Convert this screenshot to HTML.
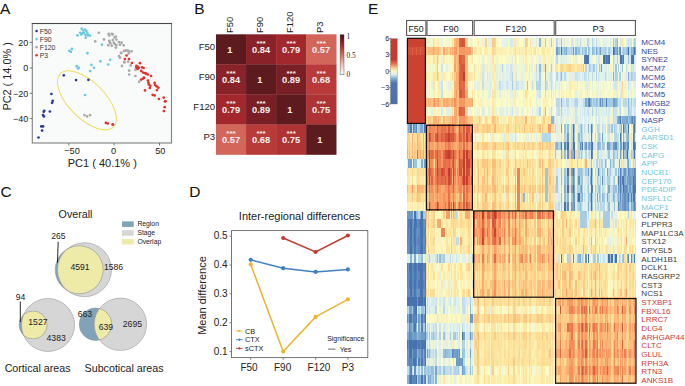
<!DOCTYPE html>
<html><head><meta charset="utf-8"><style>
html,body{margin:0;padding:0;background:#fff;width:685px;height:386px;overflow:hidden;}
svg{display:block;font-family:"Liberation Sans",sans-serif;}
</style></head><body><svg width="685" height="386" viewBox="0 0 685 386" font-family="Liberation Sans, sans-serif"><text x="0.0" y="14.2" font-size="15.5" fill="#111">A</text>
<text x="194.3" y="14.2" font-size="15.5" fill="#111">B</text>
<text x="368.0" y="14.2" font-size="15.5" fill="#111">E</text>
<text x="0.6" y="196.9" font-size="15.5" fill="#111">C</text>
<text x="189.3" y="197.1" font-size="15.5" fill="#111">D</text>
<rect x="32.3" y="23.5" width="139.2" height="119.5" fill="#f9fafa" stroke="#858585" stroke-width="1.15"/>
<line x1="31.799999999999997" y1="23.5" x2="172.0" y2="23.5" stroke="#4a4a4a" stroke-width="1.15"/>
<line x1="68.8" y1="143.0" x2="68.8" y2="145.5" stroke="#555" stroke-width="0.8"/>
<text x="72.0" y="154.3" font-size="9.2" text-anchor="middle" fill="#222">−50</text>
<line x1="114.1" y1="143.0" x2="114.1" y2="145.5" stroke="#555" stroke-width="0.8"/>
<text x="113.6" y="154.3" font-size="9.2" text-anchor="middle" fill="#222">0</text>
<line x1="159.5" y1="143.0" x2="159.5" y2="145.5" stroke="#555" stroke-width="0.8"/>
<text x="160.3" y="154.3" font-size="9.2" text-anchor="middle" fill="#222">50</text>
<line x1="29.799999999999997" y1="42.4" x2="32.3" y2="42.4" stroke="#555" stroke-width="0.8"/>
<text x="28.3" y="45.6" font-size="9" text-anchor="end" fill="#222">20</text>
<line x1="29.799999999999997" y1="68.0" x2="32.3" y2="68.0" stroke="#555" stroke-width="0.8"/>
<text x="28.3" y="71.2" font-size="9" text-anchor="end" fill="#222">0</text>
<line x1="29.799999999999997" y1="93.3" x2="32.3" y2="93.3" stroke="#555" stroke-width="0.8"/>
<text x="28.3" y="96.5" font-size="9" text-anchor="end" fill="#222">−20</text>
<line x1="29.799999999999997" y1="118.6" x2="32.3" y2="118.6" stroke="#555" stroke-width="0.8"/>
<text x="28.3" y="121.8" font-size="9" text-anchor="end" fill="#222">−40</text>
<text x="102.3" y="166.5" font-size="11" text-anchor="middle" fill="#222">PC1 ( 40.1% )</text>
<text transform="translate(11.0,76.4) rotate(-90)" x="0" y="0" font-size="10.9" text-anchor="middle" fill="#222">PC2 ( 14.0% )</text>
<ellipse cx="86.9" cy="100.3" rx="37.6" ry="18.1" transform="rotate(45 86.9 100.3)" fill="none" stroke="#efdc5e" stroke-width="1.05"/>
<circle cx="98.8" cy="32.8" r="1.35" fill="#a9a9a9"/>
<circle cx="108.7" cy="33.9" r="1.35" fill="#a9a9a9"/>
<circle cx="111.8" cy="33.9" r="1.35" fill="#a9a9a9"/>
<circle cx="112.8" cy="34.4" r="1.35" fill="#a9a9a9"/>
<circle cx="109.2" cy="35.4" r="1.35" fill="#a9a9a9"/>
<circle cx="115.9" cy="36.5" r="1.35" fill="#a9a9a9"/>
<circle cx="104" cy="39.4" r="1.35" fill="#a9a9a9"/>
<circle cx="95.2" cy="41.4" r="1.35" fill="#a9a9a9"/>
<circle cx="109.2" cy="40.8" r="1.35" fill="#a9a9a9"/>
<circle cx="112.8" cy="40.1" r="1.35" fill="#a9a9a9"/>
<circle cx="116.4" cy="39.6" r="1.35" fill="#a9a9a9"/>
<circle cx="109.7" cy="42.2" r="1.35" fill="#a9a9a9"/>
<circle cx="113.8" cy="42.7" r="1.35" fill="#a9a9a9"/>
<circle cx="119" cy="42.2" r="1.35" fill="#a9a9a9"/>
<circle cx="121.6" cy="42.7" r="1.35" fill="#a9a9a9"/>
<circle cx="108.2" cy="45.3" r="1.35" fill="#a9a9a9"/>
<circle cx="111.8" cy="45.8" r="1.35" fill="#a9a9a9"/>
<circle cx="114.9" cy="44.2" r="1.35" fill="#a9a9a9"/>
<circle cx="116.4" cy="45.3" r="1.35" fill="#a9a9a9"/>
<circle cx="120" cy="44.7" r="1.35" fill="#a9a9a9"/>
<circle cx="123.7" cy="45.3" r="1.35" fill="#a9a9a9"/>
<circle cx="115.9" cy="47.6" r="1.35" fill="#a9a9a9"/>
<circle cx="124.2" cy="51" r="1.35" fill="#a9a9a9"/>
<circle cx="128.3" cy="51" r="1.35" fill="#a9a9a9"/>
<circle cx="121.1" cy="53" r="1.35" fill="#a9a9a9"/>
<circle cx="119" cy="56.1" r="1.35" fill="#a9a9a9"/>
<circle cx="120" cy="57.7" r="1.35" fill="#a9a9a9"/>
<circle cx="124.2" cy="61.8" r="1.35" fill="#a9a9a9"/>
<circle cx="123.9" cy="51" r="1.35" fill="#a9a9a9"/>
<circle cx="125.8" cy="50.4" r="1.35" fill="#a9a9a9"/>
<circle cx="127.7" cy="50.5" r="1.35" fill="#a9a9a9"/>
<circle cx="129.2" cy="51.5" r="1.35" fill="#a9a9a9"/>
<circle cx="131.6" cy="51.3" r="1.35" fill="#a9a9a9"/>
<circle cx="128.7" cy="53.4" r="1.35" fill="#a9a9a9"/>
<circle cx="121" cy="52.9" r="1.35" fill="#a9a9a9"/>
<circle cx="124.4" cy="62.5" r="1.35" fill="#a9a9a9"/>
<circle cx="128.2" cy="61.6" r="1.35" fill="#a9a9a9"/>
<circle cx="122" cy="65.9" r="1.35" fill="#a9a9a9"/>
<circle cx="130.6" cy="65.4" r="1.35" fill="#a9a9a9"/>
<circle cx="129.2" cy="70.7" r="1.35" fill="#a9a9a9"/>
<circle cx="135.4" cy="69.7" r="1.35" fill="#a9a9a9"/>
<circle cx="129.2" cy="74.5" r="1.35" fill="#a9a9a9"/>
<circle cx="135.4" cy="76" r="1.35" fill="#a9a9a9"/>
<circle cx="139.2" cy="81.7" r="1.35" fill="#a9a9a9"/>
<circle cx="84.5" cy="115.1" r="1.35" fill="#a9a9a9"/>
<circle cx="87.1" cy="116.4" r="1.35" fill="#a9a9a9"/>
<circle cx="90.1" cy="115.1" r="1.35" fill="#a9a9a9"/>
<circle cx="114.5" cy="37.5" r="1.35" fill="#a9a9a9"/>
<circle cx="110.5" cy="43.5" r="1.35" fill="#a9a9a9"/>
<circle cx="81.7" cy="28.7" r="1.35" fill="#6cc8de"/>
<circle cx="84.9" cy="29.7" r="1.35" fill="#6cc8de"/>
<circle cx="86.4" cy="31.1" r="1.35" fill="#6cc8de"/>
<circle cx="80.2" cy="32.8" r="1.35" fill="#6cc8de"/>
<circle cx="82.3" cy="33.4" r="1.35" fill="#6cc8de"/>
<circle cx="83.8" cy="32.8" r="1.35" fill="#6cc8de"/>
<circle cx="87.4" cy="33.4" r="1.35" fill="#6cc8de"/>
<circle cx="81.2" cy="34.4" r="1.35" fill="#6cc8de"/>
<circle cx="77.6" cy="35.4" r="1.35" fill="#6cc8de"/>
<circle cx="88" cy="35.4" r="1.35" fill="#6cc8de"/>
<circle cx="90" cy="35.6" r="1.35" fill="#6cc8de"/>
<circle cx="85.7" cy="37.7" r="1.35" fill="#6cc8de"/>
<circle cx="101.9" cy="44.7" r="1.35" fill="#6cc8de"/>
<circle cx="71.9" cy="48.9" r="1.35" fill="#6cc8de"/>
<circle cx="69.3" cy="50.8" r="1.35" fill="#6cc8de"/>
<circle cx="70.9" cy="51.8" r="1.35" fill="#6cc8de"/>
<circle cx="87.4" cy="53.2" r="1.35" fill="#6cc8de"/>
<circle cx="100.4" cy="61.3" r="1.35" fill="#6cc8de"/>
<circle cx="110.2" cy="59.8" r="1.35" fill="#6cc8de"/>
<circle cx="76.7" cy="66.2" r="1.35" fill="#6cc8de"/>
<circle cx="78.7" cy="67.8" r="1.35" fill="#6cc8de"/>
<circle cx="78" cy="68.4" r="1.35" fill="#6cc8de"/>
<circle cx="91.4" cy="64.9" r="1.35" fill="#6cc8de"/>
<circle cx="94" cy="67.8" r="1.35" fill="#6cc8de"/>
<circle cx="90.1" cy="71" r="1.35" fill="#6cc8de"/>
<circle cx="108.2" cy="64.5" r="1.35" fill="#6cc8de"/>
<circle cx="85.1" cy="95" r="1.35" fill="#6cc8de"/>
<circle cx="83.2" cy="30.5" r="1.35" fill="#6cc8de"/>
<circle cx="85.5" cy="34.8" r="1.35" fill="#6cc8de"/>
<circle cx="126.5" cy="55.5" r="1.35" fill="#e3302a"/>
<circle cx="124.9" cy="59" r="1.35" fill="#e3302a"/>
<circle cx="129" cy="59" r="1.35" fill="#e3302a"/>
<circle cx="131.9" cy="63" r="1.35" fill="#e3302a"/>
<circle cx="139.9" cy="63.2" r="1.35" fill="#e3302a"/>
<circle cx="136.4" cy="65.9" r="1.35" fill="#e3302a"/>
<circle cx="137.8" cy="66.8" r="1.35" fill="#e3302a"/>
<circle cx="138.8" cy="67.8" r="1.35" fill="#e3302a"/>
<circle cx="136.4" cy="67.3" r="1.35" fill="#e3302a"/>
<circle cx="142.1" cy="67.3" r="1.35" fill="#e3302a"/>
<circle cx="143.6" cy="68" r="1.35" fill="#e3302a"/>
<circle cx="141.2" cy="70.9" r="1.35" fill="#e3302a"/>
<circle cx="143.1" cy="72.6" r="1.35" fill="#e3302a"/>
<circle cx="145" cy="73.1" r="1.35" fill="#e3302a"/>
<circle cx="146" cy="73.7" r="1.35" fill="#e3302a"/>
<circle cx="147.9" cy="74.5" r="1.35" fill="#e3302a"/>
<circle cx="151" cy="76" r="1.35" fill="#e3302a"/>
<circle cx="141.2" cy="79.6" r="1.35" fill="#e3302a"/>
<circle cx="143.1" cy="78.6" r="1.35" fill="#e3302a"/>
<circle cx="144" cy="77.7" r="1.35" fill="#e3302a"/>
<circle cx="147.9" cy="80.5" r="1.35" fill="#e3302a"/>
<circle cx="148.4" cy="82.5" r="1.35" fill="#e3302a"/>
<circle cx="148.8" cy="84.4" r="1.35" fill="#e3302a"/>
<circle cx="150.3" cy="85.8" r="1.35" fill="#e3302a"/>
<circle cx="149.8" cy="88" r="1.35" fill="#e3302a"/>
<circle cx="154.6" cy="82.9" r="1.35" fill="#e3302a"/>
<circle cx="155.1" cy="84.9" r="1.35" fill="#e3302a"/>
<circle cx="156.5" cy="86.3" r="1.35" fill="#e3302a"/>
<circle cx="158.4" cy="87.7" r="1.35" fill="#e3302a"/>
<circle cx="157" cy="90.1" r="1.35" fill="#e3302a"/>
<circle cx="145" cy="90.4" r="1.35" fill="#e3302a"/>
<circle cx="152.7" cy="94.9" r="1.35" fill="#e3302a"/>
<circle cx="154.6" cy="95.4" r="1.35" fill="#e3302a"/>
<circle cx="158.9" cy="99" r="1.35" fill="#e3302a"/>
<circle cx="163.7" cy="97.6" r="1.35" fill="#e3302a"/>
<circle cx="165.1" cy="101.2" r="1.35" fill="#e3302a"/>
<circle cx="165.3" cy="101.4" r="1.35" fill="#e3302a"/>
<circle cx="164.7" cy="107.2" r="1.35" fill="#e3302a"/>
<circle cx="163.8" cy="111.1" r="1.35" fill="#e3302a"/>
<circle cx="112.6" cy="124.5" r="1.35" fill="#e3302a"/>
<circle cx="105.9" cy="122.9" r="1.35" fill="#e3302a"/>
<circle cx="107.8" cy="123.5" r="1.35" fill="#e3302a"/>
<circle cx="113" cy="124.5" r="1.35" fill="#e3302a"/>
<circle cx="137.5" cy="69" r="1.35" fill="#e3302a"/>
<circle cx="63.8" cy="75.3" r="1.35" fill="#2b3a9a"/>
<circle cx="76.1" cy="80.1" r="1.35" fill="#2b3a9a"/>
<circle cx="88.4" cy="79.8" r="1.35" fill="#2b3a9a"/>
<circle cx="51.4" cy="94" r="1.35" fill="#2b3a9a"/>
<circle cx="52.7" cy="100.8" r="1.35" fill="#2b3a9a"/>
<circle cx="52.1" cy="102.8" r="1.35" fill="#2b3a9a"/>
<circle cx="44.3" cy="110.8" r="1.35" fill="#2b3a9a"/>
<circle cx="43.7" cy="111.8" r="1.35" fill="#2b3a9a"/>
<circle cx="49.9" cy="111.5" r="1.35" fill="#2b3a9a"/>
<circle cx="43" cy="115.1" r="1.35" fill="#2b3a9a"/>
<circle cx="43.9" cy="116.4" r="1.35" fill="#2b3a9a"/>
<circle cx="41.3" cy="126.4" r="1.35" fill="#2b3a9a"/>
<circle cx="43" cy="126.4" r="1.35" fill="#2b3a9a"/>
<circle cx="42.1" cy="130.6" r="1.35" fill="#2b3a9a"/>
<circle cx="38.5" cy="137.5" r="1.35" fill="#2b3a9a"/>
<circle cx="36.6" cy="31.00" r="1.3" fill="#2b3a9a"/>
<text x="39.7" y="33.85" font-size="6.9" fill="#333">F50</text>
<circle cx="36.6" cy="39.08" r="1.3" fill="#6cc8de"/>
<text x="39.7" y="41.93" font-size="6.9" fill="#333">F90</text>
<circle cx="36.6" cy="47.16" r="1.3" fill="#a9a9a9"/>
<text x="39.7" y="50.01" font-size="6.9" fill="#333">F120</text>
<circle cx="36.6" cy="55.24" r="1.3" fill="#e3302a"/>
<text x="39.7" y="58.09" font-size="6.9" fill="#333">P3</text>
<rect x="216.00" y="34.30" width="30.35" height="30.35" fill="#5d1a1f"/>
<text x="229.72" y="52.70" font-size="9.3" font-weight="bold" text-anchor="middle" fill="#f4eeee">1</text>
<rect x="246.05" y="34.30" width="30.35" height="30.35" fill="#8a2329"/>
<text x="261.07" y="52.70" font-size="9.3" font-weight="bold" text-anchor="middle" fill="#f4eeee">0.84</text>
<text x="261.07" y="45.60" font-size="8" font-weight="bold" text-anchor="middle" fill="#f4eeee">***</text>
<rect x="276.10" y="34.30" width="30.35" height="30.35" fill="#a2282d"/>
<text x="291.12" y="52.70" font-size="9.3" font-weight="bold" text-anchor="middle" fill="#f4eeee">0.79</text>
<text x="291.12" y="45.60" font-size="8" font-weight="bold" text-anchor="middle" fill="#f4eeee">***</text>
<rect x="306.15" y="34.30" width="30.35" height="30.35" fill="#d2665a"/>
<text x="321.17" y="52.70" font-size="9.3" font-weight="bold" text-anchor="middle" fill="#f4eeee">0.57</text>
<text x="321.17" y="45.60" font-size="8" font-weight="bold" text-anchor="middle" fill="#f4eeee">***</text>
<rect x="216.00" y="64.35" width="30.35" height="30.35" fill="#8a2329"/>
<text x="231.03" y="82.75" font-size="9.3" font-weight="bold" text-anchor="middle" fill="#f4eeee">0.84</text>
<text x="231.03" y="75.65" font-size="8" font-weight="bold" text-anchor="middle" fill="#f4eeee">***</text>
<rect x="246.05" y="64.35" width="30.35" height="30.35" fill="#5d1a1f"/>
<text x="259.77" y="82.75" font-size="9.3" font-weight="bold" text-anchor="middle" fill="#f4eeee">1</text>
<rect x="276.10" y="64.35" width="30.35" height="30.35" fill="#7a1f25"/>
<text x="291.12" y="82.75" font-size="9.3" font-weight="bold" text-anchor="middle" fill="#f4eeee">0.89</text>
<text x="291.12" y="75.65" font-size="8" font-weight="bold" text-anchor="middle" fill="#f4eeee">***</text>
<rect x="306.15" y="64.35" width="30.35" height="30.35" fill="#b83b3a"/>
<text x="321.17" y="82.75" font-size="9.3" font-weight="bold" text-anchor="middle" fill="#f4eeee">0.68</text>
<text x="321.17" y="75.65" font-size="8" font-weight="bold" text-anchor="middle" fill="#f4eeee">***</text>
<rect x="216.00" y="94.40" width="30.35" height="30.35" fill="#a2282d"/>
<text x="231.03" y="112.80" font-size="9.3" font-weight="bold" text-anchor="middle" fill="#f4eeee">0.79</text>
<text x="231.03" y="105.70" font-size="8" font-weight="bold" text-anchor="middle" fill="#f4eeee">***</text>
<rect x="246.05" y="94.40" width="30.35" height="30.35" fill="#7a1f25"/>
<text x="261.07" y="112.80" font-size="9.3" font-weight="bold" text-anchor="middle" fill="#f4eeee">0.89</text>
<text x="261.07" y="105.70" font-size="8" font-weight="bold" text-anchor="middle" fill="#f4eeee">***</text>
<rect x="276.10" y="94.40" width="30.35" height="30.35" fill="#5d1a1f"/>
<text x="289.82" y="112.80" font-size="9.3" font-weight="bold" text-anchor="middle" fill="#f4eeee">1</text>
<rect x="306.15" y="94.40" width="30.35" height="30.35" fill="#ae3334"/>
<text x="321.17" y="112.80" font-size="9.3" font-weight="bold" text-anchor="middle" fill="#f4eeee">0.75</text>
<text x="321.17" y="105.70" font-size="8" font-weight="bold" text-anchor="middle" fill="#f4eeee">***</text>
<rect x="216.00" y="124.45" width="30.35" height="30.35" fill="#d2665a"/>
<text x="231.03" y="142.85" font-size="9.3" font-weight="bold" text-anchor="middle" fill="#f4eeee">0.57</text>
<text x="231.03" y="135.75" font-size="8" font-weight="bold" text-anchor="middle" fill="#f4eeee">***</text>
<rect x="246.05" y="124.45" width="30.35" height="30.35" fill="#b83b3a"/>
<text x="261.07" y="142.85" font-size="9.3" font-weight="bold" text-anchor="middle" fill="#f4eeee">0.68</text>
<text x="261.07" y="135.75" font-size="8" font-weight="bold" text-anchor="middle" fill="#f4eeee">***</text>
<rect x="276.10" y="124.45" width="30.35" height="30.35" fill="#ae3334"/>
<text x="291.12" y="142.85" font-size="9.3" font-weight="bold" text-anchor="middle" fill="#f4eeee">0.75</text>
<text x="291.12" y="135.75" font-size="8" font-weight="bold" text-anchor="middle" fill="#f4eeee">***</text>
<rect x="306.15" y="124.45" width="30.35" height="30.35" fill="#5d1a1f"/>
<text x="319.87" y="142.85" font-size="9.3" font-weight="bold" text-anchor="middle" fill="#f4eeee">1</text>
<text x="215.2" y="50.10" font-size="9.6" text-anchor="end" fill="#222">F50</text>
<text transform="translate(233.03,33.0) rotate(-90)" font-size="9.4" fill="#222">F50</text>
<text x="215.2" y="80.15" font-size="9.6" text-anchor="end" fill="#222">F90</text>
<text transform="translate(263.07,33.0) rotate(-90)" font-size="9.4" fill="#222">F90</text>
<text x="215.2" y="110.20" font-size="9.6" text-anchor="end" fill="#222">F120</text>
<text transform="translate(293.12,33.0) rotate(-90)" font-size="9.4" fill="#222">F120</text>
<text x="215.2" y="140.25" font-size="9.6" text-anchor="end" fill="#222">P3</text>
<text transform="translate(323.17,33.0) rotate(-90)" font-size="9.4" fill="#222">P3</text>
<defs><linearGradient id="gB" x1="0" y1="1" x2="0" y2="0"><stop offset="0" stop-color="#ffffff"/><stop offset="0.25" stop-color="#f2c4b4"/><stop offset="0.5" stop-color="#d6705e"/><stop offset="0.75" stop-color="#a22a2e"/><stop offset="1" stop-color="#4a0c12"/></linearGradient></defs>
<rect x="340.1" y="34.8" width="3.9" height="40" fill="url(#gB)" stroke="#333" stroke-width="0.4"/>
<text x="346.6" y="38.9" font-size="7.3" font-family="Liberation Serif, serif" fill="#222">1</text>
<text x="346.6" y="58.0" font-size="7.3" font-family="Liberation Serif, serif" fill="#222">0.5</text>
<text x="346.6" y="77.0" font-size="7.3" font-family="Liberation Serif, serif" fill="#222">0</text>
<defs><clipPath id="c1"><circle cx="84.5" cy="269.7" r="27.0"/></clipPath></defs>
<circle cx="84.5" cy="269.7" r="27.0" fill="#d6d6d6"/>
<circle cx="79.2" cy="269.8" r="24.0" fill="#7fa3b8"/>
<circle cx="79.2" cy="269.8" r="24.0" fill="#eeeaa8" clip-path="url(#c1)"/>
<circle cx="84.5" cy="269.7" r="27.0" fill="none" stroke="#9a9a9a" stroke-width="0.6"/>
<circle cx="79.2" cy="269.8" r="24.0" fill="none" stroke="#9a9a9a" stroke-width="0.6"/>
<defs><clipPath id="c2"><circle cx="48.0" cy="325.0" r="26.5"/></clipPath></defs>
<circle cx="48.0" cy="325.0" r="26.5" fill="#d6d6d6"/>
<circle cx="33.1" cy="325.0" r="14.0" fill="#7fa3b8"/>
<circle cx="33.1" cy="325.0" r="14.0" fill="#eeeaa8" clip-path="url(#c2)"/>
<circle cx="48.0" cy="325.0" r="26.5" fill="none" stroke="#9a9a9a" stroke-width="0.6"/>
<circle cx="33.1" cy="325.0" r="14.0" fill="none" stroke="#9a9a9a" stroke-width="0.6"/>
<defs><clipPath id="c3"><circle cx="120.4" cy="324.3" r="26.2"/></clipPath></defs>
<circle cx="120.4" cy="324.3" r="26.2" fill="#d6d6d6"/>
<circle cx="95.5" cy="324.2" r="16.3" fill="#7fa3b8"/>
<circle cx="95.5" cy="324.2" r="16.3" fill="#eeeaa8" clip-path="url(#c3)"/>
<circle cx="120.4" cy="324.3" r="26.2" fill="none" stroke="#9a9a9a" stroke-width="0.6"/>
<circle cx="95.5" cy="324.2" r="16.3" fill="none" stroke="#9a9a9a" stroke-width="0.6"/>
<text x="75.5" y="217.5" font-size="10.7" text-anchor="middle" fill="#222">Overall</text>
<text x="37.6" y="372" font-size="10.7" text-anchor="middle" fill="#222">Cortical areas</text>
<text x="124.1" y="372" font-size="10.7" text-anchor="middle" fill="#222">Subcotical areas</text>
<text x="58.4" y="238.9" font-size="8.6" text-anchor="middle" fill="#222">265</text>
<text x="80.0" y="270.2" font-size="8.6" text-anchor="middle" fill="#222">4591</text>
<text x="37.9" y="324.7" font-size="8.6" text-anchor="middle" fill="#222">1527</text>
<text x="84.8" y="317.4" font-size="8.6" text-anchor="middle" fill="#222">663</text>
<text x="105.9" y="330.0" font-size="8.6" text-anchor="middle" fill="#222">639</text>
<text x="132.4" y="326.9" font-size="8.6" text-anchor="middle" fill="#222">2695</text>
<text x="104" y="270.2" font-size="8.6" fill="#222">1586</text>
<text x="46.6" y="341.0" font-size="8.6" fill="#222">4383</text>
<text x="20.5" y="300.2" font-size="8.6" text-anchor="middle" fill="#222">94</text>
<line x1="58.2" y1="241.8" x2="57.5" y2="262.5" stroke="#111" stroke-width="0.9"/>
<line x1="20.3" y1="301.5" x2="20.3" y2="322" stroke="#111" stroke-width="0.9"/>
<rect x="122" y="221.4" width="11.7" height="5.5" fill="#7fa3b8"/>
<text x="137.4" y="226.3" font-size="6.8" fill="#222">Region</text>
<rect x="122" y="230.20000000000002" width="11.7" height="5.5" fill="#d6d6d6"/>
<text x="137.4" y="235.10000000000002" font-size="6.8" fill="#222">Stage</text>
<rect x="122" y="239.0" width="11.7" height="5.5" fill="#eeeaa8"/>
<text x="137.4" y="243.9" font-size="6.8" fill="#222">Overlap</text>
<rect x="231.5" y="230.6" width="136.3" height="127.00000000000003" fill="#fff" stroke="#666" stroke-width="0.9"/>
<line x1="229.5" y1="351.60" x2="231.5" y2="351.60" stroke="#666" stroke-width="0.8"/>
<text x="227.6" y="354.80" font-size="10" text-anchor="end" fill="#222">0.1</text>
<line x1="229.5" y1="322.75" x2="231.5" y2="322.75" stroke="#666" stroke-width="0.8"/>
<text x="227.6" y="325.95" font-size="10" text-anchor="end" fill="#222">0.2</text>
<line x1="229.5" y1="293.90" x2="231.5" y2="293.90" stroke="#666" stroke-width="0.8"/>
<text x="227.6" y="297.10" font-size="10" text-anchor="end" fill="#222">0.3</text>
<line x1="229.5" y1="265.05" x2="231.5" y2="265.05" stroke="#666" stroke-width="0.8"/>
<text x="227.6" y="268.25" font-size="10" text-anchor="end" fill="#222">0.4</text>
<line x1="229.5" y1="236.20" x2="231.5" y2="236.20" stroke="#666" stroke-width="0.8"/>
<text x="227.6" y="239.40" font-size="10" text-anchor="end" fill="#222">0.5</text>
<line x1="250.7" y1="357.6" x2="250.7" y2="359.8" stroke="#666" stroke-width="0.8"/>
<text x="249.0" y="370.7" font-size="10" text-anchor="middle" fill="#222">F50</text>
<line x1="283.2" y1="357.6" x2="283.2" y2="359.8" stroke="#666" stroke-width="0.8"/>
<text x="282.6" y="370.7" font-size="10" text-anchor="middle" fill="#222">F90</text>
<line x1="315.6" y1="357.6" x2="315.6" y2="359.8" stroke="#666" stroke-width="0.8"/>
<text x="319.0" y="370.7" font-size="10" text-anchor="middle" fill="#222">F120</text>
<line x1="347.9" y1="357.6" x2="347.9" y2="359.8" stroke="#666" stroke-width="0.8"/>
<text x="347.9" y="370.7" font-size="10" text-anchor="middle" fill="#222">P3</text>
<text x="299.6" y="220.2" font-size="11" text-anchor="middle" fill="#222">Inter-regional differences</text>
<text transform="translate(205.6,295.5) rotate(-90)" font-size="11" text-anchor="middle" fill="#222">Mean difference</text>
<polyline points="283.2,238 315.6,252 347.9,235.5" fill="none" stroke="#c13b30" stroke-width="1.5"/>
<circle cx="283.2" cy="238" r="2.1" fill="#c13b30"/>
<circle cx="315.6" cy="252" r="2.1" fill="#c13b30"/>
<circle cx="347.9" cy="235.5" r="2.1" fill="#c13b30"/>
<polyline points="250.7,259.8 283.2,268.2 315.6,271.9 347.9,269.4" fill="none" stroke="#3f80c0" stroke-width="1.5"/>
<circle cx="250.7" cy="259.8" r="2.1" fill="#3f80c0"/>
<circle cx="283.2" cy="268.2" r="2.1" fill="#3f80c0"/>
<circle cx="315.6" cy="271.9" r="2.1" fill="#3f80c0"/>
<circle cx="347.9" cy="269.4" r="2.1" fill="#3f80c0"/>
<polyline points="250.7,264.4 283.2,351.6 315.6,316.9 347.9,299.3" fill="none" stroke="#ebb52f" stroke-width="1.5"/>
<circle cx="250.7" cy="264.4" r="2.1" fill="#ebb52f"/>
<circle cx="283.2" cy="351.6" r="2.1" fill="#ebb52f"/>
<circle cx="315.6" cy="316.9" r="2.1" fill="#ebb52f"/>
<circle cx="347.9" cy="299.3" r="2.1" fill="#ebb52f"/>
<line x1="236" y1="331.0" x2="242.7" y2="331.0" stroke="#ebb52f" stroke-width="0.9"/>
<circle cx="239.3" cy="331.0" r="1.1" fill="#ebb52f"/>
<text x="245.1" y="333.6" font-size="7.3" fill="#222">CB</text>
<line x1="236" y1="339.7" x2="242.7" y2="339.7" stroke="#3f80c0" stroke-width="0.9"/>
<circle cx="239.3" cy="339.7" r="1.1" fill="#3f80c0"/>
<text x="245.1" y="342.3" font-size="7.3" fill="#222">CTX</text>
<line x1="236" y1="348.4" x2="242.7" y2="348.4" stroke="#c13b30" stroke-width="0.9"/>
<circle cx="239.3" cy="348.4" r="1.1" fill="#c13b30"/>
<text x="245.1" y="351.0" font-size="7.3" fill="#222">sCTX</text>
<text x="327.2" y="340.5" font-size="6.9" fill="#222">Significance</text>
<line x1="328" y1="349.1" x2="335.4" y2="349.1" stroke="#444" stroke-width="0.8"/>
<text x="339.7" y="351.6" font-size="7.2" fill="#222">Yes</text>
<defs><linearGradient id="gE" x1="0" y1="0" x2="0" y2="1"><stop offset="0" stop-color="#c63b2e"/><stop offset="0.32" stop-color="#c63b2e"/><stop offset="0.40" stop-color="#f08050"/><stop offset="0.45" stop-color="#fbd08a"/><stop offset="0.5" stop-color="#fdf8c8"/><stop offset="0.55" stop-color="#d6ecf0"/><stop offset="0.62" stop-color="#7da3cd"/><stop offset="0.68" stop-color="#4f76b0"/><stop offset="1" stop-color="#4a70ab"/></linearGradient></defs>
<rect x="390.5" y="38.7" width="6.7" height="65.3" fill="url(#gE)" stroke="#6a6a6a" stroke-width="0.35"/>
<text x="389.2" y="41.2" font-size="7.2" text-anchor="end" fill="#222">6</text>
<line x1="389" y1="38.7" x2="390.5" y2="38.7" stroke="#444" stroke-width="0.6"/>
<text x="389.2" y="57.2" font-size="7.2" text-anchor="end" fill="#222">3</text>
<line x1="389" y1="54.7" x2="390.5" y2="54.7" stroke="#444" stroke-width="0.6"/>
<text x="389.2" y="73.7" font-size="7.2" text-anchor="end" fill="#222">0</text>
<line x1="389" y1="71.2" x2="390.5" y2="71.2" stroke="#444" stroke-width="0.6"/>
<text x="389.2" y="90.1" font-size="7.2" text-anchor="end" fill="#222">−3</text>
<line x1="389" y1="87.6" x2="390.5" y2="87.6" stroke="#444" stroke-width="0.6"/>
<text x="389.2" y="106.5" font-size="7.2" text-anchor="end" fill="#222">−6</text>
<line x1="389" y1="104" x2="390.5" y2="104" stroke="#444" stroke-width="0.6"/>
<rect x="406.6" y="20.5" width="19.299999999999955" height="15" fill="#fff" stroke="#5a5a5a" stroke-width="1.1"/>
<text x="408.45" y="31.9" font-size="9.8" textLength="15.1" lengthAdjust="spacingAndGlyphs" fill="#222">F50</text>
<rect x="427.0" y="20.5" width="45.60000000000002" height="15" fill="#fff" stroke="#5a5a5a" stroke-width="1.1"/>
<text x="443.35" y="31.9" font-size="9.8" textLength="15.299999999999999" lengthAdjust="spacingAndGlyphs" fill="#222">F90</text>
<rect x="474.2" y="20.5" width="80.00000000000006" height="15" fill="#fff" stroke="#5a5a5a" stroke-width="1.1"/>
<text x="505.55" y="31.9" font-size="9.8" textLength="20.900000000000002" lengthAdjust="spacingAndGlyphs" fill="#222">F120</text>
<rect x="555.7" y="20.5" width="79.69999999999993" height="15" fill="#fff" stroke="#5a5a5a" stroke-width="1.1"/>
<text x="592.55" y="31.9" font-size="9.8" textLength="11.5" lengthAdjust="spacingAndGlyphs" fill="#222">P3</text>
<g shape-rendering="crispEdges"><path fill="#cc4230" d="M407 37.90h19v8.64h-19zM407 55.19h19v8.64h-19zM407 63.83h19v8.64h-19zM407 72.47h19v8.64h-19zM407 81.11h19v8.64h-19zM407 89.76h19v8.64h-19zM407 98.40h19v8.64h-19zM407 107.04h19v8.64h-19zM407 115.68h19v8.64h-19zM437 132.97h1v8.64h-1zM466 132.97h2v8.64h-2zM463 150.25h2v8.64h-2zM466 158.90h4v8.64h-4zM437 167.54h1v8.64h-1zM494 228.04h2v8.64h-2zM482 236.68h2v8.64h-2z"/><path fill="#f6fccc" d="M426 37.90h1v8.64h-1zM450 37.90h1v8.64h-1zM508 37.90h1v8.64h-1zM520 37.90h1v8.64h-1zM548 37.90h1v8.64h-1zM427 55.19h1v8.64h-1zM443 63.83h2v8.64h-2zM472 63.83h1v8.64h-1zM623 63.83h1v8.64h-1zM530 72.47h1v8.64h-1zM435 81.11h2v8.64h-2zM593 81.11h2v8.64h-2zM607 81.11h1v8.64h-1zM611 81.11h2v8.64h-2zM632 81.11h1v8.64h-1zM471 89.76h1v8.64h-1zM485 89.76h2v8.64h-2zM498 89.76h1v8.64h-1zM508 89.76h1v8.64h-1zM529 89.76h1v8.64h-1zM560 89.76h1v8.64h-1zM491 98.40h1v8.64h-1zM496 98.40h1v8.64h-1zM504 98.40h1v8.64h-1zM532 98.40h1v8.64h-1zM549 98.40h2v8.64h-2zM428 107.04h1v8.64h-1zM445 107.04h1v8.64h-1zM525 107.04h2v8.64h-2zM529 107.04h1v8.64h-1zM533 107.04h1v8.64h-1zM541 107.04h1v8.64h-1zM546 107.04h2v8.64h-2zM593 115.68h2v8.64h-2zM517 132.97h2v8.64h-2zM629 141.61h2v8.64h-2zM491 150.25h1v8.64h-1zM509 167.54h1v8.64h-1zM536 176.18h1v8.64h-1zM536 202.11h1v8.64h-1zM458 210.75h1v8.64h-1zM602 210.75h1v8.64h-1zM621 210.75h1v8.64h-1zM623 210.75h1v8.64h-1zM632 210.75h1v8.64h-1zM634 228.04h1v8.64h-1zM472 236.68h1v8.64h-1zM423 253.96h1v8.64h-1zM451 253.96h1v8.64h-1zM460 253.96h2v8.64h-2zM587 253.96h1v8.64h-1zM596 253.96h1v8.64h-1zM617 253.96h1v8.64h-1zM429 271.25h1v8.64h-1zM465 279.89h1v8.64h-1zM608 279.89h2v8.64h-2zM438 297.18h1v8.64h-1zM448 305.82h2v8.64h-2zM482 305.82h2v8.64h-2zM528 305.82h1v8.64h-1zM429 314.46h1v8.64h-1zM496 323.10h1v8.64h-1zM520 323.10h1v8.64h-1zM533 323.10h1v8.64h-1zM454 357.67h2v8.64h-2zM520 366.32h1v8.64h-1zM533 366.32h1v8.64h-1zM548 366.32h1v8.64h-1zM463 374.96h2v8.64h-2z"/><path fill="#e4f0e4" d="M427 37.90h1v8.64h-1zM490 37.90h1v8.64h-1zM504 37.90h1v8.64h-1zM532 37.90h1v8.64h-1zM541 37.90h1v8.64h-1zM549 37.90h2v8.64h-2zM584 37.90h1v8.64h-1zM599 37.90h1v8.64h-1zM482 55.19h2v8.64h-2zM512 55.19h1v8.64h-1zM539 55.19h2v8.64h-2zM562 55.19h4v8.64h-4zM573 55.19h1v8.64h-1zM575 55.19h2v8.64h-2zM615 55.19h2v8.64h-2zM626 55.19h1v8.64h-1zM446 63.83h2v8.64h-2zM487 63.83h1v8.64h-1zM491 63.83h1v8.64h-1zM499 63.83h3v8.64h-3zM516 63.83h1v8.64h-1zM531 63.83h1v8.64h-1zM537 63.83h2v8.64h-2zM542 63.83h1v8.64h-1zM546 63.83h2v8.64h-2zM552 63.83h1v8.64h-1zM595 63.83h1v8.64h-1zM603 63.83h3v8.64h-3zM608 63.83h2v8.64h-2zM614 63.83h1v8.64h-1zM620 63.83h2v8.64h-2zM484 72.47h1v8.64h-1zM488 72.47h2v8.64h-2zM504 72.47h1v8.64h-1zM506 72.47h2v8.64h-2zM521 72.47h2v8.64h-2zM532 72.47h1v8.64h-1zM534 72.47h2v8.64h-2zM537 72.47h2v8.64h-2zM546 72.47h2v8.64h-2zM554 72.47h1v8.64h-1zM589 72.47h1v8.64h-1zM591 72.47h1v8.64h-1zM593 72.47h2v8.64h-2zM611 72.47h2v8.64h-2zM448 81.11h2v8.64h-2zM473 81.11h5v8.64h-5zM485 81.11h2v8.64h-2zM496 81.11h3v8.64h-3zM501 81.11h1v8.64h-1zM504 81.11h1v8.64h-1zM509 81.11h1v8.64h-1zM519 81.11h2v8.64h-2zM524 81.11h1v8.64h-1zM533 81.11h1v8.64h-1zM542 81.11h1v8.64h-1zM554 81.11h1v8.64h-1zM561 81.11h1v8.64h-1zM589 81.11h1v8.64h-1zM598 81.11h1v8.64h-1zM488 89.76h2v8.64h-2zM575 89.76h2v8.64h-2zM617 89.76h1v8.64h-1zM620 89.76h1v8.64h-1zM631 89.76h1v8.64h-1zM634 89.76h1v8.64h-1zM536 98.40h1v8.64h-1zM569 98.40h2v8.64h-2zM427 107.04h1v8.64h-1zM431 107.04h2v8.64h-2zM448 107.04h2v8.64h-2zM470 107.04h1v8.64h-1zM479 107.04h1v8.64h-1zM484 107.04h1v8.64h-1zM496 107.04h1v8.64h-1zM502 107.04h1v8.64h-1zM510 107.04h2v8.64h-2zM516 107.04h3v8.64h-3zM521 107.04h2v8.64h-2zM569 107.04h2v8.64h-2zM589 107.04h2v8.64h-2zM593 107.04h2v8.64h-2zM599 107.04h1v8.64h-1zM627 107.04h1v8.64h-1zM567 115.68h2v8.64h-2zM573 115.68h1v8.64h-1zM589 115.68h2v8.64h-2zM607 115.68h1v8.64h-1zM558 124.33h2v8.64h-2zM585 124.33h2v8.64h-2zM490 132.97h1v8.64h-1zM501 132.97h1v8.64h-1zM503 132.97h1v8.64h-1zM505 132.97h1v8.64h-1zM509 132.97h1v8.64h-1zM528 132.97h1v8.64h-1zM635 132.97h1v8.64h-1zM596 141.61h1v8.64h-1zM606 141.61h1v8.64h-1zM541 150.25h1v8.64h-1zM545 150.25h1v8.64h-1zM560 150.25h1v8.64h-1zM606 150.25h1v8.64h-1zM418 158.90h2v8.64h-2zM566 158.90h1v8.64h-1zM590 158.90h1v8.64h-1zM617 158.90h2v8.64h-2zM620 158.90h1v8.64h-1zM624 158.90h3v8.64h-3zM575 184.82h2v8.64h-2zM590 184.82h1v8.64h-1zM504 193.47h1v8.64h-1zM531 193.47h1v8.64h-1zM596 193.47h1v8.64h-1zM562 202.11h2v8.64h-2zM575 202.11h2v8.64h-2zM611 202.11h2v8.64h-2zM634 210.75h1v8.64h-1zM611 219.39h2v8.64h-2zM573 236.68h1v8.64h-1zM608 236.68h2v8.64h-2zM430 253.96h1v8.64h-1zM434 253.96h1v8.64h-1zM445 253.96h3v8.64h-3zM471 253.96h1v8.64h-1zM566 253.96h1v8.64h-1zM571 253.96h2v8.64h-2zM606 253.96h1v8.64h-1zM443 279.89h2v8.64h-2zM429 288.53h1v8.64h-1zM437 288.53h1v8.64h-1zM426 297.18h1v8.64h-1zM441 297.18h2v8.64h-2zM457 297.18h1v8.64h-1zM468 297.18h2v8.64h-2zM434 305.82h1v8.64h-1zM439 305.82h2v8.64h-2zM454 305.82h2v8.64h-2zM457 305.82h2v8.64h-2zM472 305.82h1v8.64h-1zM479 305.82h1v8.64h-1zM417 323.10h1v8.64h-1zM426 323.10h1v8.64h-1zM451 323.10h1v8.64h-1zM466 323.10h2v8.64h-2zM472 323.10h1v8.64h-1zM430 331.75h1v8.64h-1zM437 331.75h2v8.64h-2zM446 331.75h2v8.64h-2zM458 331.75h1v8.64h-1zM430 340.39h1v8.64h-1zM439 340.39h2v8.64h-2zM459 340.39h1v8.64h-1zM472 340.39h1v8.64h-1zM471 349.03h1v8.64h-1zM428 357.67h1v8.64h-1zM434 357.67h1v8.64h-1zM472 357.67h1v8.64h-1zM452 366.32h1v8.64h-1zM468 366.32h2v8.64h-2zM490 366.32h1v8.64h-1zM437 374.96h1v8.64h-1z"/><path fill="#eaf0de" d="M428 37.90h1v8.64h-1zM482 37.90h2v8.64h-2zM553 37.90h1v8.64h-1zM560 37.90h1v8.64h-1zM562 37.90h4v8.64h-4zM567 37.90h2v8.64h-2zM581 37.90h1v8.64h-1zM441 55.19h2v8.64h-2zM490 55.19h1v8.64h-1zM532 55.19h1v8.64h-1zM589 55.19h2v8.64h-2zM490 63.83h1v8.64h-1zM542 72.47h1v8.64h-1zM569 72.47h2v8.64h-2zM574 72.47h1v8.64h-1zM610 72.47h1v8.64h-1zM624 72.47h2v8.64h-2zM627 72.47h1v8.64h-1zM427 81.11h1v8.64h-1zM478 81.11h1v8.64h-1zM487 81.11h1v8.64h-1zM531 81.11h1v8.64h-1zM610 81.11h1v8.64h-1zM619 81.11h1v8.64h-1zM624 81.11h2v8.64h-2zM633 81.11h1v8.64h-1zM635 81.11h1v8.64h-1zM426 89.76h1v8.64h-1zM558 89.76h2v8.64h-2zM561 89.76h1v8.64h-1zM600 89.76h1v8.64h-1zM615 89.76h2v8.64h-2zM622 98.40h1v8.64h-1zM446 107.04h2v8.64h-2zM477 107.04h1v8.64h-1zM549 107.04h2v8.64h-2zM560 107.04h1v8.64h-1zM574 107.04h1v8.64h-1zM591 107.04h1v8.64h-1zM571 115.68h2v8.64h-2zM574 115.68h1v8.64h-1zM578 115.68h2v8.64h-2zM581 115.68h1v8.64h-1zM595 115.68h1v8.64h-1zM618 124.33h1v8.64h-1zM475 132.97h2v8.64h-2zM525 132.97h2v8.64h-2zM556 132.97h2v8.64h-2zM605 132.97h1v8.64h-1zM618 150.25h1v8.64h-1zM407 158.90h1v8.64h-1zM417 158.90h1v8.64h-1zM598 158.90h1v8.64h-1zM575 167.54h2v8.64h-2zM606 167.54h1v8.64h-1zM584 176.18h1v8.64h-1zM589 176.18h1v8.64h-1zM583 184.82h1v8.64h-1zM601 193.47h1v8.64h-1zM605 193.47h1v8.64h-1zM615 202.11h2v8.64h-2zM573 210.75h1v8.64h-1zM614 210.75h1v8.64h-1zM588 219.39h1v8.64h-1zM631 219.39h1v8.64h-1zM631 236.68h1v8.64h-1zM608 245.32h2v8.64h-2zM448 253.96h2v8.64h-2zM635 253.96h1v8.64h-1zM437 271.25h1v8.64h-1zM437 297.18h1v8.64h-1zM459 297.18h1v8.64h-1zM430 305.82h1v8.64h-1zM451 305.82h1v8.64h-1zM551 305.82h1v8.64h-1zM462 314.46h1v8.64h-1zM448 331.75h2v8.64h-2zM443 340.39h2v8.64h-2zM446 340.39h2v8.64h-2zM466 340.39h2v8.64h-2zM471 340.39h1v8.64h-1zM441 349.03h2v8.64h-2zM465 349.03h1v8.64h-1zM468 349.03h2v8.64h-2zM426 357.67h1v8.64h-1zM431 357.67h2v8.64h-2zM448 357.67h2v8.64h-2zM471 357.67h1v8.64h-1zM439 374.96h2v8.64h-2zM454 374.96h2v8.64h-2zM465 374.96h1v8.64h-1z"/><path fill="#fcf0b4" d="M429 37.90h1v8.64h-1zM517 37.90h2v8.64h-2zM523 37.90h1v8.64h-1zM542 37.90h1v8.64h-1zM554 37.90h1v8.64h-1zM597 37.90h1v8.64h-1zM487 46.54h1v8.64h-1zM491 46.54h1v8.64h-1zM499 46.54h2v8.64h-2zM503 46.54h1v8.64h-1zM509 46.54h1v8.64h-1zM516 46.54h1v8.64h-1zM520 46.54h1v8.64h-1zM524 46.54h1v8.64h-1zM529 46.54h1v8.64h-1zM537 46.54h2v8.64h-2zM552 46.54h2v8.64h-2zM426 55.19h1v8.64h-1zM428 55.19h1v8.64h-1zM470 55.19h1v8.64h-1zM497 55.19h1v8.64h-1zM548 55.19h1v8.64h-1zM485 63.83h2v8.64h-2zM513 63.83h2v8.64h-2zM534 63.83h2v8.64h-2zM548 63.83h1v8.64h-1zM584 63.83h1v8.64h-1zM431 72.47h2v8.64h-2zM439 72.47h2v8.64h-2zM445 72.47h1v8.64h-1zM451 72.47h1v8.64h-1zM453 72.47h1v8.64h-1zM472 72.47h1v8.64h-1zM494 72.47h2v8.64h-2zM523 72.47h1v8.64h-1zM505 81.11h1v8.64h-1zM433 89.76h1v8.64h-1zM473 89.76h2v8.64h-2zM478 89.76h1v8.64h-1zM504 89.76h1v8.64h-1zM523 89.76h1v8.64h-1zM554 89.76h1v8.64h-1zM562 89.76h2v8.64h-2zM480 98.40h2v8.64h-2zM494 98.40h2v8.64h-2zM513 98.40h2v8.64h-2zM525 98.40h2v8.64h-2zM543 98.40h2v8.64h-2zM546 98.40h2v8.64h-2zM433 107.04h2v8.64h-2zM451 107.04h1v8.64h-1zM494 107.04h2v8.64h-2zM515 107.04h1v8.64h-1zM490 115.68h1v8.64h-1zM527 115.68h1v8.64h-1zM545 115.68h1v8.64h-1zM575 124.33h2v8.64h-2zM632 124.33h1v8.64h-1zM413 132.97h1v8.64h-1zM487 132.97h1v8.64h-1zM536 141.61h1v8.64h-1zM488 150.25h2v8.64h-2zM497 150.25h1v8.64h-1zM503 150.25h1v8.64h-1zM519 150.25h4v8.64h-4zM533 150.25h1v8.64h-1zM537 150.25h2v8.64h-2zM543 150.25h2v8.64h-2zM551 150.25h1v8.64h-1zM553 150.25h1v8.64h-1zM479 158.90h1v8.64h-1zM491 158.90h1v8.64h-1zM504 158.90h1v8.64h-1zM555 158.90h1v8.64h-1zM558 158.90h3v8.64h-3zM567 158.90h2v8.64h-2zM575 158.90h2v8.64h-2zM583 158.90h1v8.64h-1zM595 158.90h1v8.64h-1zM475 167.54h2v8.64h-2zM479 167.54h1v8.64h-1zM491 167.54h1v8.64h-1zM504 167.54h2v8.64h-2zM528 167.54h1v8.64h-1zM562 167.54h2v8.64h-2zM424 176.18h1v8.64h-1zM510 176.18h2v8.64h-2zM513 176.18h2v8.64h-2zM531 176.18h1v8.64h-1zM605 184.82h1v8.64h-1zM475 193.47h2v8.64h-2zM503 193.47h1v8.64h-1zM537 193.47h2v8.64h-2zM407 202.11h2v8.64h-2zM420 202.11h3v8.64h-3zM475 202.11h2v8.64h-2zM504 202.11h1v8.64h-1zM509 202.11h3v8.64h-3zM569 202.11h2v8.64h-2zM427 210.75h1v8.64h-1zM430 210.75h1v8.64h-1zM438 210.75h1v8.64h-1zM556 210.75h2v8.64h-2zM613 210.75h1v8.64h-1zM624 210.75h2v8.64h-2zM633 210.75h1v8.64h-1zM427 219.39h1v8.64h-1zM435 219.39h2v8.64h-2zM448 219.39h2v8.64h-2zM545 219.39h1v8.64h-1zM614 219.39h1v8.64h-1zM438 228.04h1v8.64h-1zM445 228.04h1v8.64h-1zM452 228.04h1v8.64h-1zM580 228.04h1v8.64h-1zM582 228.04h1v8.64h-1zM585 228.04h2v8.64h-2zM592 228.04h1v8.64h-1zM597 228.04h1v8.64h-1zM600 228.04h1v8.64h-1zM603 228.04h2v8.64h-2zM606 228.04h2v8.64h-2zM438 236.68h3v8.64h-3zM445 236.68h1v8.64h-1zM448 236.68h2v8.64h-2zM452 236.68h1v8.64h-1zM459 236.68h1v8.64h-1zM465 236.68h1v8.64h-1zM532 236.68h1v8.64h-1zM541 236.68h1v8.64h-1zM581 236.68h2v8.64h-2zM585 236.68h2v8.64h-2zM596 236.68h1v8.64h-1zM613 236.68h1v8.64h-1zM635 236.68h1v8.64h-1zM438 245.32h1v8.64h-1zM441 245.32h2v8.64h-2zM453 245.32h1v8.64h-1zM456 245.32h1v8.64h-1zM462 245.32h1v8.64h-1zM580 245.32h1v8.64h-1zM600 245.32h1v8.64h-1zM590 253.96h1v8.64h-1zM626 253.96h1v8.64h-1zM434 262.61h1v8.64h-1zM450 262.61h1v8.64h-1zM457 262.61h1v8.64h-1zM459 262.61h1v8.64h-1zM588 262.61h1v8.64h-1zM628 262.61h1v8.64h-1zM446 271.25h4v8.64h-4zM463 271.25h2v8.64h-2zM588 271.25h1v8.64h-1zM615 271.25h2v8.64h-2zM628 271.25h1v8.64h-1zM431 279.89h2v8.64h-2zM434 279.89h1v8.64h-1zM457 279.89h1v8.64h-1zM463 279.89h2v8.64h-2zM468 279.89h2v8.64h-2zM471 279.89h1v8.64h-1zM573 279.89h2v8.64h-2zM622 279.89h1v8.64h-1zM631 279.89h1v8.64h-1zM441 288.53h2v8.64h-2zM446 288.53h2v8.64h-2zM573 288.53h1v8.64h-1zM610 288.53h3v8.64h-3zM631 288.53h1v8.64h-1zM475 305.82h2v8.64h-2zM497 305.82h1v8.64h-1zM499 305.82h2v8.64h-2zM509 305.82h1v8.64h-1zM517 305.82h2v8.64h-2zM521 305.82h3v8.64h-3zM537 305.82h2v8.64h-2zM553 305.82h1v8.64h-1zM438 314.46h1v8.64h-1zM446 314.46h2v8.64h-2zM452 314.46h1v8.64h-1zM456 314.46h1v8.64h-1zM460 314.46h2v8.64h-2zM466 314.46h2v8.64h-2zM498 323.10h1v8.64h-1zM502 323.10h1v8.64h-1zM504 323.10h1v8.64h-1zM519 323.10h1v8.64h-1zM537 323.10h2v8.64h-2zM548 323.10h1v8.64h-1zM553 323.10h1v8.64h-1zM452 340.39h1v8.64h-1zM479 340.39h1v8.64h-1zM482 340.39h2v8.64h-2zM506 340.39h2v8.64h-2zM527 340.39h1v8.64h-1zM534 340.39h2v8.64h-2zM479 349.03h5v8.64h-5zM490 349.03h1v8.64h-1zM520 349.03h1v8.64h-1zM551 349.03h1v8.64h-1zM490 357.67h1v8.64h-1zM502 357.67h1v8.64h-1zM473 366.32h2v8.64h-2zM539 366.32h2v8.64h-2zM543 366.32h2v8.64h-2zM438 374.96h1v8.64h-1zM460 374.96h2v8.64h-2zM485 374.96h2v8.64h-2zM501 374.96h1v8.64h-1zM503 374.96h1v8.64h-1zM516 374.96h1v8.64h-1zM521 374.96h2v8.64h-2zM534 374.96h2v8.64h-2zM537 374.96h2v8.64h-2zM548 374.96h1v8.64h-1zM553 374.96h1v8.64h-1z"/><path fill="#fcf6c0" d="M430 37.90h1v8.64h-1zM446 37.90h2v8.64h-2zM496 37.90h1v8.64h-1zM529 37.90h1v8.64h-1zM490 46.54h1v8.64h-1zM512 46.54h1v8.64h-1zM429 55.19h1v8.64h-1zM448 55.19h2v8.64h-2zM478 55.19h1v8.64h-1zM494 55.19h2v8.64h-2zM541 55.19h1v8.64h-1zM581 55.19h1v8.64h-1zM597 55.19h1v8.64h-1zM468 63.83h2v8.64h-2zM509 63.83h1v8.64h-1zM530 63.83h1v8.64h-1zM598 63.83h1v8.64h-1zM446 72.47h2v8.64h-2zM519 72.47h1v8.64h-1zM430 81.11h1v8.64h-1zM452 81.11h1v8.64h-1zM583 81.11h1v8.64h-1zM597 81.11h1v8.64h-1zM627 81.11h1v8.64h-1zM446 89.76h2v8.64h-2zM484 89.76h1v8.64h-1zM487 89.76h1v8.64h-1zM533 89.76h1v8.64h-1zM541 89.76h1v8.64h-1zM543 89.76h2v8.64h-2zM567 89.76h2v8.64h-2zM607 89.76h1v8.64h-1zM618 89.76h1v8.64h-1zM632 89.76h1v8.64h-1zM475 98.40h2v8.64h-2zM485 98.40h2v8.64h-2zM509 98.40h1v8.64h-1zM519 98.40h1v8.64h-1zM524 98.40h1v8.64h-1zM529 98.40h1v8.64h-1zM531 98.40h1v8.64h-1zM542 98.40h1v8.64h-1zM548 98.40h1v8.64h-1zM553 98.40h2v8.64h-2zM530 107.04h1v8.64h-1zM542 107.04h1v8.64h-1zM502 115.68h1v8.64h-1zM555 115.68h1v8.64h-1zM587 115.68h1v8.64h-1zM478 132.97h1v8.64h-1zM484 132.97h1v8.64h-1zM494 132.97h2v8.64h-2zM499 132.97h2v8.64h-2zM524 132.97h1v8.64h-1zM575 132.97h2v8.64h-2zM593 132.97h2v8.64h-2zM475 150.25h2v8.64h-2zM480 150.25h2v8.64h-2zM501 150.25h1v8.64h-1zM527 150.25h1v8.64h-1zM536 158.90h1v8.64h-1zM541 158.90h1v8.64h-1zM545 158.90h1v8.64h-1zM564 158.90h2v8.64h-2zM573 158.90h1v8.64h-1zM512 167.54h1v8.64h-1zM414 176.18h2v8.64h-2zM479 176.18h1v8.64h-1zM541 176.18h1v8.64h-1zM562 193.47h2v8.64h-2zM531 202.11h1v8.64h-1zM429 210.75h1v8.64h-1zM450 210.75h1v8.64h-1zM590 210.75h1v8.64h-1zM619 219.39h2v8.64h-2zM622 219.39h1v8.64h-1zM634 219.39h1v8.64h-1zM435 228.04h3v8.64h-3zM456 228.04h1v8.64h-1zM465 228.04h1v8.64h-1zM588 228.04h1v8.64h-1zM602 228.04h1v8.64h-1zM610 228.04h1v8.64h-1zM619 228.04h1v8.64h-1zM571 236.68h2v8.64h-2zM574 236.68h1v8.64h-1zM614 236.68h1v8.64h-1zM632 236.68h1v8.64h-1zM427 245.32h1v8.64h-1zM443 245.32h2v8.64h-2zM577 245.32h1v8.64h-1zM598 245.32h1v8.64h-1zM627 245.32h1v8.64h-1zM599 253.96h1v8.64h-1zM618 253.96h1v8.64h-1zM430 262.61h1v8.64h-1zM443 262.61h3v8.64h-3zM452 262.61h1v8.64h-1zM463 262.61h2v8.64h-2zM573 262.61h1v8.64h-1zM608 262.61h2v8.64h-2zM611 262.61h2v8.64h-2zM452 271.25h1v8.64h-1zM465 271.25h1v8.64h-1zM466 279.89h2v8.64h-2zM588 279.89h1v8.64h-1zM452 288.53h1v8.64h-1zM471 288.53h1v8.64h-1zM582 288.53h1v8.64h-1zM510 305.82h2v8.64h-2zM519 305.82h1v8.64h-1zM531 305.82h1v8.64h-1zM427 314.46h1v8.64h-1zM451 314.46h1v8.64h-1zM457 314.46h1v8.64h-1zM485 323.10h2v8.64h-2zM510 323.10h2v8.64h-2zM539 323.10h2v8.64h-2zM545 323.10h1v8.64h-1zM468 357.67h2v8.64h-2zM494 366.32h2v8.64h-2zM497 366.32h2v8.64h-2zM510 366.32h2v8.64h-2zM515 366.32h1v8.64h-1zM480 374.96h2v8.64h-2zM520 374.96h1v8.64h-1zM527 374.96h1v8.64h-1zM532 374.96h2v8.64h-2z"/><path fill="#f6f6cc" d="M431 37.90h2v8.64h-2zM498 37.90h1v8.64h-1zM583 37.90h1v8.64h-1zM439 55.19h2v8.64h-2zM484 55.19h1v8.64h-1zM506 55.19h3v8.64h-3zM519 55.19h1v8.64h-1zM521 55.19h2v8.64h-2zM527 55.19h1v8.64h-1zM552 55.19h1v8.64h-1zM574 55.19h1v8.64h-1zM610 55.19h1v8.64h-1zM430 63.83h1v8.64h-1zM445 63.83h1v8.64h-1zM451 63.83h1v8.64h-1zM453 63.83h1v8.64h-1zM470 63.83h1v8.64h-1zM520 63.83h1v8.64h-1zM523 63.83h1v8.64h-1zM549 63.83h2v8.64h-2zM617 63.83h1v8.64h-1zM479 72.47h1v8.64h-1zM505 72.47h1v8.64h-1zM553 72.47h1v8.64h-1zM555 72.47h1v8.64h-1zM437 81.11h1v8.64h-1zM453 81.11h1v8.64h-1zM528 81.11h1v8.64h-1zM534 81.11h2v8.64h-2zM562 81.11h2v8.64h-2zM580 81.11h1v8.64h-1zM584 81.11h1v8.64h-1zM595 81.11h1v8.64h-1zM602 81.11h3v8.64h-3zM470 89.76h1v8.64h-1zM516 89.76h1v8.64h-1zM531 89.76h1v8.64h-1zM585 89.76h2v8.64h-2zM608 89.76h2v8.64h-2zM614 89.76h1v8.64h-1zM629 89.76h2v8.64h-2zM501 98.40h2v8.64h-2zM510 98.40h2v8.64h-2zM527 98.40h1v8.64h-1zM537 98.40h2v8.64h-2zM426 107.04h1v8.64h-1zM453 107.04h1v8.64h-1zM473 107.04h2v8.64h-2zM513 107.04h2v8.64h-2zM523 107.04h2v8.64h-2zM611 107.04h2v8.64h-2zM558 115.68h2v8.64h-2zM569 115.68h2v8.64h-2zM610 115.68h3v8.64h-3zM473 132.97h2v8.64h-2zM519 132.97h1v8.64h-1zM534 132.97h2v8.64h-2zM552 132.97h1v8.64h-1zM610 132.97h1v8.64h-1zM619 132.97h1v8.64h-1zM632 132.97h1v8.64h-1zM512 150.25h1v8.64h-1zM528 150.25h1v8.64h-1zM593 150.25h2v8.64h-2zM596 150.25h1v8.64h-1zM605 150.25h1v8.64h-1zM583 176.18h1v8.64h-1zM615 176.18h2v8.64h-2zM562 184.82h2v8.64h-2zM510 193.47h2v8.64h-2zM516 193.47h1v8.64h-1zM520 193.47h1v8.64h-1zM575 210.75h2v8.64h-2zM593 210.75h2v8.64h-2zM573 219.39h1v8.64h-1zM610 219.39h1v8.64h-1zM627 219.39h1v8.64h-1zM561 228.04h1v8.64h-1zM608 228.04h2v8.64h-2zM429 236.68h1v8.64h-1zM437 236.68h1v8.64h-1zM577 236.68h1v8.64h-1zM588 236.68h1v8.64h-1zM603 236.68h2v8.64h-2zM634 236.68h1v8.64h-1zM429 245.32h1v8.64h-1zM611 245.32h2v8.64h-2zM584 253.96h1v8.64h-1zM445 279.89h3v8.64h-3zM452 279.89h1v8.64h-1zM611 279.89h2v8.64h-2zM628 288.53h1v8.64h-1zM446 297.18h2v8.64h-2zM441 305.82h2v8.64h-2zM460 305.82h2v8.64h-2zM520 305.82h1v8.64h-1zM439 314.46h2v8.64h-2zM490 323.10h1v8.64h-1zM512 323.10h1v8.64h-1zM532 323.10h1v8.64h-1zM441 331.75h2v8.64h-2zM465 331.75h1v8.64h-1zM456 340.39h1v8.64h-1zM445 357.67h1v8.64h-1zM482 366.32h2v8.64h-2zM506 366.32h2v8.64h-2zM527 366.32h2v8.64h-2zM466 374.96h4v8.64h-4zM471 374.96h1v8.64h-1z"/><path fill="#fcde96" d="M433 37.90h1v8.64h-1zM515 46.54h1v8.64h-1zM433 55.19h1v8.64h-1zM591 63.83h1v8.64h-1zM438 72.47h1v8.64h-1zM525 89.76h2v8.64h-2zM478 115.68h1v8.64h-1zM480 115.68h2v8.64h-2zM516 115.68h1v8.64h-1zM548 115.68h1v8.64h-1zM480 124.33h2v8.64h-2zM497 124.33h1v8.64h-1zM503 124.33h1v8.64h-1zM521 124.33h3v8.64h-3zM529 124.33h1v8.64h-1zM533 124.33h1v8.64h-1zM552 124.33h1v8.64h-1zM414 132.97h2v8.64h-2zM515 132.97h1v8.64h-1zM473 141.61h2v8.64h-2zM479 141.61h1v8.64h-1zM496 141.61h1v8.64h-1zM498 141.61h1v8.64h-1zM523 141.61h1v8.64h-1zM530 141.61h1v8.64h-1zM534 141.61h2v8.64h-2zM537 141.61h2v8.64h-2zM543 141.61h2v8.64h-2zM552 141.61h2v8.64h-2zM569 141.61h2v8.64h-2zM413 150.25h1v8.64h-1zM424 150.25h1v8.64h-1zM506 150.25h3v8.64h-3zM549 150.25h2v8.64h-2zM473 158.90h2v8.64h-2zM480 158.90h2v8.64h-2zM519 158.90h1v8.64h-1zM528 158.90h1v8.64h-1zM556 158.90h2v8.64h-2zM571 158.90h2v8.64h-2zM584 158.90h1v8.64h-1zM473 167.54h2v8.64h-2zM477 167.54h1v8.64h-1zM480 167.54h2v8.64h-2zM488 167.54h2v8.64h-2zM496 167.54h1v8.64h-1zM525 167.54h3v8.64h-3zM543 167.54h2v8.64h-2zM583 167.54h1v8.64h-1zM412 176.18h1v8.64h-1zM477 176.18h1v8.64h-1zM485 176.18h2v8.64h-2zM499 176.18h2v8.64h-2zM548 176.18h1v8.64h-1zM605 176.18h1v8.64h-1zM498 184.82h1v8.64h-1zM516 184.82h1v8.64h-1zM520 184.82h1v8.64h-1zM523 184.82h1v8.64h-1zM525 184.82h2v8.64h-2zM543 184.82h2v8.64h-2zM421 193.47h3v8.64h-3zM484 193.47h1v8.64h-1zM487 193.47h1v8.64h-1zM530 193.47h1v8.64h-1zM539 193.47h2v8.64h-2zM488 202.11h2v8.64h-2zM496 202.11h1v8.64h-1zM505 202.11h1v8.64h-1zM521 202.11h2v8.64h-2zM524 202.11h1v8.64h-1zM537 202.11h2v8.64h-2zM548 202.11h1v8.64h-1zM431 210.75h2v8.64h-2zM452 219.39h1v8.64h-1zM462 219.39h1v8.64h-1zM466 219.39h2v8.64h-2zM527 219.39h1v8.64h-1zM542 219.39h1v8.64h-1zM556 219.39h2v8.64h-2zM590 219.39h1v8.64h-1zM593 219.39h2v8.64h-2zM633 219.39h1v8.64h-1zM426 228.04h1v8.64h-1zM470 228.04h1v8.64h-1zM530 228.04h1v8.64h-1zM584 228.04h1v8.64h-1zM599 228.04h1v8.64h-1zM453 236.68h1v8.64h-1zM462 236.68h1v8.64h-1zM468 236.68h2v8.64h-2zM528 236.68h1v8.64h-1zM537 236.68h2v8.64h-2zM542 236.68h1v8.64h-1zM569 236.68h2v8.64h-2zM597 236.68h1v8.64h-1zM460 245.32h2v8.64h-2zM475 245.32h3v8.64h-3zM510 245.32h2v8.64h-2zM516 245.32h1v8.64h-1zM560 245.32h1v8.64h-1zM567 245.32h2v8.64h-2zM606 245.32h1v8.64h-1zM626 245.32h1v8.64h-1zM629 245.32h2v8.64h-2zM635 245.32h1v8.64h-1zM491 253.96h1v8.64h-1zM516 253.96h1v8.64h-1zM562 253.96h2v8.64h-2zM624 253.96h2v8.64h-2zM441 262.61h2v8.64h-2zM448 262.61h2v8.64h-2zM480 262.61h2v8.64h-2zM491 262.61h1v8.64h-1zM555 262.61h1v8.64h-1zM558 262.61h2v8.64h-2zM587 262.61h1v8.64h-1zM592 262.61h3v8.64h-3zM601 262.61h1v8.64h-1zM606 262.61h1v8.64h-1zM620 262.61h1v8.64h-1zM624 262.61h2v8.64h-2zM433 271.25h1v8.64h-1zM451 271.25h1v8.64h-1zM478 271.25h1v8.64h-1zM485 271.25h2v8.64h-2zM491 271.25h1v8.64h-1zM497 271.25h1v8.64h-1zM517 271.25h2v8.64h-2zM539 271.25h2v8.64h-2zM545 271.25h1v8.64h-1zM581 271.25h1v8.64h-1zM589 271.25h1v8.64h-1zM605 271.25h1v8.64h-1zM613 271.25h1v8.64h-1zM623 271.25h3v8.64h-3zM632 271.25h1v8.64h-1zM478 279.89h1v8.64h-1zM487 279.89h3v8.64h-3zM501 279.89h1v8.64h-1zM510 279.89h2v8.64h-2zM516 279.89h1v8.64h-1zM532 279.89h1v8.64h-1zM545 279.89h1v8.64h-1zM556 279.89h2v8.64h-2zM589 279.89h1v8.64h-1zM603 279.89h2v8.64h-2zM624 279.89h2v8.64h-2zM632 279.89h1v8.64h-1zM430 288.53h3v8.64h-3zM434 288.53h1v8.64h-1zM491 288.53h1v8.64h-1zM506 288.53h2v8.64h-2zM517 288.53h2v8.64h-2zM532 288.53h1v8.64h-1zM556 288.53h2v8.64h-2zM574 288.53h1v8.64h-1zM580 288.53h1v8.64h-1zM602 288.53h1v8.64h-1zM605 288.53h1v8.64h-1zM618 288.53h1v8.64h-1zM629 288.53h2v8.64h-2zM632 288.53h1v8.64h-1zM475 297.18h2v8.64h-2zM487 297.18h1v8.64h-1zM496 297.18h1v8.64h-1zM501 297.18h1v8.64h-1zM504 297.18h1v8.64h-1zM509 297.18h1v8.64h-1zM525 297.18h2v8.64h-2zM537 297.18h2v8.64h-2zM542 297.18h1v8.64h-1zM548 297.18h1v8.64h-1zM554 297.18h1v8.64h-1zM508 305.82h1v8.64h-1zM515 305.82h1v8.64h-1zM558 305.82h2v8.64h-2zM482 314.46h2v8.64h-2zM485 314.46h2v8.64h-2zM498 314.46h1v8.64h-1zM503 314.46h1v8.64h-1zM506 314.46h2v8.64h-2zM509 314.46h1v8.64h-1zM512 314.46h1v8.64h-1zM520 314.46h1v8.64h-1zM534 314.46h2v8.64h-2zM545 314.46h1v8.64h-1zM551 314.46h1v8.64h-1zM561 314.46h1v8.64h-1zM588 314.46h1v8.64h-1zM477 323.10h1v8.64h-1zM561 323.10h1v8.64h-1zM611 323.10h2v8.64h-2zM619 323.10h1v8.64h-1zM627 323.10h1v8.64h-1zM497 331.75h1v8.64h-1zM501 331.75h1v8.64h-1zM505 331.75h1v8.64h-1zM510 331.75h2v8.64h-2zM516 331.75h1v8.64h-1zM521 331.75h2v8.64h-2zM537 331.75h2v8.64h-2zM549 331.75h2v8.64h-2zM627 331.75h1v8.64h-1zM492 340.39h2v8.64h-2zM508 340.39h1v8.64h-1zM519 340.39h1v8.64h-1zM523 340.39h2v8.64h-2zM530 340.39h1v8.64h-1zM537 340.39h4v8.64h-4zM546 340.39h2v8.64h-2zM549 340.39h2v8.64h-2zM552 340.39h1v8.64h-1zM575 340.39h2v8.64h-2zM588 340.39h1v8.64h-1zM627 340.39h1v8.64h-1zM484 349.03h1v8.64h-1zM488 349.03h2v8.64h-2zM492 349.03h2v8.64h-2zM513 349.03h2v8.64h-2zM523 349.03h1v8.64h-1zM542 349.03h3v8.64h-3zM548 349.03h1v8.64h-1zM552 349.03h1v8.64h-1zM611 349.03h2v8.64h-2zM475 357.67h2v8.64h-2zM484 357.67h1v8.64h-1zM488 357.67h2v8.64h-2zM508 357.67h1v8.64h-1zM517 357.67h3v8.64h-3zM521 357.67h2v8.64h-2zM541 357.67h1v8.64h-1zM546 357.67h2v8.64h-2zM564 357.67h2v8.64h-2zM611 357.67h2v8.64h-2zM477 374.96h1v8.64h-1zM484 374.96h1v8.64h-1z"/><path fill="#fcf0ae" d="M434 37.90h1v8.64h-1zM471 37.90h1v8.64h-1zM509 37.90h1v8.64h-1zM555 37.90h1v8.64h-1zM623 37.90h1v8.64h-1zM473 46.54h2v8.64h-2zM478 46.54h2v8.64h-2zM496 46.54h3v8.64h-3zM517 46.54h2v8.64h-2zM528 46.54h1v8.64h-1zM530 46.54h1v8.64h-1zM541 46.54h1v8.64h-1zM546 46.54h3v8.64h-3zM554 46.54h1v8.64h-1zM435 55.19h2v8.64h-2zM452 55.19h1v8.64h-1zM471 55.19h1v8.64h-1zM543 55.19h2v8.64h-2zM553 55.19h1v8.64h-1zM435 63.83h2v8.64h-2zM478 63.83h1v8.64h-1zM492 63.83h2v8.64h-2zM497 63.83h1v8.64h-1zM515 63.83h1v8.64h-1zM554 63.83h1v8.64h-1zM426 72.47h1v8.64h-1zM450 72.47h1v8.64h-1zM513 72.47h2v8.64h-2zM574 81.11h1v8.64h-1zM621 81.11h1v8.64h-1zM434 89.76h1v8.64h-1zM513 89.76h2v8.64h-2zM548 89.76h1v8.64h-1zM566 89.76h1v8.64h-1zM569 89.76h2v8.64h-2zM601 89.76h1v8.64h-1zM515 98.40h1v8.64h-1zM438 107.04h1v8.64h-1zM484 115.68h1v8.64h-1zM488 115.68h2v8.64h-2zM504 115.68h1v8.64h-1zM541 124.33h1v8.64h-1zM569 124.33h2v8.64h-2zM539 132.97h2v8.64h-2zM478 150.25h1v8.64h-1zM513 150.25h2v8.64h-2zM622 150.25h1v8.64h-1zM501 158.90h1v8.64h-1zM509 158.90h1v8.64h-1zM512 158.90h1v8.64h-1zM546 158.90h2v8.64h-2zM578 158.90h3v8.64h-3zM589 158.90h1v8.64h-1zM632 158.90h1v8.64h-1zM409 167.54h1v8.64h-1zM408 176.18h1v8.64h-1zM490 176.18h1v8.64h-1zM523 176.18h1v8.64h-1zM543 176.18h2v8.64h-2zM504 184.82h1v8.64h-1zM488 193.47h2v8.64h-2zM502 193.47h1v8.64h-1zM512 193.47h1v8.64h-1zM534 193.47h2v8.64h-2zM548 193.47h1v8.64h-1zM551 193.47h1v8.64h-1zM414 202.11h2v8.64h-2zM491 202.11h1v8.64h-1zM546 202.11h2v8.64h-2zM441 210.75h2v8.64h-2zM555 210.75h1v8.64h-1zM571 210.75h2v8.64h-2zM578 210.75h2v8.64h-2zM541 219.39h1v8.64h-1zM567 219.39h2v8.64h-2zM617 219.39h1v8.64h-1zM433 228.04h1v8.64h-1zM457 228.04h1v8.64h-1zM471 228.04h1v8.64h-1zM613 228.04h1v8.64h-1zM623 228.04h1v8.64h-1zM632 228.04h1v8.64h-1zM463 236.68h2v8.64h-2zM466 236.68h2v8.64h-2zM529 236.68h1v8.64h-1zM545 236.68h1v8.64h-1zM587 236.68h1v8.64h-1zM601 236.68h1v8.64h-1zM607 236.68h1v8.64h-1zM617 236.68h1v8.64h-1zM629 236.68h2v8.64h-2zM465 245.32h1v8.64h-1zM582 245.32h1v8.64h-1zM589 245.32h1v8.64h-1zM597 245.32h1v8.64h-1zM601 245.32h1v8.64h-1zM614 245.32h1v8.64h-1zM619 245.32h1v8.64h-1zM407 253.96h1v8.64h-1zM510 253.96h2v8.64h-2zM433 262.61h1v8.64h-1zM458 262.61h1v8.64h-1zM634 262.61h1v8.64h-1zM453 271.25h1v8.64h-1zM466 271.25h2v8.64h-2zM470 271.25h1v8.64h-1zM451 279.89h1v8.64h-1zM453 279.89h1v8.64h-1zM460 279.89h2v8.64h-2zM470 279.89h1v8.64h-1zM577 279.89h1v8.64h-1zM614 279.89h1v8.64h-1zM619 279.89h1v8.64h-1zM627 279.89h1v8.64h-1zM634 279.89h1v8.64h-1zM634 288.53h1v8.64h-1zM494 305.82h2v8.64h-2zM512 305.82h1v8.64h-1zM530 305.82h1v8.64h-1zM546 305.82h2v8.64h-2zM441 314.46h2v8.64h-2zM465 314.46h1v8.64h-1zM499 323.10h2v8.64h-2zM509 323.10h1v8.64h-1zM516 323.10h1v8.64h-1zM523 323.10h1v8.64h-1zM541 323.10h1v8.64h-1zM479 331.75h1v8.64h-1zM490 331.75h1v8.64h-1zM545 340.39h1v8.64h-1zM551 340.39h1v8.64h-1zM502 349.03h1v8.64h-1zM533 349.03h1v8.64h-1zM479 357.67h1v8.64h-1zM534 357.67h2v8.64h-2zM475 366.32h2v8.64h-2zM505 366.32h1v8.64h-1zM521 366.32h2v8.64h-2zM524 366.32h1v8.64h-1zM530 366.32h1v8.64h-1zM498 374.96h1v8.64h-1zM504 374.96h1v8.64h-1zM506 374.96h2v8.64h-2zM512 374.96h1v8.64h-1zM530 374.96h1v8.64h-1zM536 374.96h1v8.64h-1zM539 374.96h2v8.64h-2zM554 374.96h1v8.64h-1z"/><path fill="#fcf6ba" d="M435 37.90h2v8.64h-2zM453 37.90h1v8.64h-1zM497 37.90h1v8.64h-1zM505 37.90h1v8.64h-1zM533 37.90h1v8.64h-1zM543 37.90h2v8.64h-2zM552 37.90h1v8.64h-1zM591 37.90h1v8.64h-1zM611 37.90h2v8.64h-2zM477 46.54h1v8.64h-1zM488 46.54h2v8.64h-2zM502 46.54h1v8.64h-1zM504 46.54h1v8.64h-1zM506 46.54h3v8.64h-3zM536 46.54h1v8.64h-1zM549 46.54h2v8.64h-2zM430 55.19h3v8.64h-3zM446 55.19h2v8.64h-2zM450 55.19h2v8.64h-2zM453 55.19h1v8.64h-1zM487 55.19h1v8.64h-1zM498 55.19h1v8.64h-1zM513 55.19h2v8.64h-2zM531 55.19h1v8.64h-1zM542 55.19h1v8.64h-1zM549 55.19h2v8.64h-2zM429 63.83h1v8.64h-1zM452 63.83h1v8.64h-1zM558 63.83h2v8.64h-2zM610 63.83h1v8.64h-1zM428 72.47h2v8.64h-2zM525 72.47h2v8.64h-2zM621 72.47h1v8.64h-1zM472 81.11h1v8.64h-1zM480 81.11h2v8.64h-2zM492 81.11h2v8.64h-2zM525 81.11h2v8.64h-2zM530 81.11h1v8.64h-1zM581 81.11h1v8.64h-1zM590 81.11h1v8.64h-1zM618 81.11h1v8.64h-1zM623 81.11h1v8.64h-1zM626 81.11h1v8.64h-1zM443 89.76h2v8.64h-2zM509 89.76h1v8.64h-1zM524 89.76h1v8.64h-1zM574 89.76h1v8.64h-1zM593 89.76h3v8.64h-3zM624 89.76h2v8.64h-2zM478 98.40h2v8.64h-2zM487 98.40h1v8.64h-1zM552 98.40h1v8.64h-1zM443 107.04h2v8.64h-2zM553 107.04h1v8.64h-1zM621 107.04h1v8.64h-1zM499 115.68h2v8.64h-2zM506 115.68h2v8.64h-2zM512 115.68h1v8.64h-1zM536 115.68h1v8.64h-1zM583 124.33h1v8.64h-1zM562 132.97h2v8.64h-2zM473 150.25h2v8.64h-2zM485 150.25h2v8.64h-2zM490 150.25h1v8.64h-1zM498 150.25h1v8.64h-1zM524 150.25h1v8.64h-1zM529 150.25h2v8.64h-2zM592 158.90h1v8.64h-1zM531 167.54h1v8.64h-1zM605 167.54h1v8.64h-1zM410 176.18h2v8.64h-2zM502 176.18h1v8.64h-1zM516 176.18h1v8.64h-1zM601 176.18h1v8.64h-1zM536 184.82h1v8.64h-1zM593 184.82h2v8.64h-2zM543 193.47h2v8.64h-2zM413 202.11h1v8.64h-1zM416 202.11h1v8.64h-1zM425 202.11h1v8.64h-1zM445 210.75h1v8.64h-1zM567 210.75h2v8.64h-2zM574 210.75h1v8.64h-1zM601 210.75h1v8.64h-1zM617 210.75h1v8.64h-1zM635 210.75h1v8.64h-1zM429 219.39h1v8.64h-1zM536 219.39h1v8.64h-1zM439 228.04h2v8.64h-2zM458 228.04h2v8.64h-2zM577 228.04h1v8.64h-1zM581 228.04h1v8.64h-1zM614 228.04h1v8.64h-1zM631 228.04h1v8.64h-1zM443 236.68h2v8.64h-2zM536 236.68h1v8.64h-1zM580 236.68h1v8.64h-1zM590 236.68h1v8.64h-1zM598 236.68h1v8.64h-1zM620 236.68h1v8.64h-1zM623 236.68h1v8.64h-1zM435 245.32h2v8.64h-2zM439 245.32h2v8.64h-2zM574 245.32h1v8.64h-1zM603 245.32h2v8.64h-2zM634 245.32h1v8.64h-1zM426 253.96h1v8.64h-1zM446 262.61h2v8.64h-2zM462 262.61h1v8.64h-1zM465 262.61h1v8.64h-1zM561 262.61h1v8.64h-1zM441 271.25h2v8.64h-2zM445 271.25h1v8.64h-1zM456 271.25h1v8.64h-1zM608 271.25h3v8.64h-3zM438 279.89h1v8.64h-1zM610 279.89h1v8.64h-1zM615 279.89h2v8.64h-2zM628 279.89h1v8.64h-1zM438 288.53h1v8.64h-1zM445 288.53h1v8.64h-1zM456 288.53h1v8.64h-1zM460 288.53h2v8.64h-2zM472 288.53h1v8.64h-1zM588 288.53h1v8.64h-1zM417 305.82h1v8.64h-1zM473 305.82h2v8.64h-2zM498 305.82h1v8.64h-1zM505 305.82h1v8.64h-1zM527 305.82h1v8.64h-1zM543 305.82h2v8.64h-2zM430 314.46h1v8.64h-1zM434 314.46h1v8.64h-1zM445 314.46h1v8.64h-1zM488 323.10h2v8.64h-2zM517 323.10h2v8.64h-2zM521 323.10h2v8.64h-2zM536 323.10h1v8.64h-1zM546 323.10h2v8.64h-2zM532 349.03h1v8.64h-1zM501 366.32h1v8.64h-1zM509 366.32h1v8.64h-1zM512 366.32h1v8.64h-1zM537 366.32h2v8.64h-2zM545 366.32h1v8.64h-1zM441 374.96h2v8.64h-2zM453 374.96h1v8.64h-1zM459 374.96h1v8.64h-1zM470 374.96h1v8.64h-1zM482 374.96h2v8.64h-2zM496 374.96h1v8.64h-1zM502 374.96h1v8.64h-1zM517 374.96h2v8.64h-2zM528 374.96h1v8.64h-1zM531 374.96h1v8.64h-1z"/><path fill="#f0f6d2" d="M437 37.90h1v8.64h-1zM472 37.90h1v8.64h-1zM484 37.90h1v8.64h-1zM516 37.90h1v8.64h-1zM546 37.90h2v8.64h-2zM600 37.90h1v8.64h-1zM607 37.90h1v8.64h-1zM619 37.90h1v8.64h-1zM479 55.19h1v8.64h-1zM488 55.19h2v8.64h-2zM496 55.19h1v8.64h-1zM510 55.19h2v8.64h-2zM516 55.19h1v8.64h-1zM536 55.19h1v8.64h-1zM546 55.19h2v8.64h-2zM600 55.19h2v8.64h-2zM627 55.19h1v8.64h-1zM475 63.83h2v8.64h-2zM488 63.83h2v8.64h-2zM504 63.83h1v8.64h-1zM553 63.83h1v8.64h-1zM611 63.83h2v8.64h-2zM427 72.47h1v8.64h-1zM491 72.47h1v8.64h-1zM517 72.47h2v8.64h-2zM520 72.47h1v8.64h-1zM524 72.47h1v8.64h-1zM567 72.47h2v8.64h-2zM581 72.47h1v8.64h-1zM618 72.47h1v8.64h-1zM622 72.47h1v8.64h-1zM429 81.11h1v8.64h-1zM468 81.11h2v8.64h-2zM484 81.11h1v8.64h-1zM543 81.11h2v8.64h-2zM548 81.11h1v8.64h-1zM560 81.11h1v8.64h-1zM631 81.11h1v8.64h-1zM427 89.76h3v8.64h-3zM431 89.76h2v8.64h-2zM439 89.76h2v8.64h-2zM448 89.76h2v8.64h-2zM496 89.76h2v8.64h-2zM501 89.76h1v8.64h-1zM578 89.76h2v8.64h-2zM592 89.76h1v8.64h-1zM626 89.76h1v8.64h-1zM482 98.40h2v8.64h-2zM545 98.40h1v8.64h-1zM435 107.04h3v8.64h-3zM471 107.04h1v8.64h-1zM505 107.04h1v8.64h-1zM509 107.04h1v8.64h-1zM534 107.04h2v8.64h-2zM552 107.04h1v8.64h-1zM618 107.04h1v8.64h-1zM564 115.68h2v8.64h-2zM591 115.68h1v8.64h-1zM480 132.97h2v8.64h-2zM491 132.97h1v8.64h-1zM530 132.97h1v8.64h-1zM537 132.97h2v8.64h-2zM553 132.97h1v8.64h-1zM555 132.97h1v8.64h-1zM606 132.97h1v8.64h-1zM479 150.25h1v8.64h-1zM502 150.25h1v8.64h-1zM504 150.25h1v8.64h-1zM510 150.25h2v8.64h-2zM588 158.90h1v8.64h-1zM593 176.18h2v8.64h-2zM437 210.75h1v8.64h-1zM596 210.75h1v8.64h-1zM611 228.04h2v8.64h-2zM592 236.68h1v8.64h-1zM573 245.32h1v8.64h-1zM588 245.32h1v8.64h-1zM615 245.32h2v8.64h-2zM454 253.96h2v8.64h-2zM613 253.96h1v8.64h-1zM621 253.96h1v8.64h-1zM435 262.61h2v8.64h-2zM472 271.25h1v8.64h-1zM450 288.53h1v8.64h-1zM451 297.18h1v8.64h-1zM471 305.82h1v8.64h-1zM433 314.46h1v8.64h-1zM443 314.46h2v8.64h-2zM454 314.46h2v8.64h-2zM438 323.10h1v8.64h-1zM448 323.10h2v8.64h-2zM431 340.39h2v8.64h-2zM448 340.39h2v8.64h-2zM460 340.39h2v8.64h-2zM438 349.03h1v8.64h-1zM460 349.03h2v8.64h-2zM438 357.67h1v8.64h-1zM487 366.32h1v8.64h-1zM450 374.96h2v8.64h-2z"/><path fill="#fceaa8" d="M438 37.90h1v8.64h-1zM478 37.90h1v8.64h-1zM513 37.90h2v8.64h-2zM622 37.90h1v8.64h-1zM480 46.54h2v8.64h-2zM485 46.54h2v8.64h-2zM501 46.54h1v8.64h-1zM505 46.54h1v8.64h-1zM513 46.54h2v8.64h-2zM523 46.54h1v8.64h-1zM531 46.54h1v8.64h-1zM533 46.54h1v8.64h-1zM543 46.54h2v8.64h-2zM443 55.19h2v8.64h-2zM472 55.19h1v8.64h-1zM523 55.19h1v8.64h-1zM525 55.19h2v8.64h-2zM525 63.83h2v8.64h-2zM575 63.83h2v8.64h-2zM433 72.47h1v8.64h-1zM435 72.47h2v8.64h-2zM471 72.47h1v8.64h-1zM492 72.47h2v8.64h-2zM515 72.47h1v8.64h-1zM438 81.11h1v8.64h-1zM494 81.11h2v8.64h-2zM515 81.11h1v8.64h-1zM569 81.11h2v8.64h-2zM553 89.76h1v8.64h-1zM555 89.76h1v8.64h-1zM597 89.76h1v8.64h-1zM492 98.40h2v8.64h-2zM530 98.40h1v8.64h-1zM543 107.04h2v8.64h-2zM427 115.68h1v8.64h-1zM473 115.68h2v8.64h-2zM503 115.68h1v8.64h-1zM505 115.68h1v8.64h-1zM513 115.68h2v8.64h-2zM524 115.68h1v8.64h-1zM528 115.68h1v8.64h-1zM537 115.68h2v8.64h-2zM541 115.68h1v8.64h-1zM546 115.68h2v8.64h-2zM504 124.33h1v8.64h-1zM512 124.33h1v8.64h-1zM531 124.33h1v8.64h-1zM536 124.33h1v8.64h-1zM410 132.97h2v8.64h-2zM424 132.97h1v8.64h-1zM506 132.97h3v8.64h-3zM569 132.97h2v8.64h-2zM583 132.97h1v8.64h-1zM509 141.61h3v8.64h-3zM541 141.61h1v8.64h-1zM484 150.25h1v8.64h-1zM505 150.25h1v8.64h-1zM523 150.25h1v8.64h-1zM532 150.25h1v8.64h-1zM552 150.25h1v8.64h-1zM502 158.90h1v8.64h-1zM510 158.90h2v8.64h-2zM513 158.90h2v8.64h-2zM521 158.90h2v8.64h-2zM569 158.90h2v8.64h-2zM574 158.90h1v8.64h-1zM622 158.90h1v8.64h-1zM410 167.54h2v8.64h-2zM414 167.54h2v8.64h-2zM501 167.54h1v8.64h-1zM510 167.54h2v8.64h-2zM516 167.54h1v8.64h-1zM520 167.54h1v8.64h-1zM534 167.54h2v8.64h-2zM537 167.54h2v8.64h-2zM407 176.18h1v8.64h-1zM409 176.18h1v8.64h-1zM420 176.18h3v8.64h-3zM501 176.18h1v8.64h-1zM505 176.18h1v8.64h-1zM512 176.18h1v8.64h-1zM520 176.18h1v8.64h-1zM537 176.18h2v8.64h-2zM555 176.18h1v8.64h-1zM569 176.18h2v8.64h-2zM475 184.82h2v8.64h-2zM510 184.82h2v8.64h-2zM531 184.82h1v8.64h-1zM478 193.47h1v8.64h-1zM480 193.47h2v8.64h-2zM497 193.47h1v8.64h-1zM525 193.47h2v8.64h-2zM553 193.47h1v8.64h-1zM412 202.11h1v8.64h-1zM479 202.11h1v8.64h-1zM490 202.11h1v8.64h-1zM520 202.11h1v8.64h-1zM543 202.11h3v8.64h-3zM459 210.75h1v8.64h-1zM463 210.75h2v8.64h-2zM472 210.75h1v8.64h-1zM560 210.75h1v8.64h-1zM592 210.75h1v8.64h-1zM441 219.39h2v8.64h-2zM445 219.39h1v8.64h-1zM450 219.39h1v8.64h-1zM459 219.39h1v8.64h-1zM533 219.39h1v8.64h-1zM555 219.39h1v8.64h-1zM587 219.39h1v8.64h-1zM600 219.39h1v8.64h-1zM623 219.39h1v8.64h-1zM430 228.04h1v8.64h-1zM451 228.04h1v8.64h-1zM460 228.04h5v8.64h-5zM466 228.04h2v8.64h-2zM536 228.04h1v8.64h-1zM558 228.04h2v8.64h-2zM571 228.04h2v8.64h-2zM574 228.04h3v8.64h-3zM589 228.04h2v8.64h-2zM596 228.04h1v8.64h-1zM617 228.04h1v8.64h-1zM620 228.04h1v8.64h-1zM624 228.04h2v8.64h-2zM470 236.68h1v8.64h-1zM555 236.68h1v8.64h-1zM567 236.68h2v8.64h-2zM599 236.68h1v8.64h-1zM602 236.68h1v8.64h-1zM618 236.68h1v8.64h-1zM430 245.32h3v8.64h-3zM452 245.32h1v8.64h-1zM457 245.32h1v8.64h-1zM556 245.32h2v8.64h-2zM592 245.32h1v8.64h-1zM596 245.32h1v8.64h-1zM605 245.32h1v8.64h-1zM610 245.32h1v8.64h-1zM620 245.32h1v8.64h-1zM633 245.32h1v8.64h-1zM468 253.96h2v8.64h-2zM536 253.96h1v8.64h-1zM470 262.61h1v8.64h-1zM510 262.61h2v8.64h-2zM574 262.61h1v8.64h-1zM577 262.61h1v8.64h-1zM610 262.61h1v8.64h-1zM622 262.61h2v8.64h-2zM627 262.61h1v8.64h-1zM631 262.61h1v8.64h-1zM430 271.25h1v8.64h-1zM438 271.25h1v8.64h-1zM457 271.25h2v8.64h-2zM468 271.25h2v8.64h-2zM471 271.25h1v8.64h-1zM475 271.25h2v8.64h-2zM510 271.25h2v8.64h-2zM536 271.25h1v8.64h-1zM567 271.25h2v8.64h-2zM574 271.25h1v8.64h-1zM598 271.25h1v8.64h-1zM603 271.25h2v8.64h-2zM611 271.25h2v8.64h-2zM622 271.25h1v8.64h-1zM631 271.25h1v8.64h-1zM634 271.25h1v8.64h-1zM426 279.89h1v8.64h-1zM441 279.89h2v8.64h-2zM448 279.89h2v8.64h-2zM536 279.89h1v8.64h-1zM582 279.89h1v8.64h-1zM590 279.89h1v8.64h-1zM593 279.89h2v8.64h-2zM597 279.89h1v8.64h-1zM602 279.89h1v8.64h-1zM620 279.89h1v8.64h-1zM623 279.89h1v8.64h-1zM448 288.53h2v8.64h-2zM458 288.53h1v8.64h-1zM533 288.53h1v8.64h-1zM577 288.53h1v8.64h-1zM581 288.53h1v8.64h-1zM585 288.53h2v8.64h-2zM598 288.53h1v8.64h-1zM607 288.53h1v8.64h-1zM622 288.53h2v8.64h-2zM627 288.53h1v8.64h-1zM479 297.18h3v8.64h-3zM490 297.18h1v8.64h-1zM520 297.18h1v8.64h-1zM527 297.18h1v8.64h-1zM532 297.18h1v8.64h-1zM534 297.18h2v8.64h-2zM545 297.18h1v8.64h-1zM487 305.82h3v8.64h-3zM501 305.82h1v8.64h-1zM525 305.82h2v8.64h-2zM529 305.82h1v8.64h-1zM536 305.82h1v8.64h-1zM541 305.82h1v8.64h-1zM548 305.82h3v8.64h-3zM588 305.82h1v8.64h-1zM480 314.46h2v8.64h-2zM490 314.46h1v8.64h-1zM473 323.10h2v8.64h-2zM487 323.10h1v8.64h-1zM515 323.10h1v8.64h-1zM525 323.10h2v8.64h-2zM529 323.10h1v8.64h-1zM542 323.10h3v8.64h-3zM549 323.10h2v8.64h-2zM554 323.10h1v8.64h-1zM482 331.75h2v8.64h-2zM520 331.75h1v8.64h-1zM527 331.75h1v8.64h-1zM532 331.75h2v8.64h-2zM551 331.75h1v8.64h-1zM480 340.39h2v8.64h-2zM487 340.39h1v8.64h-1zM502 340.39h2v8.64h-2zM512 340.39h1v8.64h-1zM528 340.39h1v8.64h-1zM533 340.39h1v8.64h-1zM536 340.39h1v8.64h-1zM497 349.03h1v8.64h-1zM503 349.03h1v8.64h-1zM506 349.03h2v8.64h-2zM510 349.03h2v8.64h-2zM516 349.03h1v8.64h-1zM527 349.03h1v8.64h-1zM531 349.03h1v8.64h-1zM534 349.03h2v8.64h-2zM539 349.03h2v8.64h-2zM480 357.67h4v8.64h-4zM498 357.67h1v8.64h-1zM503 357.67h1v8.64h-1zM505 357.67h1v8.64h-1zM516 357.67h1v8.64h-1zM520 357.67h1v8.64h-1zM528 357.67h1v8.64h-1zM536 357.67h1v8.64h-1zM545 357.67h1v8.64h-1zM551 357.67h1v8.64h-1zM553 357.67h1v8.64h-1zM499 366.32h2v8.64h-2zM517 366.32h2v8.64h-2zM473 374.96h4v8.64h-4zM487 374.96h1v8.64h-1zM492 374.96h4v8.64h-4zM497 374.96h1v8.64h-1zM509 374.96h3v8.64h-3zM519 374.96h1v8.64h-1zM543 374.96h2v8.64h-2zM546 374.96h2v8.64h-2zM549 374.96h2v8.64h-2zM552 374.96h1v8.64h-1z"/><path fill="#f0f6d8" d="M439 37.90h2v8.64h-2zM448 37.90h2v8.64h-2zM451 37.90h1v8.64h-1zM470 37.90h1v8.64h-1zM487 37.90h1v8.64h-1zM503 37.90h1v8.64h-1zM524 37.90h1v8.64h-1zM528 37.90h1v8.64h-1zM566 37.90h1v8.64h-1zM582 37.90h1v8.64h-1zM585 37.90h2v8.64h-2zM590 37.90h1v8.64h-1zM608 37.90h2v8.64h-2zM591 46.54h1v8.64h-1zM621 46.54h1v8.64h-1zM501 55.19h1v8.64h-1zM528 55.19h1v8.64h-1zM537 55.19h2v8.64h-2zM558 55.19h2v8.64h-2zM569 55.19h2v8.64h-2zM580 55.19h1v8.64h-1zM618 55.19h1v8.64h-1zM426 63.83h1v8.64h-1zM431 63.83h2v8.64h-2zM439 63.83h2v8.64h-2zM448 63.83h2v8.64h-2zM519 63.83h1v8.64h-1zM607 63.83h1v8.64h-1zM477 72.47h1v8.64h-1zM485 72.47h2v8.64h-2zM501 72.47h1v8.64h-1zM527 72.47h2v8.64h-2zM531 72.47h1v8.64h-1zM541 72.47h1v8.64h-1zM548 72.47h1v8.64h-1zM587 72.47h1v8.64h-1zM597 72.47h1v8.64h-1zM601 72.47h1v8.64h-1zM446 81.11h2v8.64h-2zM553 81.11h1v8.64h-1zM567 81.11h2v8.64h-2zM573 81.11h1v8.64h-1zM600 81.11h1v8.64h-1zM606 81.11h1v8.64h-1zM437 89.76h1v8.64h-1zM477 89.76h1v8.64h-1zM479 89.76h1v8.64h-1zM506 89.76h2v8.64h-2zM546 89.76h2v8.64h-2zM549 89.76h2v8.64h-2zM577 89.76h1v8.64h-1zM580 89.76h1v8.64h-1zM588 89.76h2v8.64h-2zM596 89.76h1v8.64h-1zM598 89.76h2v8.64h-2zM603 89.76h2v8.64h-2zM488 98.40h2v8.64h-2zM506 98.40h2v8.64h-2zM512 98.40h1v8.64h-1zM621 98.40h1v8.64h-1zM468 107.04h2v8.64h-2zM475 107.04h2v8.64h-2zM490 107.04h1v8.64h-1zM497 107.04h1v8.64h-1zM504 107.04h1v8.64h-1zM508 107.04h1v8.64h-1zM528 107.04h1v8.64h-1zM571 107.04h2v8.64h-2zM623 107.04h1v8.64h-1zM606 115.68h1v8.64h-1zM589 124.33h1v8.64h-1zM600 124.33h2v8.64h-2zM496 132.97h1v8.64h-1zM502 132.97h1v8.64h-1zM520 132.97h1v8.64h-1zM523 132.97h1v8.64h-1zM533 132.97h1v8.64h-1zM551 132.97h1v8.64h-1zM587 132.97h1v8.64h-1zM590 132.97h1v8.64h-1zM596 132.97h1v8.64h-1zM601 132.97h1v8.64h-1zM536 150.25h1v8.64h-1zM558 150.25h2v8.64h-2zM587 150.25h1v8.64h-1zM412 158.90h1v8.64h-1zM587 158.90h1v8.64h-1zM608 158.90h2v8.64h-2zM615 158.90h2v8.64h-2zM560 176.18h1v8.64h-1zM575 176.18h2v8.64h-2zM596 176.18h1v8.64h-1zM560 184.82h1v8.64h-1zM593 202.11h2v8.64h-2zM610 210.75h1v8.64h-1zM628 228.04h1v8.64h-1zM622 236.68h1v8.64h-1zM409 253.96h1v8.64h-1zM457 253.96h1v8.64h-1zM466 253.96h2v8.64h-2zM574 253.96h1v8.64h-1zM601 253.96h1v8.64h-1zM629 253.96h2v8.64h-2zM429 262.61h1v8.64h-1zM427 279.89h1v8.64h-1zM439 279.89h2v8.64h-2zM458 279.89h1v8.64h-1zM427 288.53h1v8.64h-1zM445 305.82h1v8.64h-1zM452 305.82h1v8.64h-1zM456 305.82h1v8.64h-1zM506 305.82h2v8.64h-2zM534 305.82h2v8.64h-2zM435 314.46h2v8.64h-2zM430 323.10h1v8.64h-1zM437 323.10h1v8.64h-1zM441 323.10h2v8.64h-2zM460 323.10h2v8.64h-2zM471 323.10h1v8.64h-1zM482 323.10h2v8.64h-2zM452 331.75h1v8.64h-1zM454 340.39h2v8.64h-2zM457 340.39h1v8.64h-1zM468 340.39h2v8.64h-2zM437 349.03h1v8.64h-1zM430 357.67h1v8.64h-1zM450 357.67h1v8.64h-1zM480 366.32h2v8.64h-2zM532 366.32h1v8.64h-1zM534 366.32h2v8.64h-2zM445 374.96h3v8.64h-3z"/><path fill="#e4f0ea" d="M441 37.90h2v8.64h-2zM578 37.90h2v8.64h-2zM560 55.19h1v8.64h-1zM635 55.19h1v8.64h-1zM427 63.83h1v8.64h-1zM499 72.47h2v8.64h-2zM571 72.47h2v8.64h-2zM431 81.11h2v8.64h-2zM450 81.11h1v8.64h-1zM488 81.11h2v8.64h-2zM634 81.11h1v8.64h-1zM536 89.76h1v8.64h-1zM613 89.76h1v8.64h-1zM566 107.04h1v8.64h-1zM573 107.04h1v8.64h-1zM583 107.04h1v8.64h-1zM632 107.04h1v8.64h-1zM582 115.68h1v8.64h-1zM600 115.68h1v8.64h-1zM558 132.97h2v8.64h-2zM566 150.25h1v8.64h-1zM562 176.18h2v8.64h-2zM601 184.82h1v8.64h-1zM610 236.68h1v8.64h-1zM462 253.96h3v8.64h-3zM605 253.96h1v8.64h-1zM429 279.89h1v8.64h-1zM450 279.89h1v8.64h-1zM466 305.82h2v8.64h-2zM446 323.10h2v8.64h-2zM468 323.10h2v8.64h-2zM428 340.39h1v8.64h-1zM438 340.39h1v8.64h-1zM434 349.03h1v8.64h-1z"/><path fill="#fcfcc6" d="M443 37.90h3v8.64h-3zM468 37.90h2v8.64h-2zM475 37.90h2v8.64h-2zM479 37.90h1v8.64h-1zM519 37.90h1v8.64h-1zM574 37.90h1v8.64h-1zM595 37.90h1v8.64h-1zM601 37.90h1v8.64h-1zM618 37.90h1v8.64h-1zM624 37.90h2v8.64h-2zM527 46.54h1v8.64h-1zM539 46.54h2v8.64h-2zM473 55.19h4v8.64h-4zM485 55.19h2v8.64h-2zM499 55.19h2v8.64h-2zM502 55.19h1v8.64h-1zM517 55.19h2v8.64h-2zM524 55.19h1v8.64h-1zM534 55.19h2v8.64h-2zM602 55.19h1v8.64h-1zM611 55.19h2v8.64h-2zM428 63.83h1v8.64h-1zM450 63.83h1v8.64h-1zM471 63.83h1v8.64h-1zM533 63.83h1v8.64h-1zM624 63.83h2v8.64h-2zM448 72.47h2v8.64h-2zM428 81.11h1v8.64h-1zM471 81.11h1v8.64h-1zM529 81.11h1v8.64h-1zM578 81.11h2v8.64h-2zM599 81.11h1v8.64h-1zM601 81.11h1v8.64h-1zM605 81.11h1v8.64h-1zM608 81.11h2v8.64h-2zM430 89.76h1v8.64h-1zM435 89.76h2v8.64h-2zM468 89.76h2v8.64h-2zM475 89.76h2v8.64h-2zM521 89.76h2v8.64h-2zM528 89.76h1v8.64h-1zM530 89.76h1v8.64h-1zM532 89.76h1v8.64h-1zM571 89.76h2v8.64h-2zM584 89.76h1v8.64h-1zM590 89.76h2v8.64h-2zM605 89.76h2v8.64h-2zM610 89.76h3v8.64h-3zM633 89.76h1v8.64h-1zM484 98.40h1v8.64h-1zM490 98.40h1v8.64h-1zM497 98.40h4v8.64h-4zM503 98.40h1v8.64h-1zM505 98.40h1v8.64h-1zM508 98.40h1v8.64h-1zM516 98.40h3v8.64h-3zM520 98.40h3v8.64h-3zM534 98.40h2v8.64h-2zM541 98.40h1v8.64h-1zM480 107.04h2v8.64h-2zM498 107.04h1v8.64h-1zM519 107.04h1v8.64h-1zM622 107.04h1v8.64h-1zM583 115.68h1v8.64h-1zM601 115.68h1v8.64h-1zM606 124.33h1v8.64h-1zM629 124.33h2v8.64h-2zM485 132.97h2v8.64h-2zM498 132.97h1v8.64h-1zM521 132.97h2v8.64h-2zM575 141.61h2v8.64h-2zM605 141.61h1v8.64h-1zM517 150.25h2v8.64h-2zM546 150.25h2v8.64h-2zM582 158.90h1v8.64h-1zM536 167.54h1v8.64h-1zM593 167.54h2v8.64h-2zM504 176.18h1v8.64h-1zM509 176.18h1v8.64h-1zM606 184.82h1v8.64h-1zM509 193.47h1v8.64h-1zM528 193.47h1v8.64h-1zM569 193.47h2v8.64h-2zM424 202.11h1v8.64h-1zM541 202.11h1v8.64h-1zM435 210.75h2v8.64h-2zM558 210.75h2v8.64h-2zM622 210.75h1v8.64h-1zM472 219.39h1v8.64h-1zM577 219.39h1v8.64h-1zM472 228.04h1v8.64h-1zM573 228.04h1v8.64h-1zM627 228.04h1v8.64h-1zM437 245.32h1v8.64h-1zM458 245.32h1v8.64h-1zM622 245.32h1v8.64h-1zM628 245.32h1v8.64h-1zM417 253.96h1v8.64h-1zM560 253.96h1v8.64h-1zM591 253.96h1v8.64h-1zM472 262.61h1v8.64h-1zM615 262.61h2v8.64h-2zM427 271.25h1v8.64h-1zM459 271.25h1v8.64h-1zM561 271.25h1v8.64h-1zM435 279.89h2v8.64h-2zM561 279.89h1v8.64h-1zM435 288.53h2v8.64h-2zM459 288.53h1v8.64h-1zM465 288.53h1v8.64h-1zM561 288.53h1v8.64h-1zM608 288.53h2v8.64h-2zM437 305.82h1v8.64h-1zM502 305.82h1v8.64h-1zM426 314.46h1v8.64h-1zM428 314.46h1v8.64h-1zM450 314.46h1v8.64h-1zM459 314.46h1v8.64h-1zM480 323.10h2v8.64h-2zM551 323.10h1v8.64h-1zM460 331.75h2v8.64h-2zM437 340.39h1v8.64h-1zM465 340.39h1v8.64h-1zM441 357.67h2v8.64h-2zM423 366.32h1v8.64h-1zM488 366.32h2v8.64h-2zM504 366.32h1v8.64h-1zM448 374.96h2v8.64h-2zM452 374.96h1v8.64h-1zM457 374.96h2v8.64h-2zM472 374.96h1v8.64h-1zM545 374.96h1v8.64h-1z"/><path fill="#fce49c" d="M452 37.90h1v8.64h-1zM515 37.90h1v8.64h-1zM621 37.90h1v8.64h-1zM542 46.54h1v8.64h-1zM434 55.19h1v8.64h-1zM438 55.19h1v8.64h-1zM555 63.83h3v8.64h-3zM571 63.83h4v8.64h-4zM578 63.83h2v8.64h-2zM582 63.83h1v8.64h-1zM434 72.47h1v8.64h-1zM468 72.47h2v8.64h-2zM433 81.11h2v8.64h-2zM492 89.76h2v8.64h-2zM515 89.76h1v8.64h-1zM452 107.04h1v8.64h-1zM587 107.04h1v8.64h-1zM441 115.68h2v8.64h-2zM487 115.68h1v8.64h-1zM496 115.68h1v8.64h-1zM508 115.68h2v8.64h-2zM534 115.68h2v8.64h-2zM542 115.68h1v8.64h-1zM549 115.68h2v8.64h-2zM491 124.33h1v8.64h-1zM502 124.33h1v8.64h-1zM510 124.33h2v8.64h-2zM513 124.33h2v8.64h-2zM517 124.33h2v8.64h-2zM528 124.33h1v8.64h-1zM543 124.33h2v8.64h-2zM546 124.33h2v8.64h-2zM551 124.33h1v8.64h-1zM553 124.33h1v8.64h-1zM482 132.97h2v8.64h-2zM554 132.97h1v8.64h-1zM413 141.61h1v8.64h-1zM424 141.61h1v8.64h-1zM475 141.61h2v8.64h-2zM490 141.61h1v8.64h-1zM502 141.61h1v8.64h-1zM504 141.61h1v8.64h-1zM512 141.61h1v8.64h-1zM520 141.61h1v8.64h-1zM525 141.61h2v8.64h-2zM545 141.61h1v8.64h-1zM551 141.61h1v8.64h-1zM482 150.25h2v8.64h-2zM554 150.25h1v8.64h-1zM496 158.90h1v8.64h-1zM503 158.90h1v8.64h-1zM505 158.90h1v8.64h-1zM516 158.90h3v8.64h-3zM524 158.90h3v8.64h-3zM533 158.90h1v8.64h-1zM537 158.90h2v8.64h-2zM543 158.90h2v8.64h-2zM551 158.90h1v8.64h-1zM561 158.90h1v8.64h-1zM581 158.90h1v8.64h-1zM420 167.54h3v8.64h-3zM482 167.54h2v8.64h-2zM485 167.54h2v8.64h-2zM490 167.54h1v8.64h-1zM497 167.54h1v8.64h-1zM502 167.54h1v8.64h-1zM552 167.54h2v8.64h-2zM473 176.18h2v8.64h-2zM480 176.18h2v8.64h-2zM506 176.18h2v8.64h-2zM527 176.18h4v8.64h-4zM534 176.18h2v8.64h-2zM416 184.82h1v8.64h-1zM499 184.82h2v8.64h-2zM502 184.82h1v8.64h-1zM512 184.82h1v8.64h-1zM408 193.47h2v8.64h-2zM414 193.47h2v8.64h-2zM425 193.47h1v8.64h-1zM473 193.47h2v8.64h-2zM490 193.47h1v8.64h-1zM423 202.11h1v8.64h-1zM480 202.11h2v8.64h-2zM497 202.11h2v8.64h-2zM501 202.11h1v8.64h-1zM516 202.11h1v8.64h-1zM528 202.11h2v8.64h-2zM532 202.11h1v8.64h-1zM534 202.11h2v8.64h-2zM553 202.11h1v8.64h-1zM462 210.75h1v8.64h-1zM471 210.75h1v8.64h-1zM566 210.75h1v8.64h-1zM569 210.75h2v8.64h-2zM591 210.75h1v8.64h-1zM595 210.75h1v8.64h-1zM430 219.39h1v8.64h-1zM457 219.39h1v8.64h-1zM463 219.39h2v8.64h-2zM524 219.39h1v8.64h-1zM529 219.39h1v8.64h-1zM531 219.39h1v8.64h-1zM546 219.39h2v8.64h-2zM558 219.39h2v8.64h-2zM571 219.39h2v8.64h-2zM589 219.39h1v8.64h-1zM591 219.39h1v8.64h-1zM596 219.39h1v8.64h-1zM618 219.39h1v8.64h-1zM621 219.39h1v8.64h-1zM629 219.39h2v8.64h-2zM434 228.04h1v8.64h-1zM446 228.04h5v8.64h-5zM524 228.04h1v8.64h-1zM533 228.04h1v8.64h-1zM541 228.04h1v8.64h-1zM546 228.04h2v8.64h-2zM553 228.04h1v8.64h-1zM556 228.04h2v8.64h-2zM560 228.04h1v8.64h-1zM567 228.04h2v8.64h-2zM583 228.04h1v8.64h-1zM591 228.04h1v8.64h-1zM601 228.04h1v8.64h-1zM618 228.04h1v8.64h-1zM621 228.04h1v8.64h-1zM431 236.68h2v8.64h-2zM446 236.68h2v8.64h-2zM501 236.68h1v8.64h-1zM510 236.68h2v8.64h-2zM527 236.68h1v8.64h-1zM448 245.32h2v8.64h-2zM454 245.32h2v8.64h-2zM506 245.32h2v8.64h-2zM528 245.32h1v8.64h-1zM555 245.32h1v8.64h-1zM558 245.32h2v8.64h-2zM587 245.32h1v8.64h-1zM607 245.32h1v8.64h-1zM617 245.32h2v8.64h-2zM621 245.32h1v8.64h-1zM528 253.96h1v8.64h-1zM532 253.96h1v8.64h-1zM545 253.96h1v8.64h-1zM556 253.96h2v8.64h-2zM451 262.61h1v8.64h-1zM454 262.61h2v8.64h-2zM471 262.61h1v8.64h-1zM501 262.61h1v8.64h-1zM536 262.61h1v8.64h-1zM545 262.61h1v8.64h-1zM575 262.61h2v8.64h-2zM590 262.61h1v8.64h-1zM598 262.61h1v8.64h-1zM600 262.61h1v8.64h-1zM602 262.61h1v8.64h-1zM613 262.61h2v8.64h-2zM632 262.61h1v8.64h-1zM434 271.25h1v8.64h-1zM454 271.25h2v8.64h-2zM480 271.25h2v8.64h-2zM490 271.25h1v8.64h-1zM524 271.25h1v8.64h-1zM528 271.25h2v8.64h-2zM546 271.25h2v8.64h-2zM575 271.25h2v8.64h-2zM582 271.25h1v8.64h-1zM585 271.25h2v8.64h-2zM602 271.25h1v8.64h-1zM614 271.25h1v8.64h-1zM627 271.25h1v8.64h-1zM635 271.25h1v8.64h-1zM580 279.89h2v8.64h-2zM592 279.89h1v8.64h-1zM606 279.89h1v8.64h-1zM613 279.89h1v8.64h-1zM617 279.89h2v8.64h-2zM428 288.53h1v8.64h-1zM457 288.53h1v8.64h-1zM462 288.53h1v8.64h-1zM466 288.53h2v8.64h-2zM475 288.53h2v8.64h-2zM501 288.53h1v8.64h-1zM510 288.53h2v8.64h-2zM558 288.53h2v8.64h-2zM587 288.53h1v8.64h-1zM590 288.53h1v8.64h-1zM596 288.53h2v8.64h-2zM606 288.53h1v8.64h-1zM614 288.53h1v8.64h-1zM485 297.18h2v8.64h-2zM488 297.18h2v8.64h-2zM494 297.18h2v8.64h-2zM502 297.18h1v8.64h-1zM505 297.18h3v8.64h-3zM516 297.18h1v8.64h-1zM521 297.18h2v8.64h-2zM551 297.18h3v8.64h-3zM627 297.18h1v8.64h-1zM554 305.82h1v8.64h-1zM556 305.82h2v8.64h-2zM479 314.46h1v8.64h-1zM521 314.46h2v8.64h-2zM527 314.46h2v8.64h-2zM532 314.46h1v8.64h-1zM543 314.46h2v8.64h-2zM611 314.46h2v8.64h-2zM491 323.10h3v8.64h-3zM497 323.10h1v8.64h-1zM501 323.10h1v8.64h-1zM524 323.10h1v8.64h-1zM552 323.10h1v8.64h-1zM485 331.75h2v8.64h-2zM488 331.75h2v8.64h-2zM496 331.75h1v8.64h-1zM503 331.75h1v8.64h-1zM512 331.75h1v8.64h-1zM517 331.75h2v8.64h-2zM541 331.75h1v8.64h-1zM543 331.75h2v8.64h-2zM548 331.75h1v8.64h-1zM553 331.75h1v8.64h-1zM488 340.39h2v8.64h-2zM494 340.39h2v8.64h-2zM497 340.39h1v8.64h-1zM499 340.39h3v8.64h-3zM504 340.39h2v8.64h-2zM510 340.39h2v8.64h-2zM515 340.39h1v8.64h-1zM517 340.39h2v8.64h-2zM521 340.39h2v8.64h-2zM541 340.39h1v8.64h-1zM554 340.39h1v8.64h-1zM561 340.39h1v8.64h-1zM598 340.39h1v8.64h-1zM487 349.03h1v8.64h-1zM499 349.03h3v8.64h-3zM505 349.03h1v8.64h-1zM509 349.03h1v8.64h-1zM515 349.03h1v8.64h-1zM517 349.03h2v8.64h-2zM525 349.03h2v8.64h-2zM528 349.03h1v8.64h-1zM536 349.03h3v8.64h-3zM541 349.03h1v8.64h-1zM553 349.03h1v8.64h-1zM473 357.67h2v8.64h-2zM504 357.67h1v8.64h-1zM506 357.67h2v8.64h-2zM509 357.67h3v8.64h-3zM525 357.67h2v8.64h-2zM530 357.67h1v8.64h-1zM533 357.67h1v8.64h-1zM537 357.67h2v8.64h-2zM548 357.67h1v8.64h-1zM552 357.67h1v8.64h-1zM554 357.67h1v8.64h-1zM619 357.67h1v8.64h-1zM627 357.67h1v8.64h-1zM417 366.32h1v8.64h-1zM484 366.32h1v8.64h-1zM491 366.32h1v8.64h-1zM523 366.32h1v8.64h-1zM541 366.32h2v8.64h-2zM552 366.32h1v8.64h-1zM478 374.96h1v8.64h-1zM488 374.96h2v8.64h-2zM508 374.96h1v8.64h-1zM542 374.96h1v8.64h-1zM556 374.96h2v8.64h-2zM623 374.96h1v8.64h-1zM631 374.96h1v8.64h-1z"/><path fill="#fcba78" d="M454 37.90h2v8.64h-2zM458 37.90h1v8.64h-1zM466 55.19h2v8.64h-2zM426 98.40h1v8.64h-1zM457 98.40h2v8.64h-2zM470 98.40h1v8.64h-1zM450 115.68h1v8.64h-1zM456 124.33h2v8.64h-2zM407 141.61h1v8.64h-1zM434 141.61h1v8.64h-1zM456 141.61h1v8.64h-1zM508 141.61h1v8.64h-1zM409 150.25h1v8.64h-1zM433 158.90h1v8.64h-1zM492 158.90h2v8.64h-2zM434 167.54h1v8.64h-1zM515 167.54h1v8.64h-1zM478 176.18h1v8.64h-1zM407 184.82h1v8.64h-1zM423 184.82h1v8.64h-1zM426 184.82h1v8.64h-1zM487 184.82h1v8.64h-1zM542 184.82h1v8.64h-1zM417 193.47h1v8.64h-1zM451 193.47h1v8.64h-1zM452 202.11h1v8.64h-1zM492 202.11h2v8.64h-2zM537 219.39h2v8.64h-2zM548 219.39h1v8.64h-1zM490 228.04h1v8.64h-1zM520 228.04h1v8.64h-1zM478 236.68h1v8.64h-1zM548 245.32h1v8.64h-1zM484 253.96h1v8.64h-1zM503 253.96h1v8.64h-1zM512 253.96h1v8.64h-1zM527 253.96h1v8.64h-1zM529 253.96h1v8.64h-1zM534 253.96h2v8.64h-2zM595 253.96h1v8.64h-1zM503 262.61h1v8.64h-1zM531 262.61h1v8.64h-1zM539 262.61h2v8.64h-2zM549 262.61h2v8.64h-2zM473 279.89h2v8.64h-2zM492 279.89h2v8.64h-2zM523 279.89h1v8.64h-1zM554 279.89h1v8.64h-1zM569 279.89h2v8.64h-2zM480 288.53h2v8.64h-2zM537 288.53h2v8.64h-2zM478 297.18h1v8.64h-1zM584 297.18h1v8.64h-1zM600 297.18h1v8.64h-1zM620 297.18h1v8.64h-1zM624 297.18h2v8.64h-2zM628 297.18h1v8.64h-1zM590 305.82h1v8.64h-1zM473 314.46h2v8.64h-2zM560 314.46h1v8.64h-1zM584 314.46h1v8.64h-1zM597 314.46h1v8.64h-1zM602 314.46h1v8.64h-1zM606 314.46h1v8.64h-1zM566 331.75h1v8.64h-1zM574 331.75h1v8.64h-1zM603 331.75h2v8.64h-2zM608 331.75h2v8.64h-2zM621 331.75h1v8.64h-1zM624 331.75h2v8.64h-2zM592 340.39h1v8.64h-1zM620 340.39h1v8.64h-1zM562 349.03h2v8.64h-2zM613 349.03h1v8.64h-1zM635 349.03h1v8.64h-1zM577 357.67h1v8.64h-1zM587 357.67h1v8.64h-1zM591 357.67h1v8.64h-1zM600 357.67h1v8.64h-1zM613 357.67h1v8.64h-1zM626 357.67h1v8.64h-1zM633 357.67h1v8.64h-1zM561 366.32h1v8.64h-1zM580 366.32h1v8.64h-1zM591 366.32h1v8.64h-1zM603 374.96h2v8.64h-2zM618 374.96h1v8.64h-1zM621 374.96h1v8.64h-1z"/><path fill="#fca86c" d="M456 37.90h2v8.64h-2zM443 46.54h2v8.64h-2zM452 46.54h1v8.64h-1zM454 55.19h2v8.64h-2zM458 55.19h1v8.64h-1zM458 63.83h1v8.64h-1zM457 81.11h1v8.64h-1zM433 98.40h1v8.64h-1zM437 98.40h1v8.64h-1zM443 98.40h2v8.64h-2zM446 98.40h2v8.64h-2zM451 98.40h2v8.64h-2zM456 98.40h1v8.64h-1zM472 98.40h1v8.64h-1zM465 115.68h1v8.64h-1zM426 124.33h1v8.64h-1zM426 141.61h1v8.64h-1zM428 141.61h1v8.64h-1zM430 141.61h1v8.64h-1zM433 141.61h1v8.64h-1zM435 141.61h2v8.64h-2zM439 141.61h2v8.64h-2zM454 141.61h2v8.64h-2zM462 141.61h1v8.64h-1zM470 141.61h1v8.64h-1zM407 150.25h1v8.64h-1zM423 150.25h1v8.64h-1zM426 158.90h1v8.64h-1zM457 158.90h1v8.64h-1zM465 158.90h1v8.64h-1zM433 184.82h1v8.64h-1zM457 184.82h1v8.64h-1zM435 193.47h2v8.64h-2zM441 193.47h2v8.64h-2zM452 193.47h1v8.64h-1zM454 193.47h2v8.64h-2zM470 193.47h2v8.64h-2zM426 202.11h1v8.64h-1zM433 202.11h1v8.64h-1zM465 210.75h5v8.64h-5zM501 210.75h1v8.64h-1zM534 210.75h2v8.64h-2zM437 219.39h4v8.64h-4zM497 219.39h1v8.64h-1zM525 219.39h2v8.64h-2zM477 228.04h1v8.64h-1zM491 228.04h1v8.64h-1zM525 228.04h2v8.64h-2zM508 236.68h1v8.64h-1zM520 236.68h1v8.64h-1zM626 236.68h1v8.64h-1zM482 245.32h2v8.64h-2zM554 245.32h1v8.64h-1zM479 253.96h1v8.64h-1zM499 253.96h2v8.64h-2zM519 253.96h1v8.64h-1zM515 262.61h1v8.64h-1zM482 271.25h2v8.64h-2zM494 271.25h2v8.64h-2zM515 271.25h1v8.64h-1zM482 279.89h2v8.64h-2zM509 279.89h1v8.64h-1zM542 288.53h1v8.64h-1zM591 288.53h1v8.64h-1zM595 288.53h1v8.64h-1zM555 297.18h1v8.64h-1zM562 297.18h2v8.64h-2zM583 297.18h1v8.64h-1zM587 297.18h1v8.64h-1zM605 297.18h1v8.64h-1zM614 297.18h1v8.64h-1zM629 297.18h2v8.64h-2zM593 305.82h2v8.64h-2zM601 305.82h1v8.64h-1zM603 305.82h2v8.64h-2zM605 314.46h1v8.64h-1zM622 314.46h1v8.64h-1zM580 323.10h1v8.64h-1zM584 323.10h1v8.64h-1zM590 323.10h1v8.64h-1zM603 323.10h2v8.64h-2zM608 323.10h2v8.64h-2zM615 323.10h2v8.64h-2zM596 331.75h1v8.64h-1zM600 331.75h1v8.64h-1zM629 331.75h2v8.64h-2zM555 340.39h1v8.64h-1zM583 340.39h1v8.64h-1zM590 340.39h1v8.64h-1zM606 340.39h1v8.64h-1zM556 349.03h4v8.64h-4zM580 349.03h1v8.64h-1zM601 349.03h1v8.64h-1zM610 349.03h1v8.64h-1zM615 349.03h2v8.64h-2zM626 349.03h1v8.64h-1zM573 357.67h1v8.64h-1zM589 357.67h1v8.64h-1zM592 357.67h1v8.64h-1zM596 357.67h1v8.64h-1zM622 357.67h1v8.64h-1zM624 357.67h2v8.64h-2zM558 366.32h3v8.64h-3zM577 366.32h1v8.64h-1zM601 366.32h1v8.64h-1zM610 366.32h1v8.64h-1zM623 366.32h1v8.64h-1zM633 366.32h1v8.64h-1zM585 374.96h3v8.64h-3zM606 374.96h1v8.64h-1zM617 374.96h1v8.64h-1z"/><path fill="#de6042" d="M459 37.90h1v8.64h-1zM412 46.54h1v8.64h-1zM416 46.54h1v8.64h-1zM420 46.54h1v8.64h-1zM460 55.19h2v8.64h-2zM460 72.47h2v8.64h-2zM459 89.76h1v8.64h-1zM460 107.04h2v8.64h-2zM437 124.33h1v8.64h-1zM453 124.33h1v8.64h-1zM468 124.33h2v8.64h-2zM441 132.97h2v8.64h-2zM450 132.97h1v8.64h-1zM452 132.97h1v8.64h-1zM463 132.97h2v8.64h-2zM451 150.25h1v8.64h-1zM460 158.90h2v8.64h-2zM462 176.18h1v8.64h-1zM453 184.82h1v8.64h-1zM487 210.75h3v8.64h-3zM494 219.39h2v8.64h-2zM582 340.39h1v8.64h-1zM593 366.32h2v8.64h-2z"/><path fill="#d86042" d="M460 37.90h2v8.64h-2zM460 63.83h2v8.64h-2zM459 72.47h1v8.64h-1zM462 72.47h1v8.64h-1zM430 132.97h1v8.64h-1zM435 132.97h2v8.64h-2zM463 202.11h2v8.64h-2zM492 210.75h2v8.64h-2z"/><path fill="#d24e36" d="M462 37.90h1v8.64h-1zM407 46.54h5v8.64h-5zM413 46.54h3v8.64h-3zM417 46.54h3v8.64h-3zM421 46.54h5v8.64h-5zM472 124.33h1v8.64h-1zM451 132.97h1v8.64h-1zM453 132.97h1v8.64h-1zM445 150.25h1v8.64h-1zM450 150.25h1v8.64h-1zM472 150.25h1v8.64h-1zM459 158.90h1v8.64h-1zM453 176.18h1v8.64h-1zM472 202.11h1v8.64h-1z"/><path fill="#d85a3c" d="M463 37.90h2v8.64h-2zM463 63.83h2v8.64h-2zM459 81.11h1v8.64h-1zM459 107.04h1v8.64h-1zM448 124.33h2v8.64h-2zM463 124.33h2v8.64h-2zM466 124.33h2v8.64h-2zM459 132.97h1v8.64h-1zM471 132.97h1v8.64h-1zM430 167.54h1v8.64h-1zM450 167.54h1v8.64h-1zM472 167.54h1v8.64h-1zM445 176.18h1v8.64h-1zM450 176.18h1v8.64h-1zM466 202.11h2v8.64h-2zM496 210.75h1v8.64h-1zM515 210.75h1v8.64h-1zM622 305.82h1v8.64h-1zM622 340.39h1v8.64h-1zM585 349.03h2v8.64h-2z"/><path fill="#fcb478" d="M465 37.90h1v8.64h-1zM457 55.19h1v8.64h-1zM465 55.19h1v8.64h-1zM457 63.83h1v8.64h-1zM465 63.83h1v8.64h-1zM454 89.76h2v8.64h-2zM428 98.40h3v8.64h-3zM435 98.40h2v8.64h-2zM448 98.40h2v8.64h-2zM465 98.40h5v8.64h-5zM434 115.68h1v8.64h-1zM443 115.68h2v8.64h-2zM525 115.68h2v8.64h-2zM494 124.33h2v8.64h-2zM423 132.97h1v8.64h-1zM412 141.61h1v8.64h-1zM412 150.25h1v8.64h-1zM542 158.90h1v8.64h-1zM585 158.90h2v8.64h-2zM456 167.54h1v8.64h-1zM492 176.18h2v8.64h-2zM418 184.82h5v8.64h-5zM428 184.82h1v8.64h-1zM434 184.82h1v8.64h-1zM456 184.82h1v8.64h-1zM465 184.82h1v8.64h-1zM494 184.82h2v8.64h-2zM554 184.82h1v8.64h-1zM426 193.47h2v8.64h-2zM438 193.47h1v8.64h-1zM485 193.47h2v8.64h-2zM457 202.11h1v8.64h-1zM515 202.11h1v8.64h-1zM453 210.75h1v8.64h-1zM510 210.75h2v8.64h-2zM541 210.75h1v8.64h-1zM485 219.39h2v8.64h-2zM502 219.39h1v8.64h-1zM512 219.39h1v8.64h-1zM566 219.39h1v8.64h-1zM595 219.39h1v8.64h-1zM505 228.04h1v8.64h-1zM513 228.04h2v8.64h-2zM505 236.68h1v8.64h-1zM488 245.32h2v8.64h-2zM504 245.32h1v8.64h-1zM519 245.32h1v8.64h-1zM523 245.32h1v8.64h-1zM583 245.32h1v8.64h-1zM478 253.96h1v8.64h-1zM513 253.96h2v8.64h-2zM552 253.96h1v8.64h-1zM484 262.61h1v8.64h-1zM519 262.61h1v8.64h-1zM552 262.61h1v8.64h-1zM599 262.61h1v8.64h-1zM473 271.25h2v8.64h-2zM525 271.25h2v8.64h-2zM564 271.25h2v8.64h-2zM569 271.25h2v8.64h-2zM508 279.89h1v8.64h-1zM515 279.89h1v8.64h-1zM542 279.89h1v8.64h-1zM549 279.89h2v8.64h-2zM473 288.53h2v8.64h-2zM515 288.53h1v8.64h-1zM613 288.53h1v8.64h-1zM577 297.18h1v8.64h-1zM603 297.18h2v8.64h-2zM606 297.18h1v8.64h-1zM610 297.18h1v8.64h-1zM626 297.18h1v8.64h-1zM566 305.82h3v8.64h-3zM569 314.46h2v8.64h-2zM578 314.46h2v8.64h-2zM600 314.46h1v8.64h-1zM618 314.46h1v8.64h-1zM624 314.46h2v8.64h-2zM634 314.46h1v8.64h-1zM626 323.10h1v8.64h-1zM478 331.75h1v8.64h-1zM573 331.75h1v8.64h-1zM577 331.75h1v8.64h-1zM583 331.75h1v8.64h-1zM595 331.75h1v8.64h-1zM599 331.75h1v8.64h-1zM602 331.75h1v8.64h-1zM605 331.75h1v8.64h-1zM614 331.75h1v8.64h-1zM632 331.75h1v8.64h-1zM607 340.39h3v8.64h-3zM595 349.03h1v8.64h-1zM598 349.03h1v8.64h-1zM628 349.03h1v8.64h-1zM632 349.03h2v8.64h-2zM567 357.67h2v8.64h-2zM580 357.67h1v8.64h-1zM608 357.67h3v8.64h-3zM629 357.67h2v8.64h-2zM599 366.32h1v8.64h-1zM566 374.96h1v8.64h-1zM599 374.96h1v8.64h-1zM615 374.96h2v8.64h-2zM628 374.96h1v8.64h-1z"/><path fill="#fccc8a" d="M466 37.90h2v8.64h-2zM485 37.90h2v8.64h-2zM569 63.83h2v8.64h-2zM427 98.40h1v8.64h-1zM429 115.68h1v8.64h-1zM439 115.68h2v8.64h-2zM451 115.68h1v8.64h-1zM471 115.68h1v8.64h-1zM531 115.68h1v8.64h-1zM407 132.97h1v8.64h-1zM418 132.97h2v8.64h-2zM409 141.61h1v8.64h-1zM420 141.61h1v8.64h-1zM477 141.61h1v8.64h-1zM503 141.61h1v8.64h-1zM506 141.61h2v8.64h-2zM546 141.61h2v8.64h-2zM548 167.54h1v8.64h-1zM554 167.54h1v8.64h-1zM542 176.18h1v8.64h-1zM484 184.82h1v8.64h-1zM488 184.82h2v8.64h-2zM534 184.82h2v8.64h-2zM477 193.47h1v8.64h-1zM477 202.11h1v8.64h-1zM508 202.11h1v8.64h-1zM434 219.39h1v8.64h-1zM551 219.39h1v8.64h-1zM453 228.04h1v8.64h-1zM532 228.04h1v8.64h-1zM549 236.68h2v8.64h-2zM480 245.32h2v8.64h-2zM484 245.32h1v8.64h-1zM503 245.32h1v8.64h-1zM524 245.32h1v8.64h-1zM553 253.96h1v8.64h-1zM468 262.61h2v8.64h-2zM502 262.61h1v8.64h-1zM567 262.61h2v8.64h-2zM629 262.61h2v8.64h-2zM503 271.25h2v8.64h-2zM479 279.89h1v8.64h-1zM506 279.89h2v8.64h-2zM534 279.89h2v8.64h-2zM591 279.89h1v8.64h-1zM599 279.89h1v8.64h-1zM477 288.53h1v8.64h-1zM527 288.53h1v8.64h-1zM583 288.53h2v8.64h-2zM519 297.18h1v8.64h-1zM549 297.18h2v8.64h-2zM621 297.18h1v8.64h-1zM632 297.18h1v8.64h-1zM619 305.82h2v8.64h-2zM517 314.46h2v8.64h-2zM524 314.46h1v8.64h-1zM549 314.46h2v8.64h-2zM566 314.46h1v8.64h-1zM573 314.46h1v8.64h-1zM632 314.46h1v8.64h-1zM523 331.75h1v8.64h-1zM598 331.75h1v8.64h-1zM475 340.39h2v8.64h-2zM623 340.39h1v8.64h-1zM477 357.67h1v8.64h-1zM632 357.67h1v8.64h-1zM477 366.32h1v8.64h-1zM492 366.32h2v8.64h-2zM619 366.32h1v8.64h-1zM627 366.32h1v8.64h-1zM633 374.96h1v8.64h-1z"/><path fill="#fcfcc0" d="M473 37.90h2v8.64h-2zM501 37.90h1v8.64h-1zM632 37.90h1v8.64h-1zM482 46.54h2v8.64h-2zM532 46.54h1v8.64h-1zM551 46.54h1v8.64h-1zM587 46.54h1v8.64h-1zM445 55.19h1v8.64h-1zM468 55.19h2v8.64h-2zM477 55.19h1v8.64h-1zM480 55.19h2v8.64h-2zM504 55.19h2v8.64h-2zM509 55.19h1v8.64h-1zM529 55.19h2v8.64h-2zM533 55.19h1v8.64h-1zM571 55.19h2v8.64h-2zM593 55.19h3v8.64h-3zM434 63.83h1v8.64h-1zM505 63.83h1v8.64h-1zM430 72.47h1v8.64h-1zM475 72.47h2v8.64h-2zM543 72.47h2v8.64h-2zM443 81.11h2v8.64h-2zM591 81.11h1v8.64h-1zM445 89.76h1v8.64h-1zM450 89.76h2v8.64h-2zM453 89.76h1v8.64h-1zM480 89.76h2v8.64h-2zM503 89.76h1v8.64h-1zM520 89.76h1v8.64h-1zM534 89.76h2v8.64h-2zM542 89.76h1v8.64h-1zM552 89.76h1v8.64h-1zM556 89.76h2v8.64h-2zM564 89.76h2v8.64h-2zM582 89.76h2v8.64h-2zM602 89.76h1v8.64h-1zM619 89.76h1v8.64h-1zM473 98.40h2v8.64h-2zM477 98.40h1v8.64h-1zM528 98.40h1v8.64h-1zM533 98.40h1v8.64h-1zM429 107.04h1v8.64h-1zM472 107.04h1v8.64h-1zM485 107.04h3v8.64h-3zM520 107.04h1v8.64h-1zM531 107.04h1v8.64h-1zM555 107.04h1v8.64h-1zM539 115.68h2v8.64h-2zM597 115.68h1v8.64h-1zM593 124.33h2v8.64h-2zM622 124.33h1v8.64h-1zM477 132.97h1v8.64h-1zM497 132.97h1v8.64h-1zM529 132.97h1v8.64h-1zM532 132.97h1v8.64h-1zM622 132.97h1v8.64h-1zM496 150.25h1v8.64h-1zM499 150.25h2v8.64h-2zM516 150.25h1v8.64h-1zM531 150.25h1v8.64h-1zM534 150.25h2v8.64h-2zM562 158.90h2v8.64h-2zM631 158.90h1v8.64h-1zM541 167.54h1v8.64h-1zM413 176.18h1v8.64h-1zM479 193.47h1v8.64h-1zM491 193.47h1v8.64h-1zM505 193.47h1v8.64h-1zM583 193.47h1v8.64h-1zM605 202.11h1v8.64h-1zM439 210.75h2v8.64h-2zM589 210.75h1v8.64h-1zM597 210.75h2v8.64h-2zM619 210.75h1v8.64h-1zM626 210.75h1v8.64h-1zM598 219.39h1v8.64h-1zM628 219.39h1v8.64h-1zM429 228.04h1v8.64h-1zM598 228.04h1v8.64h-1zM622 228.04h1v8.64h-1zM427 236.68h1v8.64h-1zM450 236.68h1v8.64h-1zM600 236.68h1v8.64h-1zM606 236.68h1v8.64h-1zM633 236.68h1v8.64h-1zM445 245.32h1v8.64h-1zM450 245.32h1v8.64h-1zM472 245.32h1v8.64h-1zM555 253.96h1v8.64h-1zM564 253.96h2v8.64h-2zM438 262.61h1v8.64h-1zM453 262.61h1v8.64h-1zM456 262.61h1v8.64h-1zM435 271.25h2v8.64h-2zM430 279.89h1v8.64h-1zM433 279.89h1v8.64h-1zM462 279.89h1v8.64h-1zM443 288.53h2v8.64h-2zM460 297.18h2v8.64h-2zM438 305.82h1v8.64h-1zM468 305.82h2v8.64h-2zM496 305.82h1v8.64h-1zM504 305.82h1v8.64h-1zM539 305.82h2v8.64h-2zM431 314.46h2v8.64h-2zM448 314.46h2v8.64h-2zM458 314.46h1v8.64h-1zM505 323.10h3v8.64h-3zM528 323.10h1v8.64h-1zM531 323.10h1v8.64h-1zM437 357.67h1v8.64h-1zM451 357.67h2v8.64h-2zM485 366.32h2v8.64h-2zM496 366.32h1v8.64h-1zM503 366.32h1v8.64h-1zM516 366.32h1v8.64h-1zM546 366.32h2v8.64h-2zM462 374.96h1v8.64h-1zM490 374.96h1v8.64h-1z"/><path fill="#f6f6d2" d="M477 37.90h1v8.64h-1zM480 37.90h2v8.64h-2zM531 37.90h1v8.64h-1zM534 37.90h2v8.64h-2zM605 37.90h1v8.64h-1zM520 55.19h1v8.64h-1zM582 55.19h1v8.64h-1zM477 63.83h1v8.64h-1zM619 63.83h1v8.64h-1zM629 63.83h2v8.64h-2zM533 72.47h1v8.64h-1zM541 81.11h1v8.64h-1zM575 81.11h2v8.64h-2zM582 81.11h1v8.64h-1zM635 89.76h1v8.64h-1zM555 98.40h1v8.64h-1zM439 107.04h2v8.64h-2zM478 107.04h1v8.64h-1zM548 107.04h1v8.64h-1zM581 107.04h1v8.64h-1zM482 115.68h2v8.64h-2zM605 115.68h1v8.64h-1zM560 124.33h1v8.64h-1zM541 193.47h1v8.64h-1zM587 210.75h1v8.64h-1zM615 228.04h2v8.64h-2zM435 236.68h2v8.64h-2zM441 236.68h2v8.64h-2zM631 245.32h1v8.64h-1zM437 262.61h1v8.64h-1zM450 271.25h1v8.64h-1zM480 305.82h2v8.64h-2zM503 305.82h1v8.64h-1zM503 323.10h1v8.64h-1zM441 340.39h2v8.64h-2zM446 357.67h2v8.64h-2zM551 366.32h1v8.64h-1z"/><path fill="#def0ea" d="M488 37.90h2v8.64h-2zM506 37.90h2v8.64h-2zM573 37.90h1v8.64h-1zM589 37.90h1v8.64h-1zM598 37.90h1v8.64h-1zM603 37.90h2v8.64h-2zM606 37.90h1v8.64h-1zM626 37.90h1v8.64h-1zM545 55.19h1v8.64h-1zM566 55.19h1v8.64h-1zM624 55.19h2v8.64h-2zM508 63.83h1v8.64h-1zM524 63.83h1v8.64h-1zM527 63.83h1v8.64h-1zM532 63.83h1v8.64h-1zM490 72.47h1v8.64h-1zM496 72.47h1v8.64h-1zM502 72.47h2v8.64h-2zM552 72.47h1v8.64h-1zM558 72.47h2v8.64h-2zM573 72.47h1v8.64h-1zM600 72.47h1v8.64h-1zM602 72.47h1v8.64h-1zM608 72.47h2v8.64h-2zM510 81.11h2v8.64h-2zM558 81.11h2v8.64h-2zM585 81.11h2v8.64h-2zM613 81.11h1v8.64h-1zM617 81.11h1v8.64h-1zM499 89.76h2v8.64h-2zM488 107.04h2v8.64h-2zM577 107.04h1v8.64h-1zM603 107.04h3v8.64h-3zM624 107.04h3v8.64h-3zM566 115.68h1v8.64h-1zM585 115.68h2v8.64h-2zM592 115.68h1v8.64h-1zM596 124.33h1v8.64h-1zM613 124.33h1v8.64h-1zM512 132.97h1v8.64h-1zM516 132.97h1v8.64h-1zM562 141.61h2v8.64h-2zM601 141.61h1v8.64h-1zM595 150.25h1v8.64h-1zM603 150.25h2v8.64h-2zM560 167.54h1v8.64h-1zM596 167.54h1v8.64h-1zM601 167.54h1v8.64h-1zM617 167.54h1v8.64h-1zM585 184.82h2v8.64h-2zM598 193.47h1v8.64h-1zM560 202.11h1v8.64h-1zM606 202.11h1v8.64h-1zM610 202.11h1v8.64h-1zM561 245.32h1v8.64h-1zM408 253.96h1v8.64h-1zM412 253.96h1v8.64h-1zM431 253.96h3v8.64h-3zM438 253.96h1v8.64h-1zM589 253.96h1v8.64h-1zM437 279.89h1v8.64h-1zM428 297.18h1v8.64h-1zM430 297.18h1v8.64h-1zM434 297.18h1v8.64h-1zM448 297.18h2v8.64h-2zM453 297.18h1v8.64h-1zM446 305.82h2v8.64h-2zM459 305.82h1v8.64h-1zM445 323.10h1v8.64h-1zM456 323.10h1v8.64h-1zM433 340.39h1v8.64h-1z"/><path fill="#def0f0" d="M491 37.90h1v8.64h-1zM502 37.90h1v8.64h-1zM575 37.90h2v8.64h-2zM591 55.19h1v8.64h-1zM496 63.83h1v8.64h-1zM627 63.83h1v8.64h-1zM635 63.83h1v8.64h-1zM497 72.47h1v8.64h-1zM508 72.47h1v8.64h-1zM580 72.47h1v8.64h-1zM583 72.47h1v8.64h-1zM603 72.47h2v8.64h-2zM426 81.11h1v8.64h-1zM479 81.11h1v8.64h-1zM491 81.11h1v8.64h-1zM503 81.11h1v8.64h-1zM523 81.11h1v8.64h-1zM549 81.11h2v8.64h-2zM592 81.11h1v8.64h-1zM620 81.11h1v8.64h-1zM510 89.76h3v8.64h-3zM527 89.76h1v8.64h-1zM578 98.40h2v8.64h-2zM581 98.40h1v8.64h-1zM499 107.04h2v8.64h-2zM503 107.04h1v8.64h-1zM506 107.04h2v8.64h-2zM536 107.04h1v8.64h-1zM564 107.04h2v8.64h-2zM602 107.04h1v8.64h-1zM610 107.04h1v8.64h-1zM633 107.04h1v8.64h-1zM562 115.68h2v8.64h-2zM617 124.33h1v8.64h-1zM631 124.33h1v8.64h-1zM510 132.97h2v8.64h-2zM536 132.97h1v8.64h-1zM584 132.97h1v8.64h-1zM619 141.61h1v8.64h-1zM599 150.25h1v8.64h-1zM602 150.25h1v8.64h-1zM610 150.25h1v8.64h-1zM420 158.90h1v8.64h-1zM558 167.54h2v8.64h-2zM558 176.18h2v8.64h-2zM606 176.18h1v8.64h-1zM558 184.82h2v8.64h-2zM556 193.47h2v8.64h-2zM584 202.11h3v8.64h-3zM615 210.75h2v8.64h-2zM416 253.96h1v8.64h-1zM453 253.96h1v8.64h-1zM459 253.96h1v8.64h-1zM465 253.96h1v8.64h-1zM592 253.96h1v8.64h-1zM429 297.18h1v8.64h-1zM456 297.18h1v8.64h-1zM471 297.18h1v8.64h-1zM428 305.82h1v8.64h-1zM431 305.82h2v8.64h-2zM454 323.10h2v8.64h-2zM458 323.10h1v8.64h-1zM435 340.39h2v8.64h-2zM450 340.39h1v8.64h-1zM472 349.03h1v8.64h-1zM439 357.67h2v8.64h-2zM420 366.32h1v8.64h-1zM460 366.32h2v8.64h-2z"/><path fill="#fcc684" d="M492 37.90h2v8.64h-2zM587 37.90h1v8.64h-1zM454 72.47h2v8.64h-2zM431 98.40h2v8.64h-2zM439 98.40h2v8.64h-2zM450 98.40h1v8.64h-1zM428 115.68h1v8.64h-1zM430 115.68h1v8.64h-1zM448 115.68h2v8.64h-2zM468 115.68h3v8.64h-3zM473 124.33h2v8.64h-2zM477 124.33h1v8.64h-1zM508 124.33h1v8.64h-1zM485 141.61h2v8.64h-2zM414 150.25h2v8.64h-2zM569 150.25h2v8.64h-2zM428 158.90h1v8.64h-1zM482 158.90h3v8.64h-3zM577 158.90h1v8.64h-1zM492 167.54h4v8.64h-4zM506 167.54h2v8.64h-2zM524 167.54h1v8.64h-1zM482 176.18h3v8.64h-3zM508 184.82h1v8.64h-1zM533 184.82h1v8.64h-1zM539 184.82h2v8.64h-2zM412 193.47h1v8.64h-1zM494 193.47h2v8.64h-2zM533 193.47h1v8.64h-1zM549 193.47h2v8.64h-2zM428 202.11h1v8.64h-1zM456 202.11h1v8.64h-1zM484 202.11h1v8.64h-1zM428 219.39h1v8.64h-1zM475 219.39h2v8.64h-2zM491 219.39h1v8.64h-1zM516 219.39h1v8.64h-1zM521 219.39h2v8.64h-2zM534 219.39h2v8.64h-2zM510 228.04h2v8.64h-2zM542 228.04h1v8.64h-1zM552 228.04h1v8.64h-1zM554 228.04h1v8.64h-1zM569 228.04h2v8.64h-2zM426 236.68h1v8.64h-1zM521 236.68h2v8.64h-2zM539 236.68h2v8.64h-2zM554 236.68h1v8.64h-1zM451 245.32h1v8.64h-1zM499 245.32h2v8.64h-2zM508 245.32h1v8.64h-1zM512 245.32h1v8.64h-1zM527 245.32h1v8.64h-1zM543 245.32h2v8.64h-2zM552 245.32h1v8.64h-1zM595 245.32h1v8.64h-1zM477 253.96h1v8.64h-1zM546 253.96h2v8.64h-2zM473 262.61h4v8.64h-4zM496 262.61h1v8.64h-1zM505 262.61h1v8.64h-1zM512 262.61h1v8.64h-1zM530 262.61h1v8.64h-1zM542 262.61h1v8.64h-1zM556 262.61h2v8.64h-2zM596 262.61h1v8.64h-1zM626 262.61h1v8.64h-1zM584 271.25h1v8.64h-1zM593 271.25h2v8.64h-2zM626 271.25h1v8.64h-1zM490 279.89h1v8.64h-1zM502 279.89h1v8.64h-1zM513 279.89h2v8.64h-2zM524 279.89h1v8.64h-1zM530 279.89h1v8.64h-1zM564 279.89h2v8.64h-2zM498 288.53h1v8.64h-1zM503 288.53h1v8.64h-1zM505 288.53h1v8.64h-1zM546 288.53h5v8.64h-5zM562 288.53h2v8.64h-2zM571 288.53h2v8.64h-2zM620 288.53h1v8.64h-1zM477 297.18h1v8.64h-1zM484 297.18h1v8.64h-1zM492 297.18h2v8.64h-2zM508 297.18h1v8.64h-1zM566 297.18h1v8.64h-1zM573 297.18h1v8.64h-1zM598 297.18h2v8.64h-2zM562 305.82h2v8.64h-2zM613 305.82h1v8.64h-1zM475 314.46h2v8.64h-2zM478 314.46h1v8.64h-1zM488 314.46h2v8.64h-2zM525 314.46h2v8.64h-2zM530 314.46h1v8.64h-1zM537 314.46h2v8.64h-2zM558 314.46h2v8.64h-2zM595 314.46h1v8.64h-1zM635 314.46h1v8.64h-1zM606 323.10h1v8.64h-1zM613 323.10h1v8.64h-1zM631 323.10h1v8.64h-1zM477 331.75h1v8.64h-1zM513 331.75h2v8.64h-2zM542 331.75h1v8.64h-1zM558 331.75h2v8.64h-2zM587 331.75h2v8.64h-2zM618 331.75h1v8.64h-1zM620 331.75h1v8.64h-1zM631 331.75h1v8.64h-1zM556 340.39h2v8.64h-2zM562 340.39h2v8.64h-2zM580 340.39h1v8.64h-1zM599 340.39h1v8.64h-1zM613 340.39h1v8.64h-1zM626 340.39h1v8.64h-1zM631 340.39h1v8.64h-1zM549 349.03h2v8.64h-2zM561 349.03h1v8.64h-1zM562 357.67h2v8.64h-2zM566 357.67h1v8.64h-1zM628 357.67h1v8.64h-1zM635 357.67h1v8.64h-1zM562 374.96h4v8.64h-4zM580 374.96h1v8.64h-1zM596 374.96h1v8.64h-1zM601 374.96h1v8.64h-1zM613 374.96h1v8.64h-1zM626 374.96h1v8.64h-1zM632 374.96h1v8.64h-1z"/><path fill="#fcd28a" d="M494 37.90h2v8.64h-2zM427 46.54h1v8.64h-1zM439 46.54h2v8.64h-2zM448 46.54h2v8.64h-2zM451 46.54h1v8.64h-1zM561 63.83h1v8.64h-1zM622 81.11h1v8.64h-1zM441 98.40h2v8.64h-2zM457 107.04h1v8.64h-1zM466 107.04h2v8.64h-2zM515 115.68h1v8.64h-1zM478 124.33h1v8.64h-1zM482 124.33h2v8.64h-2zM485 124.33h2v8.64h-2zM519 124.33h1v8.64h-1zM530 124.33h1v8.64h-1zM532 124.33h1v8.64h-1zM408 132.97h2v8.64h-2zM414 141.61h2v8.64h-2zM425 141.61h1v8.64h-1zM492 141.61h2v8.64h-2zM515 141.61h1v8.64h-1zM517 141.61h2v8.64h-2zM528 141.61h1v8.64h-1zM533 141.61h1v8.64h-1zM477 158.90h1v8.64h-1zM548 158.90h1v8.64h-1zM554 158.90h1v8.64h-1zM417 167.54h1v8.64h-1zM549 167.54h2v8.64h-2zM497 176.18h1v8.64h-1zM410 184.82h2v8.64h-2zM521 184.82h2v8.64h-2zM548 184.82h1v8.64h-1zM553 184.82h1v8.64h-1zM420 193.47h1v8.64h-1zM428 193.47h1v8.64h-1zM482 193.47h2v8.64h-2zM508 193.47h1v8.64h-1zM521 193.47h2v8.64h-2zM539 202.11h2v8.64h-2zM554 202.11h1v8.64h-1zM433 210.75h2v8.64h-2zM443 210.75h2v8.64h-2zM562 210.75h2v8.64h-2zM599 210.75h1v8.64h-1zM468 219.39h2v8.64h-2zM517 219.39h2v8.64h-2zM530 219.39h1v8.64h-1zM554 219.39h1v8.64h-1zM506 228.04h2v8.64h-2zM534 228.04h2v8.64h-2zM551 228.04h1v8.64h-1zM433 236.68h1v8.64h-1zM552 236.68h2v8.64h-2zM575 236.68h2v8.64h-2zM428 245.32h1v8.64h-1zM468 245.32h2v8.64h-2zM485 245.32h2v8.64h-2zM497 245.32h1v8.64h-1zM502 245.32h1v8.64h-1zM529 245.32h1v8.64h-1zM532 245.32h2v8.64h-2zM553 245.32h1v8.64h-1zM569 245.32h2v8.64h-2zM599 245.32h1v8.64h-1zM499 262.61h2v8.64h-2zM517 262.61h2v8.64h-2zM521 262.61h2v8.64h-2zM528 262.61h2v8.64h-2zM533 262.61h3v8.64h-3zM560 262.61h1v8.64h-1zM562 262.61h5v8.64h-5zM584 262.61h1v8.64h-1zM597 262.61h1v8.64h-1zM621 262.61h1v8.64h-1zM426 271.25h1v8.64h-1zM487 271.25h1v8.64h-1zM502 271.25h1v8.64h-1zM513 271.25h2v8.64h-2zM527 271.25h1v8.64h-1zM531 271.25h1v8.64h-1zM537 271.25h2v8.64h-2zM543 271.25h2v8.64h-2zM549 271.25h3v8.64h-3zM553 271.25h1v8.64h-1zM580 271.25h1v8.64h-1zM633 271.25h1v8.64h-1zM503 279.89h1v8.64h-1zM520 279.89h3v8.64h-3zM562 279.89h2v8.64h-2zM587 279.89h1v8.64h-1zM621 279.89h1v8.64h-1zM633 279.89h1v8.64h-1zM516 288.53h1v8.64h-1zM520 288.53h1v8.64h-1zM528 288.53h1v8.64h-1zM530 288.53h1v8.64h-1zM541 288.53h1v8.64h-1zM545 288.53h1v8.64h-1zM553 288.53h1v8.64h-1zM555 288.53h1v8.64h-1zM564 288.53h2v8.64h-2zM567 288.53h4v8.64h-4zM592 288.53h1v8.64h-1zM624 288.53h2v8.64h-2zM513 297.18h2v8.64h-2zM524 297.18h1v8.64h-1zM529 297.18h2v8.64h-2zM543 297.18h2v8.64h-2zM588 297.18h1v8.64h-1zM608 297.18h2v8.64h-2zM477 305.82h1v8.64h-1zM513 305.82h2v8.64h-2zM628 305.82h1v8.64h-1zM487 314.46h1v8.64h-1zM491 314.46h3v8.64h-3zM516 314.46h1v8.64h-1zM529 314.46h1v8.64h-1zM539 314.46h2v8.64h-2zM556 314.46h2v8.64h-2zM564 314.46h2v8.64h-2zM567 314.46h2v8.64h-2zM599 314.46h1v8.64h-1zM623 314.46h1v8.64h-1zM627 314.46h1v8.64h-1zM562 323.10h2v8.64h-2zM484 331.75h1v8.64h-1zM524 331.75h3v8.64h-3zM529 331.75h1v8.64h-1zM546 331.75h2v8.64h-2zM556 331.75h2v8.64h-2zM562 331.75h2v8.64h-2zM592 331.75h1v8.64h-1zM613 331.75h1v8.64h-1zM626 331.75h1v8.64h-1zM619 340.39h1v8.64h-1zM519 349.03h1v8.64h-1zM588 349.03h1v8.64h-1zM529 357.67h1v8.64h-1zM558 357.67h2v8.64h-2zM584 357.67h1v8.64h-1zM588 357.67h1v8.64h-1zM615 357.67h2v8.64h-2zM631 357.67h1v8.64h-1zM611 366.32h2v8.64h-2zM631 366.32h1v8.64h-1zM567 374.96h2v8.64h-2zM591 374.96h1v8.64h-1zM624 374.96h2v8.64h-2z"/><path fill="#fcfccc" d="M499 37.90h2v8.64h-2zM521 37.90h2v8.64h-2zM569 37.90h2v8.64h-2zM545 46.54h1v8.64h-1zM503 55.19h1v8.64h-1zM554 55.19h1v8.64h-1zM578 55.19h2v8.64h-2zM583 55.19h1v8.64h-1zM438 63.83h1v8.64h-1zM479 63.83h1v8.64h-1zM528 63.83h1v8.64h-1zM445 81.11h1v8.64h-1zM470 81.11h1v8.64h-1zM564 81.11h2v8.64h-2zM491 89.76h1v8.64h-1zM505 89.76h1v8.64h-1zM519 89.76h1v8.64h-1zM573 89.76h1v8.64h-1zM627 89.76h1v8.64h-1zM562 124.33h2v8.64h-2zM488 132.97h2v8.64h-2zM613 132.97h1v8.64h-1zM607 158.90h1v8.64h-1zM425 176.18h1v8.64h-1zM618 210.75h1v8.64h-1zM593 236.68h2v8.64h-2zM605 236.68h1v8.64h-1zM427 262.61h1v8.64h-1zM459 279.89h1v8.64h-1zM452 297.18h1v8.64h-1zM533 305.82h1v8.64h-1zM545 305.82h1v8.64h-1zM453 314.46h1v8.64h-1zM479 323.10h1v8.64h-1zM527 323.10h1v8.64h-1zM465 357.67h1v8.64h-1z"/><path fill="#d2eaf0" d="M510 37.90h2v8.64h-2zM536 37.90h1v8.64h-1zM614 37.90h1v8.64h-1zM629 37.90h2v8.64h-2zM611 46.54h2v8.64h-2zM619 55.19h1v8.64h-1zM529 63.83h1v8.64h-1zM632 63.83h1v8.64h-1zM487 72.47h1v8.64h-1zM516 72.47h1v8.64h-1zM614 72.47h1v8.64h-1zM626 72.47h1v8.64h-1zM490 81.11h1v8.64h-1zM508 81.11h1v8.64h-1zM537 89.76h2v8.64h-2zM632 98.40h1v8.64h-1zM441 107.04h2v8.64h-2zM580 107.04h1v8.64h-1zM606 107.04h1v8.64h-1zM608 107.04h2v8.64h-2zM541 132.97h1v8.64h-1zM561 132.97h1v8.64h-1zM624 132.97h2v8.64h-2zM580 150.25h1v8.64h-1zM600 150.25h1v8.64h-1zM423 158.90h1v8.64h-1zM589 167.54h1v8.64h-1zM611 167.54h2v8.64h-2zM593 193.47h2v8.64h-2zM556 202.11h2v8.64h-2zM452 253.96h1v8.64h-1zM439 297.18h2v8.64h-2zM443 323.10h2v8.64h-2zM450 323.10h1v8.64h-1zM453 323.10h1v8.64h-1zM453 340.39h1v8.64h-1zM429 357.67h1v8.64h-1zM453 357.67h1v8.64h-1zM441 366.32h2v8.64h-2zM466 366.32h2v8.64h-2zM426 374.96h1v8.64h-1zM434 374.96h1v8.64h-1z"/><path fill="#d8eaf0" d="M512 37.90h1v8.64h-1zM581 46.54h1v8.64h-1zM561 55.19h1v8.64h-1zM599 55.19h1v8.64h-1zM629 55.19h2v8.64h-2zM482 63.83h2v8.64h-2zM512 63.83h1v8.64h-1zM541 63.83h1v8.64h-1zM606 63.83h1v8.64h-1zM529 72.47h1v8.64h-1zM578 72.47h2v8.64h-2zM582 72.47h1v8.64h-1zM606 72.47h1v8.64h-1zM521 81.11h2v8.64h-2zM552 81.11h1v8.64h-1zM571 98.40h2v8.64h-2zM482 107.04h2v8.64h-2zM537 107.04h2v8.64h-2zM567 107.04h2v8.64h-2zM582 107.04h1v8.64h-1zM601 107.04h1v8.64h-1zM617 107.04h1v8.64h-1zM577 115.68h1v8.64h-1zM598 115.68h2v8.64h-2zM602 115.68h1v8.64h-1zM608 115.68h2v8.64h-2zM603 124.33h2v8.64h-2zM504 132.97h1v8.64h-1zM595 141.61h1v8.64h-1zM590 150.25h1v8.64h-1zM634 158.90h1v8.64h-1zM536 193.47h1v8.64h-1zM558 193.47h2v8.64h-2zM606 193.47h1v8.64h-1zM587 202.11h1v8.64h-1zM613 202.11h1v8.64h-1zM600 210.75h1v8.64h-1zM627 210.75h1v8.64h-1zM428 253.96h1v8.64h-1zM581 253.96h1v8.64h-1zM466 297.18h2v8.64h-2zM433 305.82h1v8.64h-1zM465 305.82h1v8.64h-1zM428 323.10h1v8.64h-1zM457 323.10h1v8.64h-1zM463 323.10h2v8.64h-2zM466 331.75h2v8.64h-2zM426 340.39h2v8.64h-2zM459 366.32h1v8.64h-1zM479 366.32h1v8.64h-1z"/><path fill="#fccc84" d="M525 37.90h2v8.64h-2zM426 46.54h1v8.64h-1zM456 63.83h1v8.64h-1zM465 81.11h1v8.64h-1zM437 115.68h1v8.64h-1zM446 115.68h2v8.64h-2zM472 115.68h1v8.64h-1zM479 115.68h1v8.64h-1zM494 115.68h2v8.64h-2zM543 115.68h2v8.64h-2zM484 124.33h1v8.64h-1zM488 124.33h2v8.64h-2zM515 124.33h1v8.64h-1zM542 124.33h1v8.64h-1zM478 141.61h1v8.64h-1zM482 141.61h3v8.64h-3zM487 141.61h1v8.64h-1zM532 141.61h1v8.64h-1zM539 141.61h2v8.64h-2zM549 141.61h2v8.64h-2zM421 150.25h2v8.64h-2zM478 158.90h1v8.64h-1zM485 158.90h2v8.64h-2zM499 158.90h2v8.64h-2zM549 158.90h2v8.64h-2zM523 167.54h1v8.64h-1zM494 176.18h2v8.64h-2zM508 176.18h1v8.64h-1zM485 184.82h2v8.64h-2zM497 184.82h1v8.64h-1zM529 184.82h1v8.64h-1zM532 184.82h1v8.64h-1zM418 193.47h2v8.64h-2zM456 193.47h1v8.64h-1zM458 193.47h1v8.64h-1zM482 202.11h2v8.64h-2zM485 202.11h3v8.64h-3zM499 202.11h2v8.64h-2zM542 202.11h1v8.64h-1zM549 202.11h2v8.64h-2zM552 202.11h1v8.64h-1zM428 210.75h1v8.64h-1zM454 210.75h2v8.64h-2zM517 210.75h2v8.64h-2zM426 219.39h1v8.64h-1zM433 219.39h1v8.64h-1zM506 219.39h2v8.64h-2zM523 219.39h1v8.64h-1zM562 219.39h2v8.64h-2zM599 219.39h1v8.64h-1zM523 228.04h1v8.64h-1zM528 228.04h1v8.64h-1zM562 228.04h2v8.64h-2zM451 236.68h1v8.64h-1zM502 236.68h1v8.64h-1zM506 236.68h2v8.64h-2zM534 236.68h2v8.64h-2zM543 236.68h2v8.64h-2zM487 245.32h1v8.64h-1zM505 245.32h1v8.64h-1zM513 245.32h2v8.64h-2zM520 245.32h1v8.64h-1zM546 245.32h2v8.64h-2zM591 245.32h1v8.64h-1zM498 253.96h1v8.64h-1zM517 253.96h2v8.64h-2zM523 253.96h1v8.64h-1zM531 253.96h1v8.64h-1zM477 262.61h1v8.64h-1zM479 262.61h1v8.64h-1zM488 262.61h2v8.64h-2zM509 262.61h1v8.64h-1zM516 262.61h1v8.64h-1zM520 262.61h1v8.64h-1zM532 262.61h1v8.64h-1zM543 262.61h2v8.64h-2zM553 262.61h1v8.64h-1zM591 262.61h1v8.64h-1zM595 262.61h1v8.64h-1zM618 262.61h1v8.64h-1zM492 271.25h2v8.64h-2zM496 271.25h1v8.64h-1zM508 271.25h1v8.64h-1zM512 271.25h1v8.64h-1zM519 271.25h2v8.64h-2zM534 271.25h2v8.64h-2zM542 271.25h1v8.64h-1zM554 271.25h1v8.64h-1zM556 271.25h2v8.64h-2zM560 271.25h1v8.64h-1zM618 271.25h1v8.64h-1zM485 279.89h2v8.64h-2zM499 279.89h2v8.64h-2zM529 279.89h1v8.64h-1zM533 279.89h1v8.64h-1zM551 279.89h2v8.64h-2zM566 279.89h1v8.64h-1zM583 279.89h2v8.64h-2zM626 279.89h1v8.64h-1zM426 288.53h1v8.64h-1zM468 288.53h2v8.64h-2zM484 288.53h1v8.64h-1zM496 288.53h1v8.64h-1zM502 288.53h1v8.64h-1zM512 288.53h3v8.64h-3zM519 288.53h1v8.64h-1zM534 288.53h2v8.64h-2zM523 297.18h1v8.64h-1zM556 297.18h2v8.64h-2zM575 297.18h2v8.64h-2zM590 297.18h1v8.64h-1zM623 297.18h1v8.64h-1zM631 297.18h1v8.64h-1zM580 305.82h1v8.64h-1zM626 305.82h1v8.64h-1zM484 314.46h1v8.64h-1zM504 314.46h2v8.64h-2zM519 314.46h1v8.64h-1zM523 314.46h1v8.64h-1zM541 314.46h2v8.64h-2zM562 314.46h2v8.64h-2zM587 314.46h1v8.64h-1zM590 314.46h2v8.64h-2zM598 314.46h1v8.64h-1zM620 314.46h1v8.64h-1zM556 323.10h2v8.64h-2zM566 323.10h1v8.64h-1zM628 323.10h1v8.64h-1zM473 331.75h2v8.64h-2zM494 331.75h2v8.64h-2zM508 331.75h1v8.64h-1zM554 331.75h1v8.64h-1zM611 331.75h2v8.64h-2zM478 340.39h1v8.64h-1zM624 340.39h2v8.64h-2zM478 349.03h1v8.64h-1zM619 349.03h1v8.64h-1zM623 349.03h1v8.64h-1zM627 349.03h1v8.64h-1zM478 357.67h1v8.64h-1zM513 357.67h2v8.64h-2zM599 357.67h1v8.64h-1zM478 366.32h1v8.64h-1zM508 366.32h1v8.64h-1zM562 366.32h2v8.64h-2zM561 374.96h1v8.64h-1zM590 374.96h1v8.64h-1zM635 374.96h1v8.64h-1z"/><path fill="#c6def0" d="M527 37.90h1v8.64h-1zM592 63.83h1v8.64h-1zM633 63.83h1v8.64h-1zM551 72.47h1v8.64h-1zM516 81.11h1v8.64h-1zM546 81.11h2v8.64h-2zM628 81.11h1v8.64h-1zM441 89.76h2v8.64h-2zM545 89.76h1v8.64h-1zM584 98.40h1v8.64h-1zM599 124.33h1v8.64h-1zM619 124.33h1v8.64h-1zM600 132.97h1v8.64h-1zM587 141.61h1v8.64h-1zM597 167.54h1v8.64h-1zM613 176.18h1v8.64h-1zM611 184.82h2v8.64h-2zM555 202.11h1v8.64h-1zM597 202.11h1v8.64h-1zM629 202.11h2v8.64h-2zM611 210.75h2v8.64h-2zM463 297.18h2v8.64h-2zM429 323.10h1v8.64h-1zM429 340.39h1v8.64h-1zM448 366.32h2v8.64h-2zM453 366.32h1v8.64h-1z"/><path fill="#fce4a2" d="M530 37.90h1v8.64h-1zM441 46.54h2v8.64h-2zM475 46.54h2v8.64h-2zM519 46.54h1v8.64h-1zM534 46.54h2v8.64h-2zM492 55.19h2v8.64h-2zM515 55.19h1v8.64h-1zM473 63.83h2v8.64h-2zM494 63.83h2v8.64h-2zM543 63.83h2v8.64h-2zM564 63.83h2v8.64h-2zM580 63.83h1v8.64h-1zM470 72.47h1v8.64h-1zM473 72.47h2v8.64h-2zM587 81.11h1v8.64h-1zM438 89.76h1v8.64h-1zM452 89.76h1v8.64h-1zM472 89.76h1v8.64h-1zM494 89.76h2v8.64h-2zM587 89.76h1v8.64h-1zM622 89.76h1v8.64h-1zM492 107.04h2v8.64h-2zM475 115.68h3v8.64h-3zM501 115.68h1v8.64h-1zM510 115.68h2v8.64h-2zM519 115.68h2v8.64h-2zM505 124.33h1v8.64h-1zM509 124.33h1v8.64h-1zM520 124.33h1v8.64h-1zM545 124.33h1v8.64h-1zM421 132.97h2v8.64h-2zM629 132.97h2v8.64h-2zM491 141.61h1v8.64h-1zM516 141.61h1v8.64h-1zM531 141.61h1v8.64h-1zM487 150.25h1v8.64h-1zM494 150.25h2v8.64h-2zM525 150.25h2v8.64h-2zM539 150.25h2v8.64h-2zM542 150.25h1v8.64h-1zM548 150.25h1v8.64h-1zM601 150.25h1v8.64h-1zM629 150.25h2v8.64h-2zM498 158.90h1v8.64h-1zM534 158.90h2v8.64h-2zM408 167.54h1v8.64h-1zM413 167.54h1v8.64h-1zM416 167.54h1v8.64h-1zM424 167.54h2v8.64h-2zM498 167.54h1v8.64h-1zM503 167.54h1v8.64h-1zM530 167.54h1v8.64h-1zM539 167.54h2v8.64h-2zM423 176.18h1v8.64h-1zM488 176.18h2v8.64h-2zM491 176.18h1v8.64h-1zM496 176.18h1v8.64h-1zM498 176.18h1v8.64h-1zM503 176.18h1v8.64h-1zM533 176.18h1v8.64h-1zM551 176.18h1v8.64h-1zM479 184.82h1v8.64h-1zM491 184.82h1v8.64h-1zM541 184.82h1v8.64h-1zM410 193.47h2v8.64h-2zM413 193.47h1v8.64h-1zM424 193.47h1v8.64h-1zM496 193.47h1v8.64h-1zM498 193.47h1v8.64h-1zM552 193.47h1v8.64h-1zM417 202.11h1v8.64h-1zM502 202.11h1v8.64h-1zM512 202.11h3v8.64h-3zM523 202.11h1v8.64h-1zM525 202.11h3v8.64h-3zM452 210.75h1v8.64h-1zM470 210.75h1v8.64h-1zM446 219.39h2v8.64h-2zM458 219.39h1v8.64h-1zM471 219.39h1v8.64h-1zM532 219.39h1v8.64h-1zM553 219.39h1v8.64h-1zM560 219.39h1v8.64h-1zM564 219.39h2v8.64h-2zM578 219.39h2v8.64h-2zM592 219.39h1v8.64h-1zM601 219.39h2v8.64h-2zM613 219.39h1v8.64h-1zM431 228.04h2v8.64h-2zM545 228.04h1v8.64h-1zM555 228.04h1v8.64h-1zM564 228.04h3v8.64h-3zM587 228.04h1v8.64h-1zM605 228.04h1v8.64h-1zM633 228.04h1v8.64h-1zM635 228.04h1v8.64h-1zM430 236.68h1v8.64h-1zM454 236.68h2v8.64h-2zM524 236.68h1v8.64h-1zM533 236.68h1v8.64h-1zM546 236.68h2v8.64h-2zM558 236.68h2v8.64h-2zM566 236.68h1v8.64h-1zM578 236.68h2v8.64h-2zM624 236.68h2v8.64h-2zM433 245.32h2v8.64h-2zM446 245.32h2v8.64h-2zM463 245.32h2v8.64h-2zM466 245.32h2v8.64h-2zM471 245.32h1v8.64h-1zM536 245.32h1v8.64h-1zM566 245.32h1v8.64h-1zM575 245.32h2v8.64h-2zM581 245.32h1v8.64h-1zM584 245.32h1v8.64h-1zM590 245.32h1v8.64h-1zM602 245.32h1v8.64h-1zM490 253.96h1v8.64h-1zM501 253.96h1v8.64h-1zM506 253.96h2v8.64h-2zM431 262.61h2v8.64h-2zM578 262.61h3v8.64h-3zM582 262.61h1v8.64h-1zM603 262.61h2v8.64h-2zM607 262.61h1v8.64h-1zM619 262.61h1v8.64h-1zM635 262.61h1v8.64h-1zM428 271.25h1v8.64h-1zM460 271.25h3v8.64h-3zM501 271.25h1v8.64h-1zM506 271.25h2v8.64h-2zM573 271.25h1v8.64h-1zM592 271.25h1v8.64h-1zM601 271.25h1v8.64h-1zM607 271.25h1v8.64h-1zM619 271.25h2v8.64h-2zM428 279.89h1v8.64h-1zM454 279.89h3v8.64h-3zM555 279.89h1v8.64h-1zM585 279.89h2v8.64h-2zM596 279.89h1v8.64h-1zM600 279.89h1v8.64h-1zM607 279.89h1v8.64h-1zM454 288.53h2v8.64h-2zM536 288.53h1v8.64h-1zM593 288.53h2v8.64h-2zM603 288.53h2v8.64h-2zM619 288.53h1v8.64h-1zM633 288.53h1v8.64h-1zM482 297.18h2v8.64h-2zM498 297.18h1v8.64h-1zM503 297.18h1v8.64h-1zM510 297.18h3v8.64h-3zM528 297.18h1v8.64h-1zM531 297.18h1v8.64h-1zM533 297.18h1v8.64h-1zM485 305.82h2v8.64h-2zM491 305.82h3v8.64h-3zM542 305.82h1v8.64h-1zM552 305.82h1v8.64h-1zM437 314.46h1v8.64h-1zM502 314.46h1v8.64h-1zM478 323.10h1v8.64h-1zM494 323.10h2v8.64h-2zM508 323.10h1v8.64h-1zM623 323.10h1v8.64h-1zM480 331.75h2v8.64h-2zM487 331.75h1v8.64h-1zM499 331.75h2v8.64h-2zM506 331.75h2v8.64h-2zM528 331.75h1v8.64h-1zM531 331.75h1v8.64h-1zM534 331.75h2v8.64h-2zM545 331.75h1v8.64h-1zM575 331.75h2v8.64h-2zM484 340.39h3v8.64h-3zM496 340.39h1v8.64h-1zM509 340.39h1v8.64h-1zM516 340.39h1v8.64h-1zM520 340.39h1v8.64h-1zM531 340.39h2v8.64h-2zM548 340.39h1v8.64h-1zM475 349.03h2v8.64h-2zM485 349.03h2v8.64h-2zM494 349.03h3v8.64h-3zM498 349.03h1v8.64h-1zM512 349.03h1v8.64h-1zM521 349.03h2v8.64h-2zM545 349.03h3v8.64h-3zM487 357.67h1v8.64h-1zM494 357.67h3v8.64h-3zM499 357.67h3v8.64h-3zM512 357.67h1v8.64h-1zM524 357.67h1v8.64h-1zM527 357.67h1v8.64h-1zM531 357.67h1v8.64h-1zM539 357.67h2v8.64h-2zM519 366.32h1v8.64h-1zM525 366.32h2v8.64h-2zM529 366.32h1v8.64h-1zM531 366.32h1v8.64h-1zM549 366.32h2v8.64h-2zM554 366.32h1v8.64h-1zM491 374.96h1v8.64h-1zM515 374.96h1v8.64h-1zM523 374.96h4v8.64h-4zM529 374.96h1v8.64h-1zM541 374.96h1v8.64h-1z"/><path fill="#eaf6de" d="M537 37.90h2v8.64h-2zM567 55.19h2v8.64h-2zM590 72.47h1v8.64h-1zM595 72.47h1v8.64h-1zM502 89.76h1v8.64h-1zM517 89.76h2v8.64h-2zM551 98.40h1v8.64h-1zM611 236.68h2v8.64h-2zM615 236.68h2v8.64h-2zM619 236.68h1v8.64h-1zM452 323.10h1v8.64h-1zM465 323.10h1v8.64h-1zM456 374.96h1v8.64h-1z"/><path fill="#90bad8" d="M539 37.90h2v8.64h-2zM580 184.82h1v8.64h-1zM632 202.11h1v8.64h-1zM437 253.96h1v8.64h-1zM578 253.96h2v8.64h-2zM412 323.10h1v8.64h-1zM421 366.32h2v8.64h-2z"/><path fill="#a8cce4" d="M545 37.90h1v8.64h-1zM551 37.90h1v8.64h-1zM562 46.54h2v8.64h-2zM589 46.54h1v8.64h-1zM597 46.54h1v8.64h-1zM608 46.54h2v8.64h-2zM551 63.83h1v8.64h-1zM589 63.83h1v8.64h-1zM539 72.47h2v8.64h-2zM512 81.11h1v8.64h-1zM545 81.11h1v8.64h-1zM593 98.40h2v8.64h-2zM607 98.40h1v8.64h-1zM631 98.40h1v8.64h-1zM621 115.68h1v8.64h-1zM407 124.33h1v8.64h-1zM418 124.33h2v8.64h-2zM626 124.33h1v8.64h-1zM571 141.61h2v8.64h-2zM603 141.61h2v8.64h-2zM618 141.61h1v8.64h-1zM614 150.25h1v8.64h-1zM631 150.25h1v8.64h-1zM597 158.90h1v8.64h-1zM582 167.54h1v8.64h-1zM585 167.54h2v8.64h-2zM590 167.54h1v8.64h-1zM599 167.54h1v8.64h-1zM627 167.54h1v8.64h-1zM600 176.18h1v8.64h-1zM607 176.18h3v8.64h-3zM577 184.82h1v8.64h-1zM598 184.82h1v8.64h-1zM580 193.47h1v8.64h-1zM592 193.47h1v8.64h-1zM617 193.47h1v8.64h-1zM595 202.11h1v8.64h-1zM424 210.75h1v8.64h-1zM580 210.75h7v8.64h-7zM603 210.75h7v8.64h-7zM580 219.39h7v8.64h-7zM603 219.39h7v8.64h-7zM443 253.96h2v8.64h-2zM577 253.96h1v8.64h-1zM593 253.96h2v8.64h-2zM470 297.18h1v8.64h-1zM407 305.82h1v8.64h-1zM412 305.82h1v8.64h-1zM417 314.46h1v8.64h-1zM408 323.10h1v8.64h-1zM424 323.10h1v8.64h-1zM450 331.75h1v8.64h-1zM454 331.75h2v8.64h-2zM471 331.75h1v8.64h-1zM418 366.32h2v8.64h-2zM427 366.32h1v8.64h-1zM430 366.32h1v8.64h-1zM439 366.32h2v8.64h-2zM431 374.96h2v8.64h-2z"/><path fill="#bad8ea" d="M556 37.90h2v8.64h-2zM588 37.90h1v8.64h-1zM635 37.90h1v8.64h-1zM569 46.54h2v8.64h-2zM606 46.54h1v8.64h-1zM610 46.54h1v8.64h-1zM622 46.54h1v8.64h-1zM556 55.19h2v8.64h-2zM613 55.19h1v8.64h-1zM502 63.83h1v8.64h-1zM536 63.83h1v8.64h-1zM585 63.83h2v8.64h-2zM590 63.83h1v8.64h-1zM560 72.47h1v8.64h-1zM605 72.47h1v8.64h-1zM634 72.47h1v8.64h-1zM566 98.40h1v8.64h-1zM623 98.40h3v8.64h-3zM620 107.04h1v8.64h-1zM629 107.04h2v8.64h-2zM555 124.33h1v8.64h-1zM571 124.33h2v8.64h-2zM597 124.33h2v8.64h-2zM615 124.33h2v8.64h-2zM582 132.97h1v8.64h-1zM614 132.97h1v8.64h-1zM617 132.97h1v8.64h-1zM621 150.25h1v8.64h-1zM635 150.25h1v8.64h-1zM606 158.90h1v8.64h-1zM595 167.54h1v8.64h-1zM608 167.54h2v8.64h-2zM566 176.18h1v8.64h-1zM555 184.82h1v8.64h-1zM590 202.11h1v8.64h-1zM600 202.11h2v8.64h-2zM603 202.11h2v8.64h-2zM418 210.75h2v8.64h-2zM561 210.75h1v8.64h-1zM588 210.75h1v8.64h-1zM441 253.96h2v8.64h-2zM450 253.96h1v8.64h-1zM427 297.18h1v8.64h-1zM408 305.82h1v8.64h-1zM443 305.82h2v8.64h-2zM462 323.10h1v8.64h-1zM470 323.10h1v8.64h-1zM434 331.75h3v8.64h-3zM457 331.75h1v8.64h-1zM470 340.39h1v8.64h-1z"/><path fill="#d8f0f0" d="M558 37.90h2v8.64h-2zM610 37.90h1v8.64h-1zM627 37.90h1v8.64h-1zM555 46.54h1v8.64h-1zM484 63.83h1v8.64h-1zM503 63.83h1v8.64h-1zM587 63.83h1v8.64h-1zM597 63.83h1v8.64h-1zM602 63.83h1v8.64h-1zM509 72.47h1v8.64h-1zM562 72.47h2v8.64h-2zM577 81.11h1v8.64h-1zM629 81.11h2v8.64h-2zM628 89.76h1v8.64h-1zM580 98.40h1v8.64h-1zM582 98.40h1v8.64h-1zM562 107.04h2v8.64h-2zM585 107.04h2v8.64h-2zM595 107.04h1v8.64h-1zM607 107.04h1v8.64h-1zM560 115.68h1v8.64h-1zM580 115.68h1v8.64h-1zM588 115.68h1v8.64h-1zM556 124.33h2v8.64h-2zM577 124.33h1v8.64h-1zM531 132.97h1v8.64h-1zM603 132.97h2v8.64h-2zM607 132.97h1v8.64h-1zM632 141.61h1v8.64h-1zM611 150.25h2v8.64h-2zM619 150.25h1v8.64h-1zM603 158.90h2v8.64h-2zM555 167.54h1v8.64h-1zM611 176.18h2v8.64h-2zM555 193.47h1v8.64h-1zM560 193.47h1v8.64h-1zM575 193.47h2v8.64h-2zM585 193.47h3v8.64h-3zM610 193.47h1v8.64h-1zM596 202.11h1v8.64h-1zM631 210.75h1v8.64h-1zM561 236.68h1v8.64h-1zM458 253.96h1v8.64h-1zM470 253.96h1v8.64h-1zM575 253.96h2v8.64h-2zM445 297.18h1v8.64h-1zM458 297.18h1v8.64h-1zM472 297.18h1v8.64h-1zM453 305.82h1v8.64h-1zM490 305.82h1v8.64h-1zM434 323.10h1v8.64h-1zM428 331.75h1v8.64h-1zM451 331.75h1v8.64h-1zM451 340.39h1v8.64h-1zM458 340.39h1v8.64h-1zM466 349.03h2v8.64h-2zM443 357.67h2v8.64h-2zM413 366.32h1v8.64h-1zM471 366.32h1v8.64h-1z"/><path fill="#a2cce4" d="M561 37.90h1v8.64h-1zM613 37.90h1v8.64h-1zM577 46.54h1v8.64h-1zM593 46.54h2v8.64h-2zM626 46.54h1v8.64h-1zM631 72.47h1v8.64h-1zM605 98.40h1v8.64h-1zM608 98.40h5v8.64h-5zM614 124.33h1v8.64h-1zM617 141.61h1v8.64h-1zM610 167.54h1v8.64h-1zM615 167.54h2v8.64h-2zM592 176.18h1v8.64h-1zM556 184.82h2v8.64h-2zM614 184.82h1v8.64h-1zM603 193.47h2v8.64h-2zM425 210.75h1v8.64h-1zM598 253.96h1v8.64h-1zM622 253.96h1v8.64h-1zM423 323.10h1v8.64h-1zM427 331.75h1v8.64h-1zM429 331.75h1v8.64h-1zM453 331.75h1v8.64h-1zM450 349.03h2v8.64h-2zM470 357.67h1v8.64h-1zM458 366.32h1v8.64h-1z"/><path fill="#cce4f0" d="M571 37.90h2v8.64h-2zM577 37.90h1v8.64h-1zM628 37.90h1v8.64h-1zM633 37.90h1v8.64h-1zM574 46.54h1v8.64h-1zM590 46.54h1v8.64h-1zM595 46.54h1v8.64h-1zM614 55.19h1v8.64h-1zM441 63.83h2v8.64h-2zM510 63.83h2v8.64h-2zM600 63.83h1v8.64h-1zM482 72.47h2v8.64h-2zM536 72.47h1v8.64h-1zM549 72.47h2v8.64h-2zM577 72.47h1v8.64h-1zM585 72.47h2v8.64h-2zM598 72.47h1v8.64h-1zM629 72.47h2v8.64h-2zM441 81.11h2v8.64h-2zM502 81.11h1v8.64h-1zM506 81.11h2v8.64h-2zM517 81.11h2v8.64h-2zM614 81.11h1v8.64h-1zM539 89.76h2v8.64h-2zM562 98.40h2v8.64h-2zM619 98.40h1v8.64h-1zM629 98.40h2v8.64h-2zM633 98.40h1v8.64h-1zM556 107.04h2v8.64h-2zM575 107.04h2v8.64h-2zM584 107.04h1v8.64h-1zM619 107.04h1v8.64h-1zM561 115.68h1v8.64h-1zM575 115.68h2v8.64h-2zM596 115.68h1v8.64h-1zM412 124.33h1v8.64h-1zM566 124.33h1v8.64h-1zM578 124.33h2v8.64h-2zM590 124.33h1v8.64h-1zM610 124.33h1v8.64h-1zM589 132.97h1v8.64h-1zM597 132.97h1v8.64h-1zM608 132.97h2v8.64h-2zM618 132.97h1v8.64h-1zM577 141.61h1v8.64h-1zM577 150.25h1v8.64h-1zM582 150.25h1v8.64h-1zM588 150.25h1v8.64h-1zM600 158.90h1v8.64h-1zM621 158.90h1v8.64h-1zM623 158.90h1v8.64h-1zM556 167.54h2v8.64h-2zM584 167.54h1v8.64h-1zM587 176.18h1v8.64h-1zM595 176.18h1v8.64h-1zM599 176.18h1v8.64h-1zM610 176.18h1v8.64h-1zM617 176.18h1v8.64h-1zM566 184.82h1v8.64h-1zM584 184.82h1v8.64h-1zM597 184.82h1v8.64h-1zM610 184.82h1v8.64h-1zM617 184.82h1v8.64h-1zM611 193.47h2v8.64h-2zM615 193.47h2v8.64h-2zM582 202.11h1v8.64h-1zM615 219.39h2v8.64h-2zM425 253.96h1v8.64h-1zM427 253.96h1v8.64h-1zM435 253.96h2v8.64h-2zM456 253.96h1v8.64h-1zM472 279.89h1v8.64h-1zM433 297.18h1v8.64h-1zM435 297.18h2v8.64h-2zM443 297.18h2v8.64h-2zM454 297.18h2v8.64h-2zM426 305.82h2v8.64h-2zM429 305.82h1v8.64h-1zM462 305.82h1v8.64h-1zM439 323.10h2v8.64h-2zM456 331.75h1v8.64h-1zM468 331.75h2v8.64h-2zM426 349.03h1v8.64h-1zM431 349.03h2v8.64h-2zM416 366.32h1v8.64h-1zM434 366.32h1v8.64h-1zM438 366.32h1v8.64h-1z"/><path fill="#c0deea" d="M580 37.90h1v8.64h-1zM560 46.54h1v8.64h-1zM618 46.54h1v8.64h-1zM613 63.83h1v8.64h-1zM631 63.83h1v8.64h-1zM564 72.47h2v8.64h-2zM584 72.47h1v8.64h-1zM588 72.47h1v8.64h-1zM635 72.47h1v8.64h-1zM532 81.11h1v8.64h-1zM551 81.11h1v8.64h-1zM574 98.40h1v8.64h-1zM598 98.40h1v8.64h-1zM634 98.40h1v8.64h-1zM558 107.04h2v8.64h-2zM588 107.04h1v8.64h-1zM596 107.04h1v8.64h-1zM631 107.04h1v8.64h-1zM613 115.68h1v8.64h-1zM582 124.33h1v8.64h-1zM584 124.33h1v8.64h-1zM602 124.33h1v8.64h-1zM566 132.97h1v8.64h-1zM580 132.97h1v8.64h-1zM595 132.97h1v8.64h-1zM622 141.61h1v8.64h-1zM615 150.25h2v8.64h-2zM611 158.90h2v8.64h-2zM633 158.90h1v8.64h-1zM566 167.54h1v8.64h-1zM577 167.54h1v8.64h-1zM600 167.54h1v8.64h-1zM598 176.18h1v8.64h-1zM603 176.18h2v8.64h-2zM587 184.82h1v8.64h-1zM566 193.47h1v8.64h-1zM584 193.47h1v8.64h-1zM558 202.11h2v8.64h-2zM602 202.11h1v8.64h-1zM607 202.11h1v8.64h-1zM456 210.75h2v8.64h-2zM456 236.68h3v8.64h-3zM607 253.96h1v8.64h-1zM633 253.96h1v8.64h-1zM463 305.82h2v8.64h-2zM427 323.10h1v8.64h-1zM433 323.10h1v8.64h-1zM435 323.10h2v8.64h-2zM430 349.03h1v8.64h-1zM435 357.67h2v8.64h-2zM407 366.32h1v8.64h-1zM445 366.32h3v8.64h-3zM451 366.32h1v8.64h-1zM427 374.96h1v8.64h-1z"/><path fill="#b4d8e4" d="M592 37.90h1v8.64h-1zM603 46.54h2v8.64h-2zM629 46.54h2v8.64h-2zM537 81.11h2v8.64h-2zM567 98.40h2v8.64h-2zM592 98.40h1v8.64h-1zM539 107.04h2v8.64h-2zM613 107.04h1v8.64h-1zM615 132.97h2v8.64h-2zM603 167.54h2v8.64h-2zM580 176.18h1v8.64h-1zM561 184.82h1v8.64h-1zM600 184.82h1v8.64h-1zM602 184.82h1v8.64h-1zM608 193.47h2v8.64h-2zM435 305.82h2v8.64h-2zM463 357.67h2v8.64h-2zM437 366.32h1v8.64h-1z"/><path fill="#d8eaf6" d="M593 37.90h2v8.64h-2zM620 37.90h1v8.64h-1zM607 46.54h1v8.64h-1zM596 55.19h1v8.64h-1zM506 63.83h2v8.64h-2zM566 72.47h1v8.64h-1zM599 72.47h1v8.64h-1zM439 81.11h2v8.64h-2zM490 89.76h1v8.64h-1zM560 98.40h1v8.64h-1zM564 98.40h2v8.64h-2zM573 98.40h1v8.64h-1zM532 107.04h1v8.64h-1zM635 107.04h1v8.64h-1zM556 115.68h2v8.64h-2zM584 115.68h1v8.64h-1zM595 124.33h1v8.64h-1zM588 132.97h1v8.64h-1zM631 132.97h1v8.64h-1zM593 158.90h2v8.64h-2zM614 167.54h1v8.64h-1zM585 176.18h2v8.64h-2zM589 184.82h1v8.64h-1zM589 202.11h1v8.64h-1zM599 202.11h1v8.64h-1zM617 202.11h1v8.64h-1zM602 253.96h1v8.64h-1zM431 297.18h2v8.64h-2zM465 297.18h1v8.64h-1zM431 323.10h2v8.64h-2zM439 349.03h2v8.64h-2zM427 357.67h1v8.64h-1zM433 357.67h1v8.64h-1z"/><path fill="#c0d8ea" d="M596 37.90h1v8.64h-1zM592 72.47h1v8.64h-1zM558 98.40h2v8.64h-2zM589 150.25h1v8.64h-1zM577 202.11h1v8.64h-1zM413 210.75h1v8.64h-1zM459 331.75h1v8.64h-1zM408 366.32h1v8.64h-1zM412 366.32h1v8.64h-1z"/><path fill="#eaf6d8" d="M602 37.90h1v8.64h-1zM491 55.19h1v8.64h-1zM577 55.19h1v8.64h-1zM592 55.19h1v8.64h-1zM498 63.83h1v8.64h-1zM517 63.83h2v8.64h-2zM521 63.83h2v8.64h-2zM628 63.83h1v8.64h-1zM478 72.47h1v8.64h-1zM498 72.47h1v8.64h-1zM607 72.47h1v8.64h-1zM623 72.47h1v8.64h-1zM556 81.11h2v8.64h-2zM566 81.11h1v8.64h-1zM588 81.11h1v8.64h-1zM596 81.11h1v8.64h-1zM482 89.76h2v8.64h-2zM539 98.40h2v8.64h-2zM430 107.04h1v8.64h-1zM491 107.04h1v8.64h-1zM554 107.04h1v8.64h-1zM578 107.04h2v8.64h-2zM597 107.04h1v8.64h-1zM600 107.04h1v8.64h-1zM603 115.68h2v8.64h-2zM587 124.33h1v8.64h-1zM479 132.97h1v8.64h-1zM513 132.97h2v8.64h-2zM527 132.97h1v8.64h-1zM560 132.97h1v8.64h-1zM611 132.97h2v8.64h-2zM583 141.61h1v8.64h-1zM509 150.25h1v8.64h-1zM556 150.25h2v8.64h-2zM583 150.25h2v8.64h-2zM613 167.54h1v8.64h-1zM583 202.11h1v8.64h-1zM577 210.75h1v8.64h-1zM561 219.39h1v8.64h-1zM627 236.68h2v8.64h-2zM413 253.96h1v8.64h-1zM424 253.96h1v8.64h-1zM439 262.61h2v8.64h-2zM439 288.53h2v8.64h-2zM532 305.82h1v8.64h-1zM534 323.10h2v8.64h-2zM434 340.39h1v8.64h-1zM466 357.67h2v8.64h-2zM502 366.32h1v8.64h-1z"/><path fill="#aed2e4" d="M615 37.90h2v8.64h-2zM584 46.54h1v8.64h-1zM624 46.54h2v8.64h-2zM618 63.83h1v8.64h-1zM596 72.47h1v8.64h-1zM615 72.47h2v8.64h-2zM536 81.11h1v8.64h-1zM595 98.40h1v8.64h-1zM561 107.04h1v8.64h-1zM592 107.04h1v8.64h-1zM423 124.33h1v8.64h-1zM620 124.33h1v8.64h-1zM627 124.33h1v8.64h-1zM558 141.61h2v8.64h-2zM578 141.61h2v8.64h-2zM611 141.61h2v8.64h-2zM578 150.25h2v8.64h-2zM597 150.25h1v8.64h-1zM614 158.90h1v8.64h-1zM577 176.18h1v8.64h-1zM588 176.18h1v8.64h-1zM578 184.82h2v8.64h-2zM589 193.47h1v8.64h-1zM600 193.47h1v8.64h-1zM578 202.11h2v8.64h-2zM429 253.96h1v8.64h-1zM619 253.96h1v8.64h-1zM632 253.96h1v8.64h-1zM418 305.82h2v8.64h-2zM424 305.82h1v8.64h-1zM431 331.75h2v8.64h-2zM462 340.39h1v8.64h-1zM417 357.67h1v8.64h-1zM426 366.32h1v8.64h-1zM429 366.32h1v8.64h-1zM454 366.32h2v8.64h-2zM472 366.32h1v8.64h-1z"/><path fill="#96c0de" d="M617 37.90h1v8.64h-1zM582 46.54h1v8.64h-1zM585 46.54h2v8.64h-2zM588 46.54h1v8.64h-1zM628 55.19h1v8.64h-1zM545 72.47h1v8.64h-1zM561 72.47h1v8.64h-1zM599 98.40h1v8.64h-1zM628 107.04h1v8.64h-1zM574 132.97h1v8.64h-1zM581 132.97h1v8.64h-1zM600 141.61h1v8.64h-1zM610 141.61h1v8.64h-1zM564 150.25h2v8.64h-2zM581 150.25h1v8.64h-1zM613 150.25h1v8.64h-1zM633 150.25h1v8.64h-1zM578 167.54h2v8.64h-2zM592 167.54h1v8.64h-1zM561 176.18h1v8.64h-1zM564 176.18h2v8.64h-2zM615 184.82h2v8.64h-2zM622 184.82h1v8.64h-1zM581 193.47h1v8.64h-1zM590 193.47h1v8.64h-1zM599 193.47h1v8.64h-1zM614 193.47h1v8.64h-1zM629 193.47h2v8.64h-2zM614 202.11h1v8.64h-1zM597 253.96h1v8.64h-1zM610 253.96h1v8.64h-1zM614 253.96h1v8.64h-1zM421 305.82h3v8.64h-3zM470 305.82h1v8.64h-1zM417 331.75h1v8.64h-1zM472 331.75h1v8.64h-1zM443 349.03h2v8.64h-2zM446 349.03h2v8.64h-2zM424 366.32h1v8.64h-1z"/><path fill="#c6e4f0" d="M631 37.90h1v8.64h-1zM598 55.19h1v8.64h-1zM634 55.19h1v8.64h-1zM588 63.83h1v8.64h-1zM575 72.47h2v8.64h-2zM618 98.40h1v8.64h-1zM512 107.04h1v8.64h-1zM551 107.04h1v8.64h-1zM598 107.04h1v8.64h-1zM615 107.04h2v8.64h-2zM634 107.04h1v8.64h-1zM615 115.68h2v8.64h-2zM417 124.33h1v8.64h-1zM607 124.33h1v8.64h-1zM577 132.97h1v8.64h-1zM592 132.97h1v8.64h-1zM631 141.61h1v8.64h-1zM607 150.25h1v8.64h-1zM629 158.90h2v8.64h-2zM596 184.82h1v8.64h-1zM603 184.82h2v8.64h-2zM600 253.96h1v8.64h-1zM603 253.96h2v8.64h-2zM620 253.96h1v8.64h-1zM450 297.18h1v8.64h-1zM420 305.82h1v8.64h-1z"/><path fill="#a8d2e4" d="M634 37.90h1v8.64h-1zM620 72.47h1v8.64h-1zM417 374.96h1v8.64h-1z"/><path fill="#fcc07e" d="M428 46.54h5v8.64h-5zM435 46.54h3v8.64h-3zM446 46.54h2v8.64h-2zM453 46.54h1v8.64h-1zM457 46.54h2v8.64h-2zM471 46.54h2v8.64h-2zM437 55.19h1v8.64h-1zM456 55.19h1v8.64h-1zM437 63.83h1v8.64h-1zM466 63.83h2v8.64h-2zM583 63.83h1v8.64h-1zM437 72.47h1v8.64h-1zM466 72.47h2v8.64h-2zM466 81.11h2v8.64h-2zM457 89.76h2v8.64h-2zM445 98.40h1v8.64h-1zM453 98.40h1v8.64h-1zM453 115.68h1v8.64h-1zM457 115.68h1v8.64h-1zM492 115.68h2v8.64h-2zM487 124.33h1v8.64h-1zM524 124.33h1v8.64h-1zM539 124.33h2v8.64h-2zM554 124.33h1v8.64h-1zM423 141.61h1v8.64h-1zM494 141.61h2v8.64h-2zM524 141.61h1v8.64h-1zM542 141.61h1v8.64h-1zM554 141.61h1v8.64h-1zM418 150.25h2v8.64h-2zM456 158.90h1v8.64h-1zM487 158.90h1v8.64h-1zM494 158.90h2v8.64h-2zM508 158.90h1v8.64h-1zM515 158.90h1v8.64h-1zM527 158.90h1v8.64h-1zM539 158.90h2v8.64h-2zM478 167.54h1v8.64h-1zM484 167.54h1v8.64h-1zM542 167.54h1v8.64h-1zM487 176.18h1v8.64h-1zM515 176.18h1v8.64h-1zM549 176.18h2v8.64h-2zM554 176.18h1v8.64h-1zM425 184.82h1v8.64h-1zM473 184.82h2v8.64h-2zM478 184.82h1v8.64h-1zM482 184.82h2v8.64h-2zM492 184.82h2v8.64h-2zM503 184.82h1v8.64h-1zM506 184.82h2v8.64h-2zM524 184.82h1v8.64h-1zM530 184.82h1v8.64h-1zM434 193.47h1v8.64h-1zM457 193.47h1v8.64h-1zM532 193.47h1v8.64h-1zM554 193.47h1v8.64h-1zM494 202.11h2v8.64h-2zM545 210.75h1v8.64h-1zM490 219.39h1v8.64h-1zM513 219.39h2v8.64h-2zM520 219.39h1v8.64h-1zM539 219.39h2v8.64h-2zM501 228.04h1v8.64h-1zM517 228.04h2v8.64h-2zM549 228.04h2v8.64h-2zM485 236.68h2v8.64h-2zM491 236.68h1v8.64h-1zM503 236.68h1v8.64h-1zM517 236.68h2v8.64h-2zM523 236.68h1v8.64h-1zM525 236.68h2v8.64h-2zM595 236.68h1v8.64h-1zM473 245.32h2v8.64h-2zM492 245.32h2v8.64h-2zM498 245.32h1v8.64h-1zM521 245.32h2v8.64h-2zM530 245.32h1v8.64h-1zM534 245.32h2v8.64h-2zM549 245.32h3v8.64h-3zM475 253.96h2v8.64h-2zM524 253.96h1v8.64h-1zM541 253.96h1v8.64h-1zM549 253.96h3v8.64h-3zM569 253.96h2v8.64h-2zM487 262.61h1v8.64h-1zM492 262.61h2v8.64h-2zM497 262.61h1v8.64h-1zM504 262.61h1v8.64h-1zM508 262.61h1v8.64h-1zM513 262.61h2v8.64h-2zM525 262.61h2v8.64h-2zM537 262.61h2v8.64h-2zM548 262.61h1v8.64h-1zM551 262.61h1v8.64h-1zM554 262.61h1v8.64h-1zM569 262.61h2v8.64h-2zM509 271.25h1v8.64h-1zM548 271.25h1v8.64h-1zM562 271.25h2v8.64h-2zM578 271.25h2v8.64h-2zM591 271.25h1v8.64h-1zM599 271.25h1v8.64h-1zM491 279.89h1v8.64h-1zM496 279.89h1v8.64h-1zM498 279.89h1v8.64h-1zM512 279.89h1v8.64h-1zM519 279.89h1v8.64h-1zM525 279.89h2v8.64h-2zM531 279.89h1v8.64h-1zM537 279.89h4v8.64h-4zM543 279.89h2v8.64h-2zM553 279.89h1v8.64h-1zM558 279.89h2v8.64h-2zM575 279.89h2v8.64h-2zM499 288.53h2v8.64h-2zM531 288.53h1v8.64h-1zM539 288.53h2v8.64h-2zM543 288.53h2v8.64h-2zM551 288.53h1v8.64h-1zM554 288.53h1v8.64h-1zM575 288.53h2v8.64h-2zM601 288.53h1v8.64h-1zM621 288.53h1v8.64h-1zM564 297.18h2v8.64h-2zM635 297.18h1v8.64h-1zM478 305.82h1v8.64h-1zM564 305.82h2v8.64h-2zM608 305.82h2v8.64h-2zM611 305.82h2v8.64h-2zM631 305.82h2v8.64h-2zM477 314.46h1v8.64h-1zM508 314.46h1v8.64h-1zM513 314.46h3v8.64h-3zM577 314.46h1v8.64h-1zM583 314.46h1v8.64h-1zM592 314.46h1v8.64h-1zM601 314.46h1v8.64h-1zM610 314.46h1v8.64h-1zM615 314.46h2v8.64h-2zM633 314.46h1v8.64h-1zM564 323.10h2v8.64h-2zM575 323.10h2v8.64h-2zM633 323.10h1v8.64h-1zM635 323.10h1v8.64h-1zM567 331.75h2v8.64h-2zM580 331.75h1v8.64h-1zM591 331.75h1v8.64h-1zM606 331.75h1v8.64h-1zM558 340.39h2v8.64h-2zM564 340.39h2v8.64h-2zM567 340.39h2v8.64h-2zM601 340.39h1v8.64h-1zM603 340.39h2v8.64h-2zM618 340.39h1v8.64h-1zM621 340.39h1v8.64h-1zM628 340.39h3v8.64h-3zM632 340.39h1v8.64h-1zM477 349.03h1v8.64h-1zM575 349.03h2v8.64h-2zM591 349.03h1v8.64h-1zM605 349.03h1v8.64h-1zM574 357.67h1v8.64h-1zM590 357.67h1v8.64h-1zM603 357.67h2v8.64h-2zM617 357.67h1v8.64h-1zM621 357.67h1v8.64h-1zM556 366.32h2v8.64h-2zM564 366.32h2v8.64h-2zM575 366.32h2v8.64h-2zM588 366.32h1v8.64h-1zM598 366.32h1v8.64h-1zM621 366.32h1v8.64h-1zM626 366.32h1v8.64h-1zM577 374.96h1v8.64h-1zM600 374.96h1v8.64h-1zM610 374.96h1v8.64h-1zM629 374.96h2v8.64h-2z"/><path fill="#fca266" d="M433 46.54h1v8.64h-1zM458 72.47h1v8.64h-1zM456 107.04h1v8.64h-1zM458 107.04h1v8.64h-1zM457 132.97h1v8.64h-1zM457 141.61h2v8.64h-2zM471 141.61h1v8.64h-1zM434 150.25h1v8.64h-1zM452 167.54h1v8.64h-1zM471 184.82h1v8.64h-1zM430 193.47h1v8.64h-1zM446 193.47h2v8.64h-2zM465 193.47h1v8.64h-1zM441 202.11h2v8.64h-2zM462 202.11h1v8.64h-1zM513 210.75h2v8.64h-2zM520 210.75h1v8.64h-1zM553 210.75h1v8.64h-1zM502 228.04h1v8.64h-1zM512 228.04h1v8.64h-1zM551 236.68h1v8.64h-1zM482 262.61h2v8.64h-2zM494 262.61h2v8.64h-2zM567 297.18h2v8.64h-2zM597 305.82h1v8.64h-1zM614 305.82h1v8.64h-1zM582 314.46h1v8.64h-1zM618 323.10h1v8.64h-1zM629 323.10h2v8.64h-2zM569 331.75h2v8.64h-2zM574 349.03h1v8.64h-1zM620 349.03h1v8.64h-1zM583 357.67h1v8.64h-1zM602 366.32h1v8.64h-1zM560 374.96h1v8.64h-1z"/><path fill="#fcb472" d="M434 46.54h1v8.64h-1zM438 46.54h1v8.64h-1zM454 81.11h2v8.64h-2zM471 98.40h1v8.64h-1zM515 193.47h1v8.64h-1zM505 219.39h1v8.64h-1zM537 228.04h2v8.64h-2zM525 245.32h2v8.64h-2zM488 253.96h2v8.64h-2zM537 253.96h2v8.64h-2zM509 288.53h1v8.64h-1zM521 288.53h2v8.64h-2zM580 297.18h1v8.64h-1zM601 297.18h1v8.64h-1zM575 305.82h2v8.64h-2zM593 314.46h2v8.64h-2zM614 314.46h1v8.64h-1zM617 314.46h1v8.64h-1zM629 314.46h2v8.64h-2zM620 323.10h2v8.64h-2zM631 349.03h1v8.64h-1zM618 357.67h1v8.64h-1zM613 366.32h1v8.64h-1zM628 366.32h1v8.64h-1zM620 374.96h1v8.64h-1z"/><path fill="#fcd890" d="M445 46.54h1v8.64h-1zM492 46.54h2v8.64h-2zM562 63.83h2v8.64h-2zM567 63.83h2v8.64h-2zM452 72.47h1v8.64h-1zM465 107.04h1v8.64h-1zM426 115.68h1v8.64h-1zM431 115.68h2v8.64h-2zM458 115.68h1v8.64h-1zM485 115.68h2v8.64h-2zM497 115.68h1v8.64h-1zM533 115.68h1v8.64h-1zM490 124.33h1v8.64h-1zM498 124.33h1v8.64h-1zM506 124.33h2v8.64h-2zM537 124.33h2v8.64h-2zM420 132.97h1v8.64h-1zM416 141.61h1v8.64h-1zM488 141.61h2v8.64h-2zM497 141.61h1v8.64h-1zM505 141.61h1v8.64h-1zM519 141.61h1v8.64h-1zM527 141.61h1v8.64h-1zM529 141.61h1v8.64h-1zM548 141.61h1v8.64h-1zM408 150.25h1v8.64h-1zM410 150.25h2v8.64h-2zM575 150.25h2v8.64h-2zM434 158.90h1v8.64h-1zM488 158.90h2v8.64h-2zM497 158.90h1v8.64h-1zM506 158.90h2v8.64h-2zM520 158.90h1v8.64h-1zM523 158.90h1v8.64h-1zM529 158.90h2v8.64h-2zM532 158.90h1v8.64h-1zM552 158.90h2v8.64h-2zM412 167.54h1v8.64h-1zM423 167.54h1v8.64h-1zM508 167.54h1v8.64h-1zM513 167.54h2v8.64h-2zM529 167.54h1v8.64h-1zM532 167.54h2v8.64h-2zM551 167.54h1v8.64h-1zM569 167.54h2v8.64h-2zM417 176.18h1v8.64h-1zM532 176.18h1v8.64h-1zM408 184.82h1v8.64h-1zM413 184.82h3v8.64h-3zM424 184.82h1v8.64h-1zM477 184.82h1v8.64h-1zM480 184.82h2v8.64h-2zM490 184.82h1v8.64h-1zM505 184.82h1v8.64h-1zM528 184.82h1v8.64h-1zM537 184.82h2v8.64h-2zM549 184.82h4v8.64h-4zM407 193.47h1v8.64h-1zM416 193.47h1v8.64h-1zM462 193.47h1v8.64h-1zM506 193.47h2v8.64h-2zM527 193.47h1v8.64h-1zM529 193.47h1v8.64h-1zM542 193.47h1v8.64h-1zM478 202.11h1v8.64h-1zM506 202.11h2v8.64h-2zM530 202.11h1v8.64h-1zM533 202.11h1v8.64h-1zM551 202.11h1v8.64h-1zM536 210.75h1v8.64h-1zM564 210.75h2v8.64h-2zM431 219.39h2v8.64h-2zM451 219.39h1v8.64h-1zM453 219.39h1v8.64h-1zM460 219.39h2v8.64h-2zM543 219.39h2v8.64h-2zM552 219.39h1v8.64h-1zM569 219.39h2v8.64h-2zM575 219.39h2v8.64h-2zM626 219.39h1v8.64h-1zM454 228.04h2v8.64h-2zM468 228.04h2v8.64h-2zM527 228.04h1v8.64h-1zM529 228.04h1v8.64h-1zM531 228.04h1v8.64h-1zM543 228.04h2v8.64h-2zM595 228.04h1v8.64h-1zM531 236.68h1v8.64h-1zM556 236.68h2v8.64h-2zM560 236.68h1v8.64h-1zM564 236.68h2v8.64h-2zM583 236.68h1v8.64h-1zM621 236.68h1v8.64h-1zM478 245.32h2v8.64h-2zM490 245.32h1v8.64h-1zM501 245.32h1v8.64h-1zM517 245.32h2v8.64h-2zM531 245.32h1v8.64h-1zM541 245.32h1v8.64h-1zM562 245.32h4v8.64h-4zM571 245.32h2v8.64h-2zM613 245.32h1v8.64h-1zM624 245.32h2v8.64h-2zM632 245.32h1v8.64h-1zM485 253.96h2v8.64h-2zM533 253.96h1v8.64h-1zM583 253.96h1v8.64h-1zM478 262.61h1v8.64h-1zM485 262.61h2v8.64h-2zM490 262.61h1v8.64h-1zM524 262.61h1v8.64h-1zM527 262.61h1v8.64h-1zM546 262.61h2v8.64h-2zM571 262.61h2v8.64h-2zM581 262.61h1v8.64h-1zM585 262.61h2v8.64h-2zM589 262.61h1v8.64h-1zM477 271.25h1v8.64h-1zM479 271.25h1v8.64h-1zM484 271.25h1v8.64h-1zM488 271.25h2v8.64h-2zM499 271.25h2v8.64h-2zM505 271.25h1v8.64h-1zM516 271.25h1v8.64h-1zM521 271.25h2v8.64h-2zM530 271.25h1v8.64h-1zM532 271.25h2v8.64h-2zM541 271.25h1v8.64h-1zM566 271.25h1v8.64h-1zM583 271.25h1v8.64h-1zM590 271.25h1v8.64h-1zM596 271.25h2v8.64h-2zM600 271.25h1v8.64h-1zM617 271.25h1v8.64h-1zM621 271.25h1v8.64h-1zM629 271.25h2v8.64h-2zM475 279.89h3v8.64h-3zM484 279.89h1v8.64h-1zM497 279.89h1v8.64h-1zM505 279.89h1v8.64h-1zM527 279.89h2v8.64h-2zM605 279.89h1v8.64h-1zM629 279.89h2v8.64h-2zM433 288.53h1v8.64h-1zM478 288.53h2v8.64h-2zM485 288.53h2v8.64h-2zM497 288.53h1v8.64h-1zM552 288.53h1v8.64h-1zM560 288.53h1v8.64h-1zM589 288.53h1v8.64h-1zM635 288.53h1v8.64h-1zM473 297.18h2v8.64h-2zM497 297.18h1v8.64h-1zM499 297.18h2v8.64h-2zM515 297.18h1v8.64h-1zM517 297.18h2v8.64h-2zM536 297.18h1v8.64h-1zM539 297.18h3v8.64h-3zM591 297.18h1v8.64h-1zM611 297.18h2v8.64h-2zM619 297.18h1v8.64h-1zM484 305.82h1v8.64h-1zM561 305.82h1v8.64h-1zM598 305.82h1v8.64h-1zM627 305.82h1v8.64h-1zM494 314.46h4v8.64h-4zM499 314.46h3v8.64h-3zM510 314.46h2v8.64h-2zM536 314.46h1v8.64h-1zM546 314.46h3v8.64h-3zM552 314.46h3v8.64h-3zM574 314.46h1v8.64h-1zM580 314.46h1v8.64h-1zM596 314.46h1v8.64h-1zM603 314.46h2v8.64h-2zM608 314.46h2v8.64h-2zM619 314.46h1v8.64h-1zM621 314.46h1v8.64h-1zM628 314.46h1v8.64h-1zM484 323.10h1v8.64h-1zM588 323.10h1v8.64h-1zM598 323.10h1v8.64h-1zM491 331.75h1v8.64h-1zM504 331.75h1v8.64h-1zM519 331.75h1v8.64h-1zM530 331.75h1v8.64h-1zM552 331.75h1v8.64h-1zM564 331.75h2v8.64h-2zM590 331.75h1v8.64h-1zM623 331.75h1v8.64h-1zM628 331.75h1v8.64h-1zM473 340.39h2v8.64h-2zM477 340.39h1v8.64h-1zM491 340.39h1v8.64h-1zM525 340.39h2v8.64h-2zM529 340.39h1v8.64h-1zM591 340.39h1v8.64h-1zM491 349.03h1v8.64h-1zM504 349.03h1v8.64h-1zM508 349.03h1v8.64h-1zM529 349.03h1v8.64h-1zM491 357.67h3v8.64h-3zM523 357.67h1v8.64h-1zM542 357.67h1v8.64h-1zM556 357.67h2v8.64h-2zM561 357.67h1v8.64h-1zM575 357.67h2v8.64h-2zM623 357.67h1v8.64h-1zM513 366.32h2v8.64h-2zM558 374.96h2v8.64h-2zM574 374.96h1v8.64h-1zM588 374.96h1v8.64h-1zM598 374.96h1v8.64h-1zM611 374.96h2v8.64h-2zM619 374.96h1v8.64h-1z"/><path fill="#fcae72" d="M450 46.54h1v8.64h-1zM456 72.47h2v8.64h-2zM465 72.47h1v8.64h-1zM456 81.11h1v8.64h-1zM458 81.11h1v8.64h-1zM454 107.04h2v8.64h-2zM433 115.68h1v8.64h-1zM435 115.68h2v8.64h-2zM438 115.68h1v8.64h-1zM456 115.68h1v8.64h-1zM466 115.68h2v8.64h-2zM412 132.97h1v8.64h-1zM417 132.97h1v8.64h-1zM465 141.61h1v8.64h-1zM420 150.25h1v8.64h-1zM487 167.54h1v8.64h-1zM452 176.18h1v8.64h-1zM456 176.18h1v8.64h-1zM441 184.82h2v8.64h-2zM462 184.82h1v8.64h-1zM515 184.82h1v8.64h-1zM426 210.75h1v8.64h-1zM451 210.75h1v8.64h-1zM485 210.75h2v8.64h-2zM506 210.75h2v8.64h-2zM524 210.75h1v8.64h-1zM503 228.04h1v8.64h-1zM539 228.04h2v8.64h-2zM548 228.04h1v8.64h-1zM460 236.68h2v8.64h-2zM490 236.68h1v8.64h-1zM516 236.68h1v8.64h-1zM591 236.68h1v8.64h-1zM496 245.32h1v8.64h-1zM537 245.32h4v8.64h-4zM492 253.96h2v8.64h-2zM496 253.96h2v8.64h-2zM502 253.96h1v8.64h-1zM523 262.61h1v8.64h-1zM595 271.25h1v8.64h-1zM504 279.89h1v8.64h-1zM548 279.89h1v8.64h-1zM595 279.89h1v8.64h-1zM487 288.53h3v8.64h-3zM492 288.53h2v8.64h-2zM504 288.53h1v8.64h-1zM523 288.53h1v8.64h-1zM525 288.53h2v8.64h-2zM599 288.53h1v8.64h-1zM574 297.18h1v8.64h-1zM592 297.18h1v8.64h-1zM596 297.18h1v8.64h-1zM615 297.18h2v8.64h-2zM618 297.18h1v8.64h-1zM633 297.18h1v8.64h-1zM610 305.82h1v8.64h-1zM615 305.82h2v8.64h-2zM621 305.82h1v8.64h-1zM623 305.82h1v8.64h-1zM635 305.82h1v8.64h-1zM571 314.46h2v8.64h-2zM581 314.46h1v8.64h-1zM589 314.46h1v8.64h-1zM607 314.46h1v8.64h-1zM573 323.10h2v8.64h-2zM577 323.10h1v8.64h-1zM599 323.10h1v8.64h-1zM610 323.10h1v8.64h-1zM624 323.10h2v8.64h-2zM601 331.75h1v8.64h-1zM610 331.75h1v8.64h-1zM615 331.75h2v8.64h-2zM635 331.75h1v8.64h-1zM577 340.39h1v8.64h-1zM584 340.39h1v8.64h-1zM605 340.39h1v8.64h-1zM610 340.39h1v8.64h-1zM615 340.39h2v8.64h-2zM633 340.39h1v8.64h-1zM564 349.03h3v8.64h-3zM577 349.03h1v8.64h-1zM590 349.03h1v8.64h-1zM560 357.67h1v8.64h-1zM595 357.67h1v8.64h-1zM601 357.67h2v8.64h-2zM606 357.67h1v8.64h-1zM566 366.32h3v8.64h-3zM573 366.32h2v8.64h-2zM635 366.32h1v8.64h-1zM584 374.96h1v8.64h-1zM592 374.96h1v8.64h-1zM605 374.96h1v8.64h-1zM608 374.96h2v8.64h-2z"/><path fill="#fc9c66" d="M454 46.54h2v8.64h-2zM465 46.54h6v8.64h-6zM454 63.83h2v8.64h-2zM438 98.40h1v8.64h-1zM548 124.33h3v8.64h-3zM428 132.97h1v8.64h-1zM434 132.97h1v8.64h-1zM456 132.97h1v8.64h-1zM427 141.61h1v8.64h-1zM431 141.61h2v8.64h-2zM441 141.61h2v8.64h-2zM451 141.61h1v8.64h-1zM468 141.61h2v8.64h-2zM457 150.25h1v8.64h-1zM426 167.54h1v8.64h-1zM457 176.18h1v8.64h-1zM470 184.82h1v8.64h-1zM439 193.47h2v8.64h-2zM445 193.47h1v8.64h-1zM450 193.47h1v8.64h-1zM431 202.11h2v8.64h-2zM439 202.11h2v8.64h-2zM446 202.11h2v8.64h-2zM471 202.11h1v8.64h-1zM446 210.75h4v8.64h-4zM502 210.75h1v8.64h-1zM505 210.75h1v8.64h-1zM516 210.75h1v8.64h-1zM521 210.75h2v8.64h-2zM528 210.75h1v8.64h-1zM533 210.75h1v8.64h-1zM546 210.75h2v8.64h-2zM551 210.75h1v8.64h-1zM480 219.39h2v8.64h-2zM496 219.39h1v8.64h-1zM519 219.39h1v8.64h-1zM475 228.04h2v8.64h-2zM499 228.04h2v8.64h-2zM497 236.68h1v8.64h-1zM519 236.68h1v8.64h-1zM494 245.32h2v8.64h-2zM515 245.32h1v8.64h-1zM487 253.96h1v8.64h-1zM515 253.96h1v8.64h-1zM525 253.96h2v8.64h-2zM626 288.53h1v8.64h-1zM589 297.18h1v8.64h-1zM577 305.82h1v8.64h-1zM587 305.82h1v8.64h-1zM602 323.10h1v8.64h-1zM617 323.10h1v8.64h-1zM560 331.75h1v8.64h-1zM574 340.39h1v8.64h-1zM596 340.39h1v8.64h-1zM617 340.39h1v8.64h-1zM635 340.39h1v8.64h-1zM571 349.03h2v8.64h-2zM607 349.03h1v8.64h-1zM578 357.67h2v8.64h-2zM593 357.67h2v8.64h-2zM620 357.67h1v8.64h-1zM584 366.32h1v8.64h-1zM605 366.32h1v8.64h-1zM608 366.32h2v8.64h-2zM624 366.32h2v8.64h-2zM573 374.96h1v8.64h-1zM578 374.96h2v8.64h-2zM595 374.96h1v8.64h-1zM607 374.96h1v8.64h-1zM634 374.96h1v8.64h-1z"/><path fill="#f69660" d="M456 46.54h1v8.64h-1zM459 46.54h6v8.64h-6zM456 89.76h1v8.64h-1zM459 98.40h6v8.64h-6zM459 115.68h6v8.64h-6zM435 124.33h2v8.64h-2zM454 124.33h2v8.64h-2zM465 124.33h1v8.64h-1zM438 141.61h1v8.64h-1zM428 150.25h1v8.64h-1zM441 150.25h2v8.64h-2zM441 158.90h2v8.64h-2zM458 158.90h1v8.64h-1zM427 184.82h1v8.64h-1zM430 184.82h1v8.64h-1zM435 184.82h2v8.64h-2zM458 184.82h1v8.64h-1zM459 193.47h3v8.64h-3zM465 202.11h1v8.64h-1zM470 202.11h1v8.64h-1zM497 210.75h1v8.64h-1zM503 210.75h1v8.64h-1zM554 210.75h1v8.64h-1zM478 219.39h1v8.64h-1zM504 219.39h1v8.64h-1zM497 228.04h1v8.64h-1zM480 236.68h2v8.64h-2zM498 236.68h1v8.64h-1zM548 253.96h1v8.64h-1zM494 279.89h2v8.64h-2zM569 297.18h4v8.64h-4zM582 297.18h1v8.64h-1zM602 297.18h1v8.64h-1zM607 297.18h1v8.64h-1zM634 297.18h1v8.64h-1zM574 305.82h1v8.64h-1zM592 305.82h1v8.64h-1zM592 323.10h1v8.64h-1zM622 331.75h1v8.64h-1zM578 349.03h2v8.64h-2zM581 349.03h1v8.64h-1zM599 349.03h1v8.64h-1zM602 349.03h1v8.64h-1zM571 357.67h2v8.64h-2zM605 357.67h1v8.64h-1zM587 366.32h1v8.64h-1zM620 366.32h1v8.64h-1zM583 374.96h1v8.64h-1z"/><path fill="#fceaae" d="M484 46.54h1v8.64h-1zM521 46.54h2v8.64h-2zM555 55.19h1v8.64h-1zM443 72.47h2v8.64h-2zM480 72.47h2v8.64h-2zM581 89.76h1v8.64h-1zM529 115.68h2v8.64h-2zM532 115.68h1v8.64h-1zM492 132.97h2v8.64h-2zM477 150.25h1v8.64h-1zM475 158.90h2v8.64h-2zM531 158.90h1v8.64h-1zM416 176.18h1v8.64h-1zM475 176.18h2v8.64h-2zM509 184.82h1v8.64h-1zM501 193.47h1v8.64h-1zM513 193.47h2v8.64h-2zM418 202.11h2v8.64h-2zM620 210.75h1v8.64h-1zM629 210.75h2v8.64h-2zM465 219.39h1v8.64h-1zM574 219.39h1v8.64h-1zM597 219.39h1v8.64h-1zM632 219.39h1v8.64h-1zM427 228.04h1v8.64h-1zM629 228.04h2v8.64h-2zM459 245.32h1v8.64h-1zM470 245.32h1v8.64h-1zM578 245.32h2v8.64h-2zM623 245.32h1v8.64h-1zM443 271.25h2v8.64h-2zM598 279.89h1v8.64h-1zM453 288.53h1v8.64h-1zM470 288.53h1v8.64h-1zM524 305.82h1v8.64h-1zM468 314.46h2v8.64h-2zM502 331.75h1v8.64h-1zM553 340.39h1v8.64h-1zM532 357.67h1v8.64h-1zM553 366.32h1v8.64h-1zM443 374.96h2v8.64h-2zM499 374.96h2v8.64h-2zM505 374.96h1v8.64h-1z"/><path fill="#fcde9c" d="M494 46.54h2v8.64h-2zM525 46.54h2v8.64h-2zM560 63.83h1v8.64h-1zM577 63.83h1v8.64h-1zM555 81.11h1v8.64h-1zM498 115.68h1v8.64h-1zM517 115.68h2v8.64h-2zM479 124.33h1v8.64h-1zM501 124.33h1v8.64h-1zM534 124.33h2v8.64h-2zM605 124.33h1v8.64h-1zM416 132.97h1v8.64h-1zM410 141.61h2v8.64h-2zM480 141.61h2v8.64h-2zM521 141.61h2v8.64h-2zM492 150.25h2v8.64h-2zM418 167.54h2v8.64h-2zM499 167.54h2v8.64h-2zM418 176.18h2v8.64h-2zM524 176.18h1v8.64h-1zM569 184.82h2v8.64h-2zM456 219.39h1v8.64h-1zM501 219.39h1v8.64h-1zM578 228.04h2v8.64h-2zM428 236.68h1v8.64h-1zM471 236.68h1v8.64h-1zM426 245.32h1v8.64h-1zM491 245.32h1v8.64h-1zM545 245.32h1v8.64h-1zM585 245.32h2v8.64h-2zM466 262.61h2v8.64h-2zM506 262.61h2v8.64h-2zM517 279.89h2v8.64h-2zM578 288.53h2v8.64h-2zM492 331.75h2v8.64h-2zM561 331.75h1v8.64h-1zM524 349.03h1v8.64h-1zM530 349.03h1v8.64h-1zM485 357.67h2v8.64h-2zM515 357.67h1v8.64h-1zM549 357.67h2v8.64h-2zM627 374.96h1v8.64h-1z"/><path fill="#fcf0ba" d="M510 46.54h2v8.64h-2zM433 63.83h1v8.64h-1zM480 63.83h2v8.64h-2zM571 81.11h2v8.64h-2zM623 89.76h1v8.64h-1zM523 98.40h1v8.64h-1zM409 202.11h3v8.64h-3zM443 219.39h2v8.64h-2zM624 219.39h2v8.64h-2zM593 228.04h2v8.64h-2zM431 271.25h2v8.64h-2zM577 271.25h1v8.64h-1zM600 288.53h1v8.64h-1zM615 288.53h2v8.64h-2zM516 305.82h1v8.64h-1zM530 323.10h1v8.64h-1zM490 340.39h1v8.64h-1zM536 366.32h1v8.64h-1zM479 374.96h1v8.64h-1zM551 374.96h1v8.64h-1z"/><path fill="#729ccc" d="M556 46.54h2v8.64h-2zM567 132.97h2v8.64h-2zM574 193.47h1v8.64h-1zM416 331.75h1v8.64h-1zM453 349.03h1v8.64h-1z"/><path fill="#90c0d8" d="M558 46.54h2v8.64h-2zM564 46.54h2v8.64h-2zM632 46.54h1v8.64h-1zM539 63.83h2v8.64h-2zM596 98.40h1v8.64h-1zM567 124.33h2v8.64h-2zM578 132.97h2v8.64h-2zM621 132.97h1v8.64h-1zM599 141.61h1v8.64h-1zM626 141.61h1v8.64h-1zM627 158.90h1v8.64h-1zM581 167.54h1v8.64h-1zM571 176.18h2v8.64h-2zM599 184.82h1v8.64h-1zM613 184.82h1v8.64h-1zM628 184.82h1v8.64h-1zM631 184.82h1v8.64h-1zM564 193.47h2v8.64h-2zM621 193.47h1v8.64h-1zM632 193.47h1v8.64h-1zM580 202.11h1v8.64h-1zM608 202.11h2v8.64h-2zM439 253.96h2v8.64h-2zM472 253.96h1v8.64h-1zM623 253.96h1v8.64h-1zM420 314.46h1v8.64h-1zM470 366.32h1v8.64h-1zM429 374.96h1v8.64h-1zM433 374.96h1v8.64h-1z"/><path fill="#4872ae" d="M561 46.54h1v8.64h-1zM613 46.54h1v8.64h-1zM634 46.54h1v8.64h-1zM587 55.19h1v8.64h-1zM603 55.19h2v8.64h-2zM608 55.19h2v8.64h-2zM620 55.19h1v8.64h-1zM632 55.19h1v8.64h-1zM424 124.33h1v8.64h-1zM573 124.33h1v8.64h-1zM628 124.33h1v8.64h-1zM634 124.33h1v8.64h-1zM620 132.97h1v8.64h-1zM567 141.61h2v8.64h-2zM573 141.61h2v8.64h-2zM592 141.61h1v8.64h-1zM623 141.61h1v8.64h-1zM633 141.61h1v8.64h-1zM574 150.25h1v8.64h-1zM591 150.25h1v8.64h-1zM627 150.25h1v8.64h-1zM634 150.25h1v8.64h-1zM567 167.54h2v8.64h-2zM573 167.54h1v8.64h-1zM591 167.54h1v8.64h-1zM591 176.18h1v8.64h-1zM633 176.18h1v8.64h-1zM567 184.82h2v8.64h-2zM591 184.82h1v8.64h-1zM623 184.82h1v8.64h-1zM633 184.82h2v8.64h-2zM578 193.47h2v8.64h-2zM591 193.47h1v8.64h-1zM634 193.47h1v8.64h-1zM564 202.11h2v8.64h-2zM591 202.11h1v8.64h-1zM414 210.75h2v8.64h-2zM421 210.75h2v8.64h-2zM410 219.39h2v8.64h-2zM414 219.39h2v8.64h-2zM420 219.39h3v8.64h-3zM410 228.04h2v8.64h-2zM421 228.04h2v8.64h-2zM410 236.68h2v8.64h-2zM414 236.68h2v8.64h-2zM421 236.68h2v8.64h-2zM410 245.32h2v8.64h-2zM421 245.32h2v8.64h-2zM561 253.96h1v8.64h-1zM588 253.96h1v8.64h-1zM608 253.96h2v8.64h-2zM611 253.96h2v8.64h-2zM615 253.96h2v8.64h-2zM409 262.61h3v8.64h-3zM414 262.61h2v8.64h-2zM418 262.61h5v8.64h-5zM410 271.25h2v8.64h-2zM420 271.25h3v8.64h-3zM410 279.89h2v8.64h-2zM421 279.89h2v8.64h-2zM410 288.53h2v8.64h-2zM420 288.53h3v8.64h-3zM407 297.18h5v8.64h-5zM413 297.18h4v8.64h-4zM418 297.18h5v8.64h-5zM424 297.18h2v8.64h-2zM425 305.82h1v8.64h-1zM425 314.46h1v8.64h-1zM462 331.75h1v8.64h-1zM407 340.39h1v8.64h-1zM409 340.39h3v8.64h-3zM413 340.39h4v8.64h-4zM424 340.39h2v8.64h-2zM410 349.03h2v8.64h-2zM425 357.67h1v8.64h-1zM410 374.96h2v8.64h-2zM416 374.96h1v8.64h-1z"/><path fill="#7ea8d2" d="M566 46.54h1v8.64h-1zM622 115.68h1v8.64h-1zM425 158.90h1v8.64h-1zM628 176.18h1v8.64h-1zM619 202.11h1v8.64h-1zM631 202.11h1v8.64h-1zM633 202.11h1v8.64h-1z"/><path fill="#b4d8ea" d="M567 46.54h2v8.64h-2zM580 46.54h1v8.64h-1zM583 46.54h1v8.64h-1zM598 46.54h1v8.64h-1zM596 63.83h1v8.64h-1zM512 72.47h1v8.64h-1zM617 72.47h1v8.64h-1zM556 98.40h2v8.64h-2zM575 98.40h2v8.64h-2zM620 98.40h1v8.64h-1zM626 98.40h1v8.64h-1zM635 98.40h1v8.64h-1zM608 124.33h2v8.64h-2zM542 132.97h9v8.64h-9zM571 132.97h2v8.64h-2zM585 150.25h2v8.64h-2zM598 150.25h1v8.64h-1zM628 150.25h1v8.64h-1zM632 150.25h1v8.64h-1zM596 158.90h1v8.64h-1zM601 158.90h1v8.64h-1zM587 167.54h1v8.64h-1zM595 193.47h1v8.64h-1zM581 202.11h1v8.64h-1zM628 210.75h1v8.64h-1zM420 253.96h1v8.64h-1zM428 349.03h1v8.64h-1zM433 349.03h1v8.64h-1zM456 366.32h2v8.64h-2z"/><path fill="#b4d2e4" d="M571 46.54h2v8.64h-2zM601 46.54h2v8.64h-2zM617 55.19h1v8.64h-1zM556 72.47h2v8.64h-2zM619 72.47h1v8.64h-1zM632 72.47h1v8.64h-1zM539 81.11h2v8.64h-2zM577 98.40h1v8.64h-1zM580 124.33h1v8.64h-1zM564 132.97h2v8.64h-2zM598 132.97h1v8.64h-1zM599 158.90h1v8.64h-1zM602 158.90h1v8.64h-1zM635 158.90h1v8.64h-1zM619 167.54h1v8.64h-1zM622 167.54h1v8.64h-1zM582 184.82h1v8.64h-1zM607 184.82h1v8.64h-1zM561 202.11h1v8.64h-1zM566 202.11h1v8.64h-1zM598 202.11h1v8.64h-1zM418 253.96h2v8.64h-2zM567 253.96h2v8.64h-2zM462 297.18h1v8.64h-1zM420 323.10h1v8.64h-1zM439 331.75h2v8.64h-2zM463 340.39h2v8.64h-2zM435 349.03h2v8.64h-2zM450 366.32h1v8.64h-1zM465 366.32h1v8.64h-1z"/><path fill="#729cc6" d="M573 46.54h1v8.64h-1zM602 98.40h1v8.64h-1zM619 115.68h1v8.64h-1zM633 124.33h1v8.64h-1zM585 141.61h2v8.64h-2zM614 141.61h1v8.64h-1zM424 158.90h1v8.64h-1zM571 167.54h2v8.64h-2zM588 167.54h1v8.64h-1zM627 184.82h1v8.64h-1zM623 202.11h1v8.64h-1zM635 202.11h1v8.64h-1zM412 314.46h1v8.64h-1zM421 331.75h2v8.64h-2zM408 349.03h1v8.64h-1zM418 349.03h2v8.64h-2z"/><path fill="#7eaed2" d="M575 46.54h2v8.64h-2zM623 115.68h3v8.64h-3zM408 124.33h1v8.64h-1zM581 141.61h1v8.64h-1zM598 141.61h1v8.64h-1zM573 150.25h1v8.64h-1zM626 150.25h1v8.64h-1zM421 158.90h2v8.64h-2zM619 158.90h1v8.64h-1zM621 176.18h1v8.64h-1zM408 314.46h1v8.64h-1z"/><path fill="#9cc6de" d="M578 46.54h2v8.64h-2zM599 46.54h1v8.64h-1zM605 46.54h1v8.64h-1zM623 46.54h1v8.64h-1zM599 63.83h1v8.64h-1zM615 63.83h2v8.64h-2zM622 63.83h1v8.64h-1zM527 81.11h1v8.64h-1zM587 98.40h1v8.64h-1zM597 98.40h1v8.64h-1zM601 98.40h1v8.64h-1zM617 98.40h1v8.64h-1zM545 107.04h1v8.64h-1zM628 115.68h1v8.64h-1zM564 124.33h2v8.64h-2zM611 124.33h2v8.64h-2zM635 124.33h1v8.64h-1zM599 132.97h1v8.64h-1zM626 132.97h1v8.64h-1zM555 141.61h1v8.64h-1zM560 141.61h1v8.64h-1zM566 141.61h1v8.64h-1zM584 141.61h1v8.64h-1zM602 141.61h1v8.64h-1zM555 150.25h1v8.64h-1zM608 150.25h2v8.64h-2zM617 150.25h1v8.64h-1zM414 158.90h3v8.64h-3zM591 158.90h1v8.64h-1zM613 158.90h1v8.64h-1zM545 167.54h3v8.64h-3zM561 167.54h1v8.64h-1zM564 167.54h2v8.64h-2zM602 167.54h1v8.64h-1zM545 176.18h3v8.64h-3zM556 176.18h2v8.64h-2zM581 176.18h2v8.64h-2zM597 176.18h1v8.64h-1zM614 176.18h1v8.64h-1zM626 176.18h1v8.64h-1zM545 184.82h3v8.64h-3zM588 184.82h1v8.64h-1zM545 193.47h3v8.64h-3zM561 193.47h1v8.64h-1zM571 193.47h2v8.64h-2zM588 193.47h1v8.64h-1zM619 193.47h1v8.64h-1zM635 193.47h1v8.64h-1zM592 202.11h1v8.64h-1zM417 210.75h1v8.64h-1zM407 323.10h1v8.64h-1zM426 331.75h1v8.64h-1zM433 331.75h1v8.64h-1zM443 331.75h2v8.64h-2zM448 349.03h2v8.64h-2zM462 349.03h3v8.64h-3zM425 366.32h1v8.64h-1zM428 366.32h1v8.64h-1zM433 366.32h1v8.64h-1zM443 366.32h2v8.64h-2z"/><path fill="#84b4d2" d="M592 46.54h1v8.64h-1zM615 46.54h2v8.64h-2zM627 46.54h1v8.64h-1zM631 46.54h1v8.64h-1zM590 98.40h1v8.64h-1zM615 98.40h2v8.64h-2zM635 115.68h1v8.64h-1zM588 124.33h1v8.64h-1zM628 132.97h1v8.64h-1zM561 150.25h1v8.64h-1zM571 150.25h2v8.64h-2zM574 167.54h1v8.64h-1zM574 176.18h1v8.64h-1zM619 184.82h1v8.64h-1zM577 193.47h1v8.64h-1zM582 193.47h1v8.64h-1zM613 193.47h1v8.64h-1zM620 202.11h2v8.64h-2zM420 210.75h1v8.64h-1zM420 374.96h1v8.64h-1z"/><path fill="#78a8cc" d="M596 46.54h1v8.64h-1zM635 46.54h1v8.64h-1zM545 63.83h1v8.64h-1zM626 115.68h1v8.64h-1zM414 124.33h2v8.64h-2zM409 158.90h1v8.64h-1zM413 158.90h1v8.64h-1zM607 167.54h1v8.64h-1zM633 167.54h1v8.64h-1zM631 176.18h1v8.64h-1zM608 184.82h2v8.64h-2zM621 184.82h1v8.64h-1zM597 193.47h1v8.64h-1zM607 193.47h1v8.64h-1zM626 193.47h1v8.64h-1zM573 202.11h1v8.64h-1zM626 202.11h2v8.64h-2zM414 253.96h2v8.64h-2zM409 305.82h1v8.64h-1zM407 331.75h2v8.64h-2zM418 331.75h2v8.64h-2zM435 366.32h2v8.64h-2zM418 374.96h2v8.64h-2z"/><path fill="#78a2cc" d="M600 46.54h1v8.64h-1zM601 63.83h1v8.64h-1zM613 98.40h1v8.64h-1zM618 115.68h1v8.64h-1zM627 115.68h1v8.64h-1zM608 141.61h2v8.64h-2zM629 167.54h2v8.64h-2zM571 184.82h2v8.64h-2zM574 184.82h1v8.64h-1zM618 184.82h1v8.64h-1zM632 184.82h1v8.64h-1zM622 193.47h2v8.64h-2zM622 202.11h1v8.64h-1zM423 314.46h1v8.64h-1zM410 323.10h2v8.64h-2zM413 331.75h1v8.64h-1zM463 331.75h2v8.64h-2zM420 349.03h1v8.64h-1zM427 349.03h1v8.64h-1zM423 357.67h1v8.64h-1zM428 374.96h1v8.64h-1z"/><path fill="#5a84ba" d="M614 46.54h1v8.64h-1zM607 55.19h1v8.64h-1zM416 124.33h1v8.64h-1zM564 141.61h2v8.64h-2zM591 141.61h1v8.64h-1zM620 167.54h1v8.64h-1zM628 167.54h1v8.64h-1zM635 176.18h1v8.64h-1zM574 202.11h1v8.64h-1zM618 202.11h1v8.64h-1zM418 219.39h2v8.64h-2zM425 219.39h1v8.64h-1zM408 228.04h1v8.64h-1zM425 228.04h1v8.64h-1zM407 236.68h1v8.64h-1zM409 236.68h1v8.64h-1zM413 236.68h1v8.64h-1zM409 245.32h1v8.64h-1zM573 253.96h1v8.64h-1zM628 253.96h1v8.64h-1zM423 262.61h1v8.64h-1zM413 271.25h1v8.64h-1zM418 271.25h2v8.64h-2zM407 279.89h1v8.64h-1zM412 279.89h1v8.64h-1zM416 279.89h1v8.64h-1zM423 279.89h1v8.64h-1zM425 288.53h1v8.64h-1zM409 323.10h1v8.64h-1zM421 323.10h2v8.64h-2zM425 323.10h1v8.64h-1zM417 340.39h1v8.64h-1zM420 340.39h1v8.64h-1zM421 349.03h2v8.64h-2zM452 349.03h1v8.64h-1zM410 357.67h2v8.64h-2zM414 374.96h2v8.64h-2z"/><path fill="#6c96c6" d="M617 46.54h1v8.64h-1zM619 46.54h1v8.64h-1zM607 141.61h1v8.64h-1zM613 141.61h1v8.64h-1zM624 141.61h2v8.64h-2zM624 167.54h2v8.64h-2zM635 167.54h1v8.64h-1zM629 176.18h2v8.64h-2zM573 193.47h1v8.64h-1zM628 202.11h1v8.64h-1zM585 253.96h2v8.64h-2zM424 331.75h1v8.64h-1zM424 357.67h1v8.64h-1z"/><path fill="#608ac0" d="M620 46.54h1v8.64h-1zM634 115.68h1v8.64h-1zM592 150.25h1v8.64h-1zM634 176.18h1v8.64h-1zM626 184.82h1v8.64h-1zM567 202.11h2v8.64h-2zM412 219.39h1v8.64h-1zM423 219.39h1v8.64h-1zM407 228.04h1v8.64h-1zM416 228.04h1v8.64h-1zM418 228.04h2v8.64h-2zM423 228.04h1v8.64h-1zM416 236.68h1v8.64h-1zM418 245.32h2v8.64h-2zM631 253.96h1v8.64h-1zM408 271.25h1v8.64h-1zM424 271.25h1v8.64h-1zM424 279.89h1v8.64h-1zM407 288.53h1v8.64h-1zM413 288.53h1v8.64h-1zM413 305.82h1v8.64h-1zM424 314.46h1v8.64h-1z"/><path fill="#4878b4" d="M628 46.54h1v8.64h-1zM588 55.19h1v8.64h-1zM606 55.19h1v8.64h-1zM633 193.47h1v8.64h-1zM414 228.04h2v8.64h-2zM420 228.04h1v8.64h-1zM425 262.61h1v8.64h-1zM414 271.25h2v8.64h-2zM425 279.89h1v8.64h-1zM409 314.46h3v8.64h-3zM412 340.39h1v8.64h-1zM421 340.39h3v8.64h-3z"/><path fill="#7ea8cc" d="M633 46.54h1v8.64h-1zM585 98.40h2v8.64h-2zM409 124.33h1v8.64h-1zM421 124.33h2v8.64h-2zM589 141.61h1v8.64h-1zM628 158.90h1v8.64h-1zM624 176.18h2v8.64h-2zM632 176.18h1v8.64h-1zM564 184.82h2v8.64h-2zM580 253.96h1v8.64h-1zM418 323.10h2v8.64h-2zM420 331.75h1v8.64h-1zM423 349.03h1v8.64h-1zM420 357.67h1v8.64h-1zM430 374.96h1v8.64h-1z"/><path fill="#d8543c" d="M459 55.19h1v8.64h-1zM462 63.83h1v8.64h-1zM445 132.97h3v8.64h-3zM437 150.25h1v8.64h-1zM459 150.25h1v8.64h-1zM443 167.54h2v8.64h-2zM459 167.54h1v8.64h-1zM437 176.18h1v8.64h-1zM473 219.39h2v8.64h-2zM582 323.10h1v8.64h-1z"/><path fill="#e46c48" d="M462 55.19h1v8.64h-1zM459 63.83h1v8.64h-1zM462 81.11h1v8.64h-1zM462 89.76h1v8.64h-1zM445 124.33h1v8.64h-1zM452 124.33h1v8.64h-1zM443 132.97h2v8.64h-2zM470 132.97h1v8.64h-1zM435 150.25h2v8.64h-2zM443 150.25h2v8.64h-2zM468 150.25h2v8.64h-2zM445 158.90h1v8.64h-1zM448 158.90h2v8.64h-2zM452 158.90h1v8.64h-1zM437 184.82h1v8.64h-1zM463 184.82h2v8.64h-2zM472 184.82h1v8.64h-1zM438 202.11h1v8.64h-1zM508 210.75h1v8.64h-1zM539 210.75h2v8.64h-2zM542 210.75h1v8.64h-1zM548 210.75h1v8.64h-1zM473 228.04h2v8.64h-2zM487 228.04h1v8.64h-1zM515 236.68h1v8.64h-1zM581 305.82h1v8.64h-1zM584 305.82h1v8.64h-1zM589 305.82h1v8.64h-1zM567 323.10h2v8.64h-2zM581 323.10h1v8.64h-1zM607 323.10h1v8.64h-1zM614 323.10h1v8.64h-1zM585 340.39h2v8.64h-2zM560 349.03h1v8.64h-1zM622 374.96h1v8.64h-1z"/><path fill="#de6642" d="M463 55.19h2v8.64h-2zM463 89.76h2v8.64h-2zM417 150.25h1v8.64h-1zM431 150.25h2v8.64h-2zM462 158.90h1v8.64h-1zM438 167.54h1v8.64h-1zM451 167.54h1v8.64h-1zM441 176.18h2v8.64h-2zM463 193.47h2v8.64h-2zM525 210.75h2v8.64h-2zM494 236.68h2v8.64h-2zM585 323.10h2v8.64h-2zM607 366.32h1v8.64h-1z"/><path fill="#e4f0de" d="M551 55.19h1v8.64h-1zM634 63.83h1v8.64h-1zM441 72.47h2v8.64h-2zM451 81.11h1v8.64h-1zM513 81.11h2v8.64h-2zM450 107.04h1v8.64h-1zM501 107.04h1v8.64h-1zM527 107.04h1v8.64h-1zM585 132.97h2v8.64h-2zM439 271.25h2v8.64h-2zM450 305.82h1v8.64h-1zM463 314.46h2v8.64h-2zM445 340.39h1v8.64h-1z"/><path fill="#547eb4" d="M584 55.19h1v8.64h-1zM623 55.19h1v8.64h-1zM606 98.40h1v8.64h-1zM620 115.68h1v8.64h-1zM410 124.33h2v8.64h-2zM413 124.33h1v8.64h-1zM591 124.33h1v8.64h-1zM634 167.54h1v8.64h-1zM635 184.82h1v8.64h-1zM631 193.47h1v8.64h-1zM409 219.39h1v8.64h-1zM418 236.68h3v8.64h-3zM425 236.68h1v8.64h-1zM634 253.96h1v8.64h-1zM407 262.61h1v8.64h-1zM424 262.61h1v8.64h-1zM416 271.25h1v8.64h-1zM413 314.46h1v8.64h-1zM416 314.46h1v8.64h-1zM413 349.03h3v8.64h-3zM425 349.03h1v8.64h-1zM418 357.67h2v8.64h-2zM409 374.96h1v8.64h-1z"/><path fill="#4e78b4" d="M585 55.19h2v8.64h-2zM621 55.19h1v8.64h-1zM631 55.19h1v8.64h-1zM633 55.19h1v8.64h-1zM589 98.40h1v8.64h-1zM623 124.33h1v8.64h-1zM573 132.97h1v8.64h-1zM561 141.61h1v8.64h-1zM582 141.61h1v8.64h-1zM634 141.61h1v8.64h-1zM618 176.18h1v8.64h-1zM628 193.47h1v8.64h-1zM416 219.39h1v8.64h-1zM414 245.32h2v8.64h-2zM420 245.32h1v8.64h-1zM416 262.61h1v8.64h-1zM409 279.89h1v8.64h-1zM418 279.89h3v8.64h-3zM414 288.53h2v8.64h-2zM414 305.82h2v8.64h-2zM421 314.46h2v8.64h-2zM414 323.10h2v8.64h-2zM418 340.39h2v8.64h-2zM409 349.03h1v8.64h-1zM413 357.67h1v8.64h-1zM421 357.67h2v8.64h-2zM421 374.96h2v8.64h-2zM425 374.96h1v8.64h-1z"/><path fill="#6090c0" d="M605 55.19h1v8.64h-1zM622 55.19h1v8.64h-1zM425 124.33h1v8.64h-1zM635 141.61h1v8.64h-1zM598 167.54h1v8.64h-1zM620 193.47h1v8.64h-1zM624 193.47h2v8.64h-2zM412 228.04h1v8.64h-1zM408 236.68h1v8.64h-1zM417 236.68h1v8.64h-1zM424 236.68h1v8.64h-1zM407 245.32h1v8.64h-1zM417 245.32h1v8.64h-1zM423 245.32h1v8.64h-1zM412 271.25h1v8.64h-1zM417 271.25h1v8.64h-1zM417 279.89h1v8.64h-1zM408 288.53h1v8.64h-1zM416 288.53h1v8.64h-1zM407 314.46h1v8.64h-1zM413 323.10h1v8.64h-1zM410 331.75h2v8.64h-2zM408 340.39h1v8.64h-1zM414 366.32h2v8.64h-2zM412 374.96h1v8.64h-1zM424 374.96h1v8.64h-1z"/><path fill="#fcde90" d="M566 63.83h1v8.64h-1zM581 63.83h1v8.64h-1zM621 89.76h1v8.64h-1zM445 115.68h1v8.64h-1zM521 115.68h3v8.64h-3zM492 124.33h2v8.64h-2zM496 124.33h1v8.64h-1zM499 124.33h2v8.64h-2zM516 124.33h1v8.64h-1zM525 124.33h3v8.64h-3zM425 132.97h1v8.64h-1zM408 141.61h1v8.64h-1zM421 141.61h2v8.64h-2zM499 141.61h3v8.64h-3zM513 141.61h2v8.64h-2zM416 150.25h1v8.64h-1zM425 150.25h1v8.64h-1zM515 150.25h1v8.64h-1zM562 150.25h2v8.64h-2zM490 158.90h1v8.64h-1zM407 167.54h1v8.64h-1zM521 167.54h2v8.64h-2zM521 176.18h2v8.64h-2zM525 176.18h2v8.64h-2zM539 176.18h2v8.64h-2zM552 176.18h2v8.64h-2zM409 184.82h1v8.64h-1zM496 184.82h1v8.64h-1zM501 184.82h1v8.64h-1zM513 184.82h2v8.64h-2zM527 184.82h1v8.64h-1zM492 193.47h2v8.64h-2zM499 193.47h2v8.64h-2zM473 202.11h2v8.64h-2zM503 202.11h1v8.64h-1zM460 210.75h2v8.64h-2zM454 219.39h2v8.64h-2zM470 219.39h1v8.64h-1zM510 219.39h2v8.64h-2zM528 219.39h1v8.64h-1zM549 219.39h2v8.64h-2zM635 219.39h1v8.64h-1zM428 228.04h1v8.64h-1zM521 228.04h2v8.64h-2zM626 228.04h1v8.64h-1zM434 236.68h1v8.64h-1zM475 236.68h2v8.64h-2zM530 236.68h1v8.64h-1zM562 236.68h2v8.64h-2zM584 236.68h1v8.64h-1zM589 236.68h1v8.64h-1zM593 245.32h2v8.64h-2zM480 253.96h2v8.64h-2zM426 262.61h1v8.64h-1zM428 262.61h1v8.64h-1zM460 262.61h2v8.64h-2zM498 262.61h1v8.64h-1zM541 262.61h1v8.64h-1zM583 262.61h1v8.64h-1zM605 262.61h1v8.64h-1zM617 262.61h1v8.64h-1zM498 271.25h1v8.64h-1zM552 271.25h1v8.64h-1zM555 271.25h1v8.64h-1zM558 271.25h2v8.64h-2zM587 271.25h1v8.64h-1zM606 271.25h1v8.64h-1zM480 279.89h2v8.64h-2zM541 279.89h1v8.64h-1zM560 279.89h1v8.64h-1zM567 279.89h2v8.64h-2zM571 279.89h2v8.64h-2zM578 279.89h2v8.64h-2zM601 279.89h1v8.64h-1zM635 279.89h1v8.64h-1zM451 288.53h1v8.64h-1zM463 288.53h2v8.64h-2zM490 288.53h1v8.64h-1zM524 288.53h1v8.64h-1zM529 288.53h1v8.64h-1zM617 288.53h1v8.64h-1zM491 297.18h1v8.64h-1zM546 297.18h2v8.64h-2zM561 297.18h1v8.64h-1zM613 297.18h1v8.64h-1zM633 305.82h1v8.64h-1zM531 314.46h1v8.64h-1zM533 314.46h1v8.64h-1zM575 314.46h2v8.64h-2zM613 314.46h1v8.64h-1zM626 314.46h1v8.64h-1zM631 314.46h1v8.64h-1zM475 323.10h2v8.64h-2zM513 323.10h2v8.64h-2zM591 323.10h1v8.64h-1zM475 331.75h2v8.64h-2zM498 331.75h1v8.64h-1zM509 331.75h1v8.64h-1zM515 331.75h1v8.64h-1zM536 331.75h1v8.64h-1zM539 331.75h2v8.64h-2zM619 331.75h1v8.64h-1zM498 340.39h1v8.64h-1zM513 340.39h2v8.64h-2zM542 340.39h3v8.64h-3zM611 340.39h2v8.64h-2zM473 349.03h2v8.64h-2zM554 349.03h1v8.64h-1zM497 357.67h1v8.64h-1zM543 357.67h2v8.64h-2zM513 374.96h2v8.64h-2z"/><path fill="#a2ccde" d="M593 63.83h2v8.64h-2zM603 98.40h2v8.64h-2zM580 167.54h1v8.64h-1zM595 184.82h1v8.64h-1zM423 210.75h1v8.64h-1zM582 253.96h1v8.64h-1z"/><path fill="#c0def0" d="M626 63.83h1v8.64h-1zM633 72.47h1v8.64h-1zM482 81.11h2v8.64h-2zM499 81.11h2v8.64h-2zM583 98.40h1v8.64h-1z"/><path fill="#c63c2a" d="M463 72.47h2v8.64h-2zM429 132.97h1v8.64h-1zM429 150.25h1v8.64h-1zM466 150.25h2v8.64h-2zM437 158.90h1v8.64h-1zM463 158.90h2v8.64h-2zM448 167.54h2v8.64h-2zM463 167.54h2v8.64h-2zM472 176.18h1v8.64h-1zM429 202.11h1v8.64h-1zM453 202.11h1v8.64h-1zM482 210.75h2v8.64h-2zM494 210.75h2v8.64h-2z"/><path fill="#d2e4f0" d="M510 72.47h2v8.64h-2zM615 81.11h2v8.64h-2zM551 89.76h1v8.64h-1zM627 98.40h1v8.64h-1zM614 107.04h1v8.64h-1zM614 115.68h1v8.64h-1zM593 141.61h2v8.64h-2zM558 253.96h2v8.64h-2zM459 323.10h1v8.64h-1zM445 331.75h1v8.64h-1z"/><path fill="#8ab4d8" d="M613 72.47h1v8.64h-1zM551 115.68h4v8.64h-4zM629 115.68h2v8.64h-2zM592 124.33h1v8.64h-1zM624 124.33h2v8.64h-2zM590 141.61h1v8.64h-1zM605 158.90h1v8.64h-1zM610 158.90h1v8.64h-1zM618 167.54h1v8.64h-1zM590 176.18h1v8.64h-1zM523 193.47h2v8.64h-2zM618 193.47h1v8.64h-1zM416 210.75h1v8.64h-1zM417 349.03h1v8.64h-1zM429 349.03h1v8.64h-1zM409 366.32h1v8.64h-1zM408 374.96h1v8.64h-1z"/><path fill="#84aed2" d="M628 72.47h1v8.64h-1zM633 115.68h1v8.64h-1zM420 124.33h1v8.64h-1zM588 141.61h1v8.64h-1zM621 167.54h1v8.64h-1zM623 167.54h1v8.64h-1zM631 167.54h1v8.64h-1zM588 202.11h1v8.64h-1zM407 374.96h1v8.64h-1z"/><path fill="#e46648" d="M460 81.11h2v8.64h-2zM463 81.11h2v8.64h-2zM462 107.04h1v8.64h-1zM465 176.18h1v8.64h-1zM471 176.18h1v8.64h-1zM494 253.96h2v8.64h-2z"/><path fill="#d2543c" d="M460 89.76h2v8.64h-2zM459 124.33h1v8.64h-1zM460 167.54h2v8.64h-2zM468 167.54h2v8.64h-2zM492 219.39h2v8.64h-2zM482 228.04h2v8.64h-2zM560 305.82h1v8.64h-1zM622 323.10h1v8.64h-1zM582 366.32h1v8.64h-1z"/><path fill="#fca26c" d="M465 89.76h3v8.64h-3zM452 115.68h1v8.64h-1zM454 115.68h2v8.64h-2zM458 124.33h1v8.64h-1zM443 141.61h2v8.64h-2zM443 184.82h2v8.64h-2zM431 193.47h2v8.64h-2zM427 202.11h1v8.64h-1zM434 202.11h1v8.64h-1zM527 210.75h1v8.64h-1zM503 219.39h1v8.64h-1zM478 228.04h2v8.64h-2zM485 228.04h2v8.64h-2zM516 228.04h1v8.64h-1zM519 228.04h1v8.64h-1zM484 236.68h1v8.64h-1zM548 236.68h1v8.64h-1zM509 245.32h1v8.64h-1zM508 253.96h1v8.64h-1zM539 253.96h2v8.64h-2zM543 253.96h2v8.64h-2zM554 253.96h1v8.64h-1zM482 288.53h2v8.64h-2zM508 288.53h1v8.64h-1zM566 288.53h1v8.64h-1zM558 297.18h3v8.64h-3zM595 297.18h1v8.64h-1zM617 297.18h1v8.64h-1zM622 297.18h1v8.64h-1zM599 305.82h1v8.64h-1zM605 305.82h1v8.64h-1zM555 314.46h1v8.64h-1zM558 323.10h2v8.64h-2zM632 323.10h1v8.64h-1zM555 331.75h1v8.64h-1zM584 331.75h1v8.64h-1zM634 331.75h1v8.64h-1zM566 340.39h1v8.64h-1zM587 340.39h1v8.64h-1zM567 349.03h2v8.64h-2zM584 349.03h1v8.64h-1zM603 349.03h2v8.64h-2zM569 357.67h2v8.64h-2zM634 357.67h1v8.64h-1zM632 366.32h1v8.64h-1zM575 374.96h2v8.64h-2zM614 374.96h1v8.64h-1z"/><path fill="#f69060" d="M434 98.40h1v8.64h-1zM454 98.40h2v8.64h-2zM465 132.97h1v8.64h-1zM452 141.61h1v8.64h-1zM456 150.25h1v8.64h-1zM435 158.90h2v8.64h-2zM426 176.18h1v8.64h-1zM433 176.18h1v8.64h-1zM445 184.82h3v8.64h-3zM433 193.47h1v8.64h-1zM435 202.11h2v8.64h-2zM529 210.75h1v8.64h-1zM498 219.39h1v8.64h-1zM508 219.39h1v8.64h-1zM488 228.04h2v8.64h-2zM477 236.68h1v8.64h-1zM512 236.68h1v8.64h-1zM597 297.18h1v8.64h-1zM578 305.82h2v8.64h-2zM583 305.82h1v8.64h-1zM618 305.82h1v8.64h-1zM629 305.82h2v8.64h-2zM560 323.10h1v8.64h-1zM597 323.10h1v8.64h-1zM600 323.10h1v8.64h-1zM578 331.75h2v8.64h-2zM595 340.39h1v8.64h-1zM587 349.03h1v8.64h-1zM606 349.03h1v8.64h-1zM629 349.03h2v8.64h-2zM582 357.67h1v8.64h-1zM607 357.67h1v8.64h-1zM596 366.32h1v8.64h-1zM600 366.32h1v8.64h-1zM569 374.96h4v8.64h-4zM581 374.96h1v8.64h-1z"/><path fill="#84b4d8" d="M561 98.40h1v8.64h-1zM617 115.68h1v8.64h-1zM621 124.33h1v8.64h-1zM623 132.97h1v8.64h-1zM627 132.97h1v8.64h-1zM556 141.61h2v8.64h-2zM410 253.96h2v8.64h-2zM627 253.96h1v8.64h-1zM445 349.03h1v8.64h-1zM458 349.03h1v8.64h-1zM463 366.32h2v8.64h-2zM423 374.96h1v8.64h-1zM435 374.96h2v8.64h-2z"/><path fill="#6690c0" d="M588 98.40h1v8.64h-1zM600 98.40h1v8.64h-1zM627 141.61h1v8.64h-1zM567 150.25h2v8.64h-2zM624 184.82h2v8.64h-2zM624 202.11h2v8.64h-2zM417 219.39h1v8.64h-1zM423 236.68h1v8.64h-1zM423 271.25h1v8.64h-1zM408 279.89h1v8.64h-1zM409 288.53h1v8.64h-1zM412 288.53h1v8.64h-1zM424 288.53h1v8.64h-1zM470 331.75h1v8.64h-1zM407 349.03h1v8.64h-1zM457 349.03h1v8.64h-1zM459 349.03h1v8.64h-1zM407 357.67h2v8.64h-2zM412 357.67h1v8.64h-1z"/><path fill="#90c0de" d="M591 98.40h1v8.64h-1zM421 253.96h2v8.64h-2zM431 366.32h2v8.64h-2z"/><path fill="#6c9cc6" d="M614 98.40h1v8.64h-1zM631 115.68h1v8.64h-1zM634 132.97h1v8.64h-1zM580 141.61h1v8.64h-1zM620 150.25h1v8.64h-1zM567 176.18h2v8.64h-2zM627 176.18h1v8.64h-1zM581 184.82h1v8.64h-1zM629 184.82h2v8.64h-2zM627 193.47h1v8.64h-1zM470 314.46h3v8.64h-3zM414 331.75h2v8.64h-2zM456 357.67h7v8.64h-7zM462 366.32h1v8.64h-1z"/><path fill="#8abad8" d="M628 98.40h1v8.64h-1zM574 124.33h1v8.64h-1zM581 124.33h1v8.64h-1zM626 167.54h1v8.64h-1zM619 176.18h1v8.64h-1zM567 193.47h2v8.64h-2zM602 193.47h1v8.64h-1zM416 323.10h1v8.64h-1z"/><path fill="#de6648" d="M463 107.04h2v8.64h-2zM460 132.97h2v8.64h-2zM431 176.18h2v8.64h-2zM459 202.11h1v8.64h-1zM482 219.39h2v8.64h-2zM499 236.68h2v8.64h-2z"/><path fill="#fce4a8" d="M491 115.68h1v8.64h-1z"/><path fill="#5484ba" d="M632 115.68h1v8.64h-1zM591 132.97h1v8.64h-1zM628 141.61h1v8.64h-1zM622 176.18h1v8.64h-1zM592 184.82h1v8.64h-1zM620 184.82h1v8.64h-1zM634 202.11h1v8.64h-1zM413 228.04h1v8.64h-1zM413 262.61h1v8.64h-1zM407 271.25h1v8.64h-1zM409 271.25h1v8.64h-1zM423 297.18h1v8.64h-1zM414 314.46h2v8.64h-2zM416 349.03h1v8.64h-1zM424 349.03h1v8.64h-1zM410 366.32h2v8.64h-2zM413 374.96h1v8.64h-1z"/><path fill="#f68a5a" d="M427 124.33h1v8.64h-1zM458 132.97h1v8.64h-1zM460 141.61h2v8.64h-2zM427 150.25h1v8.64h-1zM430 158.90h1v8.64h-1zM451 158.90h1v8.64h-1zM458 167.54h1v8.64h-1zM462 167.54h1v8.64h-1zM465 167.54h1v8.64h-1zM471 167.54h1v8.64h-1zM430 176.18h1v8.64h-1zM454 176.18h2v8.64h-2zM470 176.18h1v8.64h-1zM431 184.82h2v8.64h-2zM452 184.82h1v8.64h-1zM437 193.47h1v8.64h-1zM450 202.11h1v8.64h-1zM484 210.75h1v8.64h-1zM504 210.75h1v8.64h-1zM487 219.39h3v8.64h-3zM515 219.39h1v8.64h-1zM480 228.04h2v8.64h-2zM496 228.04h1v8.64h-1zM498 228.04h1v8.64h-1zM555 305.82h1v8.64h-1zM597 331.75h1v8.64h-1zM617 331.75h1v8.64h-1zM569 340.39h5v8.64h-5zM600 340.39h1v8.64h-1zM596 349.03h1v8.64h-1zM622 349.03h1v8.64h-1zM585 357.67h2v8.64h-2zM597 357.67h1v8.64h-1zM555 366.32h1v8.64h-1zM595 366.32h1v8.64h-1zM603 366.32h2v8.64h-2zM614 366.32h1v8.64h-1zM634 366.32h1v8.64h-1zM602 374.96h1v8.64h-1z"/><path fill="#fc9c60" d="M428 124.33h1v8.64h-1zM453 141.61h1v8.64h-1zM470 167.54h1v8.64h-1zM428 176.18h1v8.64h-1zM434 176.18h1v8.64h-1zM417 184.82h1v8.64h-1zM439 184.82h2v8.64h-2zM454 184.82h2v8.64h-2zM468 193.47h2v8.64h-2zM478 210.75h1v8.64h-1zM480 210.75h2v8.64h-2zM484 219.39h1v8.64h-1zM487 236.68h1v8.64h-1zM509 236.68h1v8.64h-1zM513 236.68h2v8.64h-2zM504 253.96h1v8.64h-1zM520 253.96h1v8.64h-1zM585 297.18h2v8.64h-2zM607 305.82h1v8.64h-1zM555 323.10h1v8.64h-1zM607 331.75h1v8.64h-1zM618 349.03h1v8.64h-1zM621 349.03h1v8.64h-1zM555 357.67h1v8.64h-1zM590 366.32h1v8.64h-1zM555 374.96h1v8.64h-1z"/><path fill="#ea784e" d="M429 124.33h1v8.64h-1zM443 124.33h2v8.64h-2zM439 132.97h2v8.64h-2zM429 141.61h1v8.64h-1zM448 141.61h2v8.64h-2zM472 141.61h1v8.64h-1zM430 150.25h1v8.64h-1zM439 150.25h2v8.64h-2zM454 150.25h2v8.64h-2zM470 150.25h1v8.64h-1zM446 158.90h2v8.64h-2zM450 158.90h1v8.64h-1zM470 158.90h1v8.64h-1zM431 167.54h2v8.64h-2zM435 167.54h2v8.64h-2zM445 167.54h1v8.64h-1zM454 167.54h2v8.64h-2zM427 176.18h1v8.64h-1zM446 176.18h2v8.64h-2zM466 193.47h2v8.64h-2zM468 202.11h2v8.64h-2zM498 210.75h3v8.64h-3zM537 210.75h2v8.64h-2zM509 219.39h1v8.64h-1zM492 228.04h2v8.64h-2zM515 228.04h1v8.64h-1zM492 236.68h2v8.64h-2zM482 253.96h2v8.64h-2zM530 253.96h1v8.64h-1zM585 305.82h2v8.64h-2zM596 305.82h1v8.64h-1zM602 305.82h1v8.64h-1zM571 323.10h2v8.64h-2zM589 323.10h1v8.64h-1zM634 323.10h1v8.64h-1zM571 331.75h2v8.64h-2zM597 340.39h1v8.64h-1zM582 349.03h1v8.64h-1zM583 366.32h1v8.64h-1zM582 374.96h1v8.64h-1zM597 374.96h1v8.64h-1z"/><path fill="#f08454" d="M430 124.33h1v8.64h-1zM434 124.33h1v8.64h-1zM439 124.33h2v8.64h-2zM446 124.33h2v8.64h-2zM450 124.33h2v8.64h-2zM427 132.97h1v8.64h-1zM462 132.97h1v8.64h-1zM437 141.61h1v8.64h-1zM450 141.61h1v8.64h-1zM459 141.61h1v8.64h-1zM466 141.61h2v8.64h-2zM426 150.25h1v8.64h-1zM438 150.25h1v8.64h-1zM460 150.25h3v8.64h-3zM427 158.90h1v8.64h-1zM438 158.90h1v8.64h-1zM454 158.90h2v8.64h-2zM427 167.54h2v8.64h-2zM517 167.54h3v8.64h-3zM460 176.18h2v8.64h-2zM517 176.18h3v8.64h-3zM460 184.82h2v8.64h-2zM468 184.82h2v8.64h-2zM517 184.82h3v8.64h-3zM429 193.47h1v8.64h-1zM453 193.47h1v8.64h-1zM517 193.47h3v8.64h-3zM454 202.11h2v8.64h-2zM517 202.11h3v8.64h-3zM475 210.75h2v8.64h-2zM490 210.75h2v8.64h-2zM530 210.75h2v8.64h-2zM549 210.75h2v8.64h-2zM499 219.39h2v8.64h-2zM441 228.04h4v8.64h-4zM504 228.04h1v8.64h-1zM509 228.04h1v8.64h-1zM473 236.68h2v8.64h-2zM509 253.96h1v8.64h-1zM521 253.96h2v8.64h-2zM581 297.18h1v8.64h-1zM569 305.82h2v8.64h-2zM600 305.82h1v8.64h-1zM606 305.82h1v8.64h-1zM617 305.82h1v8.64h-1zM634 305.82h1v8.64h-1zM578 323.10h2v8.64h-2zM583 323.10h1v8.64h-1zM587 323.10h1v8.64h-1zM601 323.10h1v8.64h-1zM605 323.10h1v8.64h-1zM602 340.39h1v8.64h-1zM614 340.39h1v8.64h-1zM593 349.03h2v8.64h-2zM581 357.67h1v8.64h-1zM581 366.32h1v8.64h-1zM617 366.32h1v8.64h-1zM622 366.32h1v8.64h-1z"/><path fill="#f08a54" d="M431 124.33h2v8.64h-2zM457 167.54h1v8.64h-1zM460 202.11h2v8.64h-2zM519 210.75h1v8.64h-1zM504 236.68h1v8.64h-1z"/><path fill="#f6905a" d="M433 124.33h1v8.64h-1zM462 124.33h1v8.64h-1zM470 124.33h2v8.64h-2zM446 141.61h2v8.64h-2zM458 150.25h1v8.64h-1zM431 158.90h2v8.64h-2zM433 167.54h1v8.64h-1zM459 176.18h1v8.64h-1zM438 184.82h1v8.64h-1zM451 184.82h1v8.64h-1zM459 184.82h1v8.64h-1zM443 193.47h2v8.64h-2zM472 193.47h1v8.64h-1zM430 202.11h1v8.64h-1zM458 202.11h1v8.64h-1zM543 210.75h2v8.64h-2zM479 219.39h1v8.64h-1zM508 228.04h1v8.64h-1zM479 236.68h1v8.64h-1zM488 236.68h2v8.64h-2zM496 236.68h1v8.64h-1zM542 253.96h1v8.64h-1zM494 288.53h2v8.64h-2zM593 297.18h2v8.64h-2zM573 305.82h1v8.64h-1zM585 314.46h2v8.64h-2zM595 323.10h1v8.64h-1zM581 331.75h2v8.64h-2zM593 331.75h2v8.64h-2zM589 349.03h1v8.64h-1zM592 349.03h1v8.64h-1zM600 349.03h1v8.64h-1zM617 349.03h1v8.64h-1zM614 357.67h1v8.64h-1zM569 366.32h4v8.64h-4zM592 366.32h1v8.64h-1zM606 366.32h1v8.64h-1zM615 366.32h2v8.64h-2zM589 374.96h1v8.64h-1zM593 374.96h2v8.64h-2z"/><path fill="#f07e54" d="M438 124.33h1v8.64h-1zM460 124.33h2v8.64h-2zM431 132.97h3v8.64h-3zM445 141.61h1v8.64h-1zM465 150.25h1v8.64h-1zM439 158.90h2v8.64h-2zM471 158.90h1v8.64h-1zM435 176.18h2v8.64h-2zM458 176.18h1v8.64h-1zM479 210.75h1v8.64h-1zM523 210.75h1v8.64h-1zM532 210.75h1v8.64h-1zM552 210.75h1v8.64h-1zM484 228.04h1v8.64h-1zM473 253.96h2v8.64h-2zM571 305.82h2v8.64h-2zM569 323.10h2v8.64h-2zM596 323.10h1v8.64h-1zM589 331.75h1v8.64h-1zM560 340.39h1v8.64h-1zM578 340.39h2v8.64h-2zM581 340.39h1v8.64h-1zM555 349.03h1v8.64h-1zM573 349.03h1v8.64h-1zM583 349.03h1v8.64h-1zM614 349.03h1v8.64h-1zM589 366.32h1v8.64h-1zM597 366.32h1v8.64h-1zM618 366.32h1v8.64h-1zM629 366.32h2v8.64h-2z"/><path fill="#e47248" d="M441 124.33h2v8.64h-2zM454 132.97h2v8.64h-2zM463 141.61h2v8.64h-2zM471 150.25h1v8.64h-1zM439 167.54h2v8.64h-2zM438 176.18h1v8.64h-1zM443 176.18h2v8.64h-2zM448 193.47h2v8.64h-2zM451 202.11h1v8.64h-1zM509 210.75h1v8.64h-1zM512 210.75h1v8.64h-1zM634 340.39h1v8.64h-1zM569 349.03h2v8.64h-2z"/><path fill="#fcd290" d="M475 124.33h2v8.64h-2zM542 245.32h1v8.64h-1zM633 262.61h1v8.64h-1zM523 271.25h1v8.64h-1zM546 279.89h2v8.64h-2zM591 305.82h1v8.64h-1z"/><path fill="#72a2cc" d="M561 124.33h1v8.64h-1zM602 132.97h1v8.64h-1zM620 141.61h2v8.64h-2zM408 158.90h1v8.64h-1zM410 158.90h2v8.64h-2zM632 167.54h1v8.64h-1zM571 202.11h2v8.64h-2zM410 305.82h2v8.64h-2zM418 314.46h2v8.64h-2zM412 331.75h1v8.64h-1zM423 331.75h1v8.64h-1zM412 349.03h1v8.64h-1zM454 349.03h3v8.64h-3zM470 349.03h1v8.64h-1z"/><path fill="#ea724e" d="M426 132.97h1v8.64h-1zM468 132.97h2v8.64h-2zM439 176.18h2v8.64h-2zM468 176.18h2v8.64h-2zM448 184.82h2v8.64h-2zM445 202.11h1v8.64h-1zM582 305.82h1v8.64h-1zM595 305.82h1v8.64h-1zM593 323.10h2v8.64h-2zM593 340.39h2v8.64h-2zM585 366.32h2v8.64h-2z"/><path fill="#e4724e" d="M438 132.97h1v8.64h-1zM433 150.25h1v8.64h-1zM452 150.25h1v8.64h-1zM443 158.90h2v8.64h-2zM446 167.54h2v8.64h-2zM451 176.18h1v8.64h-1zM429 184.82h1v8.64h-1zM466 184.82h2v8.64h-2zM597 349.03h1v8.64h-1zM634 349.03h1v8.64h-1z"/><path fill="#c63c30" d="M448 132.97h2v8.64h-2zM448 150.25h2v8.64h-2zM453 150.25h1v8.64h-1zM429 158.90h1v8.64h-1zM473 210.75h2v8.64h-2z"/><path fill="#cc3c30" d="M472 132.97h1v8.64h-1zM429 176.18h1v8.64h-1zM463 176.18h2v8.64h-2zM466 176.18h2v8.64h-2z"/><path fill="#4e7eb4" d="M633 132.97h1v8.64h-1zM620 176.18h1v8.64h-1zM408 219.39h1v8.64h-1zM425 271.25h1v8.64h-1z"/><path fill="#fcba7e" d="M417 141.61h1v8.64h-1zM505 253.96h1v8.64h-1z"/><path fill="#fcc084" d="M418 141.61h2v8.64h-2zM571 271.25h2v8.64h-2zM633 331.75h1v8.64h-1zM598 357.67h1v8.64h-1z"/><path fill="#a2c6de" d="M597 141.61h1v8.64h-1zM624 150.25h2v8.64h-2z"/><path fill="#608aba" d="M615 141.61h2v8.64h-2zM573 176.18h1v8.64h-1zM602 176.18h1v8.64h-1zM409 228.04h1v8.64h-1zM425 245.32h1v8.64h-1z"/><path fill="#cc4830" d="M446 150.25h2v8.64h-2zM472 158.90h1v8.64h-1zM429 167.54h1v8.64h-1zM466 167.54h2v8.64h-2zM437 202.11h1v8.64h-1z"/><path fill="#5a8aba" d="M623 150.25h1v8.64h-1zM424 228.04h1v8.64h-1zM412 245.32h1v8.64h-1zM424 245.32h1v8.64h-1zM412 262.61h1v8.64h-1zM417 262.61h1v8.64h-1zM413 279.89h1v8.64h-1zM409 331.75h1v8.64h-1zM416 357.67h1v8.64h-1z"/><path fill="#d24836" d="M453 158.90h1v8.64h-1zM441 167.54h2v8.64h-2z"/><path fill="#cc4836" d="M453 167.54h1v8.64h-1zM448 176.18h2v8.64h-2z"/><path fill="#6696c0" d="M578 176.18h2v8.64h-2zM424 219.39h1v8.64h-1zM412 236.68h1v8.64h-1zM408 245.32h1v8.64h-1zM413 245.32h1v8.64h-1zM416 245.32h1v8.64h-1zM425 331.75h1v8.64h-1z"/><path fill="#4872b4" d="M623 176.18h1v8.64h-1zM573 184.82h1v8.64h-1zM414 279.89h2v8.64h-2zM412 297.18h1v8.64h-1zM416 305.82h1v8.64h-1zM414 357.67h2v8.64h-2z"/><path fill="#fc9660" d="M412 184.82h1v8.64h-1zM450 184.82h1v8.64h-1zM443 202.11h2v8.64h-2zM477 219.39h1v8.64h-1zM578 297.18h2v8.64h-2zM624 305.82h2v8.64h-2zM585 331.75h2v8.64h-2zM589 340.39h1v8.64h-1zM608 349.03h2v8.64h-2z"/><path fill="#d8603c" d="M448 202.11h2v8.64h-2z"/><path fill="#6c96c0" d="M407 210.75h6v8.64h-6zM407 219.39h1v8.64h-1zM413 219.39h1v8.64h-1zM417 228.04h1v8.64h-1zM408 262.61h1v8.64h-1zM417 288.53h3v8.64h-3zM423 288.53h1v8.64h-1zM417 297.18h1v8.64h-1z"/><path fill="#f08a5a" d="M477 210.75h1v8.64h-1z"/><path fill="#ea7e54" d="M624 349.03h2v8.64h-2zM578 366.32h2v8.64h-2z"/><path fill="#547eba" d="M409 357.67h1v8.64h-1z"/></g>
<rect x="473.1" y="37.9" width="0.8" height="345.7" fill="#ffffff" opacity="0.7"/>
<rect x="554.2" y="37.9" width="0.8" height="345.7" fill="#ffffff" opacity="0.7"/>
<rect x="407.4" y="38.30" width="18.00" height="85.10" fill="none" stroke="#111" stroke-width="1.2"/>
<rect x="426.4" y="125.30" width="46.00" height="84.50" fill="none" stroke="#111" stroke-width="1.2"/>
<rect x="473.6" y="210.90" width="79.90" height="86.30" fill="none" stroke="#111" stroke-width="1.2"/>
<rect x="555.6" y="298.60" width="80.40" height="84.60" fill="none" stroke="#111" stroke-width="1.2"/>
<text x="641.3" y="45.08" font-size="8.1" fill="#34449c">MCM4</text>
<text x="641.3" y="53.75" font-size="8.1" fill="#34449c">NES</text>
<text x="641.3" y="62.41" font-size="8.1" fill="#34449c">SYNE2</text>
<text x="641.3" y="71.08" font-size="8.1" fill="#34449c">MCM7</text>
<text x="641.3" y="79.74" font-size="8.1" fill="#34449c">MCM6</text>
<text x="641.3" y="88.41" font-size="8.1" fill="#34449c">MCM2</text>
<text x="641.3" y="97.07" font-size="8.1" fill="#34449c">MCM5</text>
<text x="641.3" y="105.74" font-size="8.1" fill="#34449c">HMGB2</text>
<text x="641.3" y="114.40" font-size="8.1" fill="#34449c">MCM3</text>
<text x="641.3" y="123.07" font-size="8.1" fill="#34449c">NASP</text>
<text x="641.3" y="131.73" font-size="8.1" fill="#72c6d6">GGH</text>
<text x="641.3" y="140.40" font-size="8.1" fill="#72c6d6">AARSD1</text>
<text x="641.3" y="149.06" font-size="8.1" fill="#72c6d6">CSK</text>
<text x="641.3" y="157.73" font-size="8.1" fill="#72c6d6">CAPG</text>
<text x="641.3" y="166.39" font-size="8.1" fill="#72c6d6">APP</text>
<text x="641.3" y="175.06" font-size="8.1" fill="#72c6d6">NUCB1</text>
<text x="641.3" y="183.72" font-size="8.1" fill="#72c6d6">CEP170</text>
<text x="641.3" y="192.39" font-size="8.1" fill="#72c6d6">PDE4DIP</text>
<text x="641.3" y="201.05" font-size="8.1" fill="#72c6d6">NSFL1C</text>
<text x="641.3" y="209.72" font-size="8.1" fill="#72c6d6">MACF1</text>
<text x="641.3" y="218.38" font-size="8.1" fill="#3a3a3a">CPNE2</text>
<text x="641.3" y="227.05" font-size="8.1" fill="#3a3a3a">PLPPR3</text>
<text x="641.3" y="235.71" font-size="8.1" fill="#3a3a3a">MAP1LC3A</text>
<text x="641.3" y="244.38" font-size="8.1" fill="#3a3a3a">STX12</text>
<text x="641.3" y="253.04" font-size="8.1" fill="#3a3a3a">DPYSL5</text>
<text x="641.3" y="261.71" font-size="8.1" fill="#3a3a3a">ALDH1B1</text>
<text x="641.3" y="270.37" font-size="8.1" fill="#3a3a3a">DCLK1</text>
<text x="641.3" y="279.04" font-size="8.1" fill="#3a3a3a">RASGRP2</text>
<text x="641.3" y="287.70" font-size="8.1" fill="#3a3a3a">CST3</text>
<text x="641.3" y="296.37" font-size="8.1" fill="#3a3a3a">NCS1</text>
<text x="641.3" y="305.03" font-size="8.1" fill="#d03a34">STXBP1</text>
<text x="641.3" y="313.70" font-size="8.1" fill="#d03a34">FBXL16</text>
<text x="641.3" y="322.36" font-size="8.1" fill="#d03a34">LRRC7</text>
<text x="641.3" y="331.03" font-size="8.1" fill="#d03a34">DLG4</text>
<text x="641.3" y="339.69" font-size="8.1" fill="#d03a34">ARHGAP44</text>
<text x="641.3" y="348.36" font-size="8.1" fill="#d03a34">CLTC</text>
<text x="641.3" y="357.02" font-size="8.1" fill="#d03a34">GLUL</text>
<text x="641.3" y="365.69" font-size="8.1" fill="#d03a34">RPH3A</text>
<text x="641.3" y="374.35" font-size="8.1" fill="#d03a34">RTN3</text>
<text x="641.3" y="383.02" font-size="8.1" fill="#d03a34">ANKS1B</text></svg></body></html>
